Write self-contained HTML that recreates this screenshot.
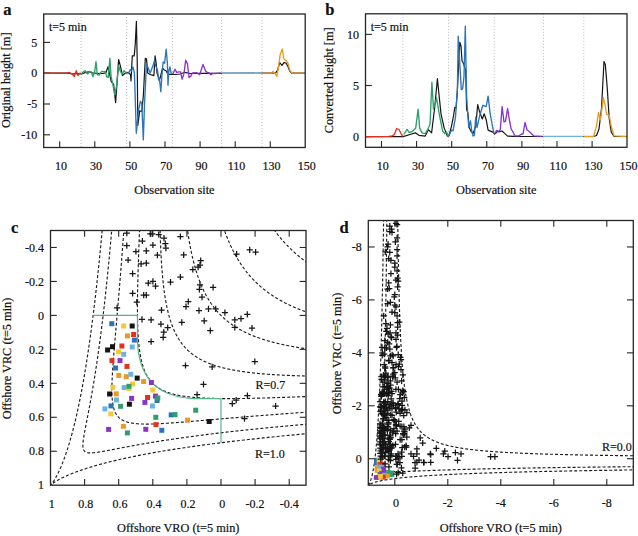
<!DOCTYPE html>
<html><head><meta charset="utf-8"><title>Figure</title>
<style>html,body{margin:0;padding:0;background:#fff;overflow:hidden}svg{display:block}</style>
</head><body>
<svg width="638" height="536" viewBox="0 0 638 536">
<defs>
<clipPath id="clipA"><rect x="43.7" y="14" width="261.5" height="133.5"/></clipPath>
<clipPath id="clipB"><rect x="365.5" y="13.8" width="261.5" height="133.5"/></clipPath>
<clipPath id="clipC"><rect x="50.5" y="230.5" width="255.5" height="254.7"/></clipPath>
<clipPath id="clipD"><rect x="368.3" y="220.5" width="265" height="264.7"/></clipPath>
</defs>
<rect width="638" height="536" fill="#fff"/>
<g font-family='"Liberation Serif", serif' fill="#111">
<line x1="81" y1="14" x2="81" y2="147.5" stroke="#b4b4b4" stroke-width="0.9" stroke-dasharray="1,2"/>
<line x1="126.7" y1="14" x2="126.7" y2="147.5" stroke="#b4b4b4" stroke-width="0.9" stroke-dasharray="1,2"/>
<line x1="172.4" y1="14" x2="172.4" y2="147.5" stroke="#b4b4b4" stroke-width="0.9" stroke-dasharray="1,2"/>
<line x1="221.7" y1="14" x2="221.7" y2="147.5" stroke="#b4b4b4" stroke-width="0.9" stroke-dasharray="1,2"/>
<line x1="262" y1="14" x2="262" y2="147.5" stroke="#b4b4b4" stroke-width="0.9" stroke-dasharray="1,2"/>
<line x1="59.69" y1="147.5" x2="59.69" y2="141.2" stroke="#262626" stroke-width="1.1"/>
<line x1="94.79" y1="147.5" x2="94.79" y2="141.2" stroke="#262626" stroke-width="1.1"/>
<line x1="129.89" y1="147.5" x2="129.89" y2="141.2" stroke="#262626" stroke-width="1.1"/>
<line x1="165" y1="147.5" x2="165" y2="141.2" stroke="#262626" stroke-width="1.1"/>
<line x1="200.09" y1="147.5" x2="200.09" y2="141.2" stroke="#262626" stroke-width="1.1"/>
<line x1="235.19" y1="147.5" x2="235.19" y2="141.2" stroke="#262626" stroke-width="1.1"/>
<line x1="270.29" y1="147.5" x2="270.29" y2="141.2" stroke="#262626" stroke-width="1.1"/>
<line x1="43.7" y1="42.4" x2="50" y2="42.4" stroke="#262626" stroke-width="1.1"/>
<text x="37.2" y="46.6" font-size="12" text-anchor="end" font-weight="normal" stroke="#111" stroke-width="0.2" >5</text>
<line x1="43.7" y1="73.2" x2="50" y2="73.2" stroke="#262626" stroke-width="1.1"/>
<text x="37.2" y="77.4" font-size="12" text-anchor="end" font-weight="normal" stroke="#111" stroke-width="0.2" >0</text>
<line x1="43.7" y1="104" x2="50" y2="104" stroke="#262626" stroke-width="1.1"/>
<text x="37.2" y="108.2" font-size="12" text-anchor="end" font-weight="normal" stroke="#111" stroke-width="0.2" >-5</text>
<line x1="43.7" y1="134.8" x2="50" y2="134.8" stroke="#262626" stroke-width="1.1"/>
<text x="37.2" y="139" font-size="12" text-anchor="end" font-weight="normal" stroke="#111" stroke-width="0.2" >-10</text>
<text x="60.99" y="169.5" font-size="12" text-anchor="middle" font-weight="normal" stroke="#111" stroke-width="0.2" >10</text>
<text x="96.09" y="169.5" font-size="12" text-anchor="middle" font-weight="normal" stroke="#111" stroke-width="0.2" >30</text>
<text x="131.19" y="169.5" font-size="12" text-anchor="middle" font-weight="normal" stroke="#111" stroke-width="0.2" >50</text>
<text x="166.3" y="169.5" font-size="12" text-anchor="middle" font-weight="normal" stroke="#111" stroke-width="0.2" >70</text>
<text x="201.4" y="169.5" font-size="12" text-anchor="middle" font-weight="normal" stroke="#111" stroke-width="0.2" >90</text>
<text x="236.5" y="169.5" font-size="12" text-anchor="middle" font-weight="normal" stroke="#111" stroke-width="0.2" >110</text>
<text x="271.59" y="169.5" font-size="12" text-anchor="middle" font-weight="normal" stroke="#111" stroke-width="0.2" >130</text>
<text x="306.69" y="169.5" font-size="12" text-anchor="middle" font-weight="normal" stroke="#111" stroke-width="0.2" >150</text>
<text x="174.45" y="193.9" font-size="12.3" text-anchor="middle" font-weight="normal" stroke="#111" stroke-width="0.2" >Observation site</text>
<text x="0" y="0" font-size="12.3" text-anchor="middle" font-weight="normal" stroke="#111" stroke-width="0.2" transform="translate(9.9,80.3) rotate(-90)">Original height [m]</text>
<text x="3.2" y="15" font-size="16.5" text-anchor="start" font-weight="bold" stroke="#111" stroke-width="0.2" >a</text>
<text x="48.9" y="30.6" font-size="12" text-anchor="start" font-weight="normal" stroke="#111" stroke-width="0.2" >t=5 min</text>
<line x1="402.8" y1="13.8" x2="402.8" y2="147.3" stroke="#b4b4b4" stroke-width="0.9" stroke-dasharray="1,2"/>
<line x1="448.5" y1="13.8" x2="448.5" y2="147.3" stroke="#b4b4b4" stroke-width="0.9" stroke-dasharray="1,2"/>
<line x1="494.2" y1="13.8" x2="494.2" y2="147.3" stroke="#b4b4b4" stroke-width="0.9" stroke-dasharray="1,2"/>
<line x1="543.5" y1="13.8" x2="543.5" y2="147.3" stroke="#b4b4b4" stroke-width="0.9" stroke-dasharray="1,2"/>
<line x1="583.8" y1="13.8" x2="583.8" y2="147.3" stroke="#b4b4b4" stroke-width="0.9" stroke-dasharray="1,2"/>
<line x1="381.5" y1="147.3" x2="381.5" y2="141" stroke="#262626" stroke-width="1.1"/>
<line x1="416.59" y1="147.3" x2="416.59" y2="141" stroke="#262626" stroke-width="1.1"/>
<line x1="451.69" y1="147.3" x2="451.69" y2="141" stroke="#262626" stroke-width="1.1"/>
<line x1="486.79" y1="147.3" x2="486.79" y2="141" stroke="#262626" stroke-width="1.1"/>
<line x1="521.89" y1="147.3" x2="521.89" y2="141" stroke="#262626" stroke-width="1.1"/>
<line x1="557" y1="147.3" x2="557" y2="141" stroke="#262626" stroke-width="1.1"/>
<line x1="592.1" y1="147.3" x2="592.1" y2="141" stroke="#262626" stroke-width="1.1"/>
<line x1="365.5" y1="34.4" x2="371.8" y2="34.4" stroke="#262626" stroke-width="1.1"/>
<text x="359" y="38.6" font-size="12" text-anchor="end" font-weight="normal" stroke="#111" stroke-width="0.2" >10</text>
<line x1="365.5" y1="85.5" x2="371.8" y2="85.5" stroke="#262626" stroke-width="1.1"/>
<text x="359" y="89.7" font-size="12" text-anchor="end" font-weight="normal" stroke="#111" stroke-width="0.2" >5</text>
<line x1="365.5" y1="136.6" x2="371.8" y2="136.6" stroke="#262626" stroke-width="1.1"/>
<text x="359" y="140.8" font-size="12" text-anchor="end" font-weight="normal" stroke="#111" stroke-width="0.2" >0</text>
<text x="382.8" y="169.5" font-size="12" text-anchor="middle" font-weight="normal" stroke="#111" stroke-width="0.2" >10</text>
<text x="417.89" y="169.5" font-size="12" text-anchor="middle" font-weight="normal" stroke="#111" stroke-width="0.2" >30</text>
<text x="453" y="169.5" font-size="12" text-anchor="middle" font-weight="normal" stroke="#111" stroke-width="0.2" >50</text>
<text x="488.09" y="169.5" font-size="12" text-anchor="middle" font-weight="normal" stroke="#111" stroke-width="0.2" >70</text>
<text x="523.19" y="169.5" font-size="12" text-anchor="middle" font-weight="normal" stroke="#111" stroke-width="0.2" >90</text>
<text x="558.29" y="169.5" font-size="12" text-anchor="middle" font-weight="normal" stroke="#111" stroke-width="0.2" >110</text>
<text x="593.39" y="169.5" font-size="12" text-anchor="middle" font-weight="normal" stroke="#111" stroke-width="0.2" >130</text>
<text x="628.49" y="169.5" font-size="12" text-anchor="middle" font-weight="normal" stroke="#111" stroke-width="0.2" >150</text>
<text x="496.25" y="193.9" font-size="12.3" text-anchor="middle" font-weight="normal" stroke="#111" stroke-width="0.2" >Observation site</text>
<text x="0" y="0" font-size="12.3" text-anchor="middle" font-weight="normal" stroke="#111" stroke-width="0.2" transform="translate(332.6,80.3) rotate(-90)">Converted height [m]</text>
<text x="325.3" y="15" font-size="16.5" text-anchor="start" font-weight="bold" stroke="#111" stroke-width="0.2" >b</text>
<text x="370.7" y="30.6" font-size="12" text-anchor="start" font-weight="normal" stroke="#111" stroke-width="0.2" >t=5 min</text>
<g clip-path="url(#clipA)">
<polyline points="43.9,73.2 66,73.2 68,72.8 71,73.6 74,73.8 77,73.5 81.7,74 85.6,72.4 88.9,71.8 92.3,72.9 97.9,73.5 103.5,73.5 106,72.5 108,66.8 109.6,74 111.3,81.9 113.6,84.1 115.6,102.6 116.9,84.7 118.6,59.5 120.3,65.7 122.5,75.7 124.7,73.5 128,72.5 130.5,74.4 131,80.9 132.3,55.9 134.2,55.9 135.2,45 136.4,21.4 137.2,60 137.8,125.3 139.7,110.8 141.8,111.5 143.3,96.2 145.3,58.4 146.5,58.9 147.7,73.1 150,74.5 153.9,75.6 155.1,55.9 156.3,64.5 157,73 158.8,78 160,78.7 162.5,68.2 164.3,70 166,70.7 168,74.4 171.7,74.4 175,74.5 180,74 185,72.3 190,73.5 200,73.4 262,73.2 272,73.2 275.8,72.6 277.5,70.5 279.7,62.5 281.9,65.3 284.2,62.5 286,63 288,66.5 289.8,71.4 292,73.2 305,73.2" fill="none" stroke="#151515" stroke-width="1.2" stroke-linejoin="round" />
<polyline points="43.9,73.2 67,73.2 69.5,72.5 72,73.8 74.3,76.6 76.3,70.8 78,75.5 79.5,73.5 81,73.2" fill="none" stroke="#e0321e" stroke-width="1.35" stroke-linejoin="round" />
<polyline points="81.7,73.5 83.4,71.8 85,70.7 86.2,72.4 87.8,74 89.5,71.3 91.2,71.8 92.9,76.8 94.5,72.9 96,61.7 97.3,74.6 99,75.2 100.7,72.4 102.4,71.3 104,71.8 105.2,71.3 106.8,76.8 108.2,77.4 109.9,58.4 111.1,76.8 112.7,83.6 114.7,94.7 116.4,86.9 118.6,65.7 120.3,71.3 122.3,74 124,70.7 125.9,72.9" fill="none" stroke="#2f9e6c" stroke-width="1.35" stroke-linejoin="round" />
<polyline points="127.5,73.5 128.5,73.1 130.3,69.5 131.5,70.7 132.9,67 134.2,71.9 134.6,78 136.3,133.3 138.5,110 140.4,101.3 141.8,103.5 143.3,139.9 144.5,105 146.2,70 146.5,64.5 148.3,68.2 150.2,73.1 152,68.2 153.3,64.5 154.5,60.8 155.7,65.7 157.6,70.6 158.6,80.2 159.4,78 160.8,91.8 162,75 163.1,62 164.6,63.2 166.2,49.1 167.4,63.2 168,85.3 168.7,72 169.9,67 171.1,73.1 172.4,73.1" fill="none" stroke="#2c74b8" stroke-width="1.35" stroke-linejoin="round" />
<polyline points="172.8,74.2 175,69.3 176.7,72.4 179,71.9 180.6,71.9 182.1,79.2 184,73.6 185.7,60.2 187.4,63.5 189,77.5 190.7,76.4 192.4,73 196.9,72.7 199.7,74.7 203,64.4 205.8,71.4 207.5,72.5 209.2,73 210.9,74.7 212.6,73.6 221,73.2" fill="none" stroke="#8a35c4" stroke-width="1.35" stroke-linejoin="round" />
<polyline points="221.7,73.2 262,73.2" fill="none" stroke="#6cb2e4" stroke-width="1.35" stroke-linejoin="round" />
<polyline points="262.3,73.1 271.8,73.1 273,71.4 274.1,72.6 275.2,73.1 276.9,76.5 278.6,65.8 280.2,54.6 282.3,49 283.6,58 284.7,59.7 286.4,60.8 288.1,63.6 289.2,68 290.3,71.4 292.6,73.1 304.9,73.1" fill="none" stroke="#e99a26" stroke-width="1.35" stroke-linejoin="round" />
</g>
<g clip-path="url(#clipB)">
<polyline points="365.7,136.6 403,136.6 412.5,133.7 415.7,132.9 418.9,135.3 425.2,136.1 428.4,129.7 431.6,132.9 434.7,107.5 437.4,78.7 438.7,91.7 441,113.9 444.2,128.1 447.4,136.1 448.9,136 451.5,126.2 453.5,115.8 454.8,107.3 456.1,107.9 457.4,89.6 459.8,42.3 461,46 462,60.7 463.4,63.2 464.5,66.9 465.7,70 466.6,109.2 467.9,113.1 469.2,127.5 471.1,131.5 473.1,133.4 475.7,126.2 477.7,104.6 479.6,111.8 482.3,119 484.2,113.8 486.2,119.7 488.1,130.1 492.7,132.1 494.7,134 497.3,131.7 499.7,131.7 502.1,131 504.6,133.4 507.6,136.1 514,136.4 593.6,136.5 596.5,135.5 599,129 601.5,108.4 604,61.5 605.3,64.4 607.3,88.9 609.2,118.3 611.2,132 614.1,136.5 627,136.5" fill="none" stroke="#151515" stroke-width="1.2" stroke-linejoin="round" />
<polyline points="365.7,136.6 388.8,136.3 392,135.8 394.3,134.5 396.7,128.5 399,129.5 401,133.5 402.7,136.6" fill="none" stroke="#e0321e" stroke-width="1.35" stroke-linejoin="round" />
<polyline points="403.8,134.5 407,129.4 409.4,132.6 412.5,131.3 415.7,128.1 418.1,109.1 419.7,128.1 422.1,132.9 425.2,133.7 427.6,129.7 430,124.2 431.9,82.2 433.5,109.1 436.6,98 439.5,115.5 442.7,131.3 445,133.7 446.6,132.1 448.2,136.1" fill="none" stroke="#2f9e6c" stroke-width="1.35" stroke-linejoin="round" />
<polyline points="448.9,136 451.5,130.1 453,130.8 455.5,117.1 457.4,89.6 458.2,36.1 461.3,89.6 462.6,89 464,76.5 465.3,26.1 466.6,96.1 467.9,115.8 468.8,127.5 470.5,121 471.8,131.5 473.1,136 474.4,135.4 475.7,117.1 477,127.5 479.6,115.8 482.9,105.3 486.2,106.6 488.1,96.1 490.1,113.1 492.7,127.5 494,134" fill="none" stroke="#2c74b8" stroke-width="1.35" stroke-linejoin="round" />
<polyline points="494.6,134 496.7,130.4 498.5,131.6 500.3,129.8 502.1,106.7 504,121.9 505.5,121.3 507.6,108.5 509.4,120 511.2,129.2 513.1,132.2 514.9,135.8 519.1,135.8 521.6,134 523,134 525,122.5 527,129.8 530,132.2 533.7,135.8 542.8,136.4" fill="none" stroke="#8a35c4" stroke-width="1.35" stroke-linejoin="round" />
<polyline points="543,136.4 583.5,136.4" fill="none" stroke="#6cb2e4" stroke-width="1.35" stroke-linejoin="round" />
<polyline points="583.8,136.5 593.6,136.5 596.5,126.1 598.5,112.4 600.4,120.2 603.4,97.7 605.3,106.5 606.7,114.4 609.2,115.4 611.2,126.1 614.1,135.9 626.8,136.5" fill="none" stroke="#e99a26" stroke-width="1.35" stroke-linejoin="round" />
</g>
<rect x="43.7" y="14" width="261.5" height="133.5" fill="none" stroke="#262626" stroke-width="1.3"/>
<rect x="365.5" y="13.8" width="261.5" height="133.5" fill="none" stroke="#262626" stroke-width="1.3"/>
<g clip-path="url(#clipC)">
<polyline points="260.97,208 261.04,208.16 261.12,208.31 261.2,208.46 261.28,208.62 261.36,208.77 261.44,208.93 261.52,209.08 261.6,209.23 261.68,209.39 261.76,209.54 261.84,209.69 261.92,209.85 262,210 262.08,210.15 262.16,210.3 262.24,210.45 262.32,210.61 262.4,210.76 262.48,210.91 262.56,211.06 262.64,211.21 262.72,211.36 262.8,211.51 262.88,211.66 262.96,211.82 263.04,211.97 263.12,212.12 263.21,212.27 263.29,212.42 263.37,212.57 263.45,212.72 263.53,212.86 263.61,213.01 263.7,213.16 263.78,213.31 263.86,213.46 263.94,213.61 264.02,213.76 264.11,213.91 264.19,214.05 264.27,214.2 264.35,214.35 264.44,214.5 264.52,214.64 264.6,214.79 264.68,214.94 264.77,215.09 264.85,215.23 264.93,215.38 265.02,215.53 265.1,215.67 265.18,215.82 265.27,215.96 265.35,216.11 265.44,216.26 265.52,216.4 265.6,216.55 265.69,216.69 265.77,216.84 265.86,216.98 265.94,217.13 266.03,217.27 266.11,217.42 266.2,217.56 266.28,217.7 266.37,217.85 266.45,217.99 266.54,218.13 266.62,218.28 266.71,218.42 266.79,218.56 266.88,218.71 266.96,218.85 267.05,218.99 267.13,219.14 267.22,219.28 267.31,219.42 267.39,219.56 267.48,219.7 267.57,219.85 267.65,219.99 267.74,220.13 267.82,220.27 267.91,220.41 268,220.55 268.09,220.69 268.17,220.83 268.26,220.97 268.35,221.11 268.43,221.25 268.52,221.39 268.61,221.53 268.7,221.67 268.78,221.81 268.87,221.95 268.96,222.09 269.05,222.23 269.14,222.37 269.23,222.51 269.31,222.65 269.4,222.79 269.49,222.92 269.58,223.06 269.67,223.2 269.76,223.34 269.85,223.47 269.93,223.61 270.02,223.75 270.11,223.89 270.2,224.02 270.29,224.16 270.38,224.3 270.47,224.43 270.56,224.57 270.65,224.71 270.74,224.84 270.83,224.98 270.92,225.12 271.01,225.25 271.1,225.39 271.19,225.52 271.28,225.66 271.37,225.79 271.47,225.93 271.56,226.06 271.65,226.2 271.74,226.33 271.83,226.47 271.92,226.6 272.01,226.73 272.1,226.87 272.2,227 272.29,227.14 272.38,227.27 272.47,227.4 272.56,227.54 272.66,227.67 272.75,227.8 272.84,227.93 272.93,228.07 273.03,228.2 273.12,228.33 273.21,228.46 273.31,228.6 273.4,228.73 273.49,228.86 273.59,228.99 273.68,229.12 273.77,229.25 273.87,229.38 273.96,229.52 274.05,229.65 274.15,229.78 274.24,229.91 274.34,230.04 274.43,230.17 274.52,230.3 274.62,230.43 274.71,230.56 274.81,230.69 274.9,230.82 275,230.95 275.09,231.08 275.19,231.2 275.28,231.33 275.38,231.46 275.47,231.59 275.57,231.72 275.67,231.85 275.76,231.98 275.86,232.1 275.95,232.23 276.05,232.36 276.15,232.49 276.24,232.62 276.34,232.74 276.44,232.87 276.53,233 276.63,233.12 276.73,233.25 276.82,233.38 276.92,233.5 277.02,233.63 277.11,233.76 277.21,233.88 277.31,234.01 277.41,234.13 277.51,234.26 277.6,234.39 277.7,234.51 277.8,234.64 277.9,234.76 278,234.89 278.09,235.01 278.19,235.14 278.29,235.26 278.39,235.38 278.49,235.51 278.59,235.63 278.69,235.76 278.79,235.88 278.89,236 278.99,236.13 279.09,236.25 279.19,236.38 279.29,236.5 279.39,236.62 279.49,236.74 279.59,236.87 279.69,236.99 279.79,237.11 279.89,237.23 279.99,237.36 280.09,237.48 280.19,237.6 280.29,237.72 280.39,237.84 280.49,237.97 280.59,238.09 280.7,238.21 280.8,238.33 280.9,238.45 281,238.57 281.1,238.69 281.2,238.81 281.31,238.93 281.41,239.05 281.51,239.17 281.61,239.29 281.72,239.41 281.82,239.53 281.92,239.65 282.03,239.77 282.13,239.89 282.23,240.01 282.34,240.13 282.44,240.25 282.54,240.37 282.65,240.49 282.75,240.6 282.85,240.72 282.96,240.84 283.06,240.96 283.17,241.08 283.27,241.2 283.38,241.31 283.48,241.43 283.58,241.55 283.69,241.67 283.79,241.78 283.9,241.9 284,242.02 284.11,242.13 284.22,242.25 284.32,242.37 284.43,242.48 284.53,242.6 284.64,242.72 284.74,242.83 284.85,242.95 284.96,243.06 285.06,243.18 285.17,243.3 285.28,243.41 285.38,243.53 285.49,243.64 285.6,243.76 285.71,243.87 285.81,243.99 285.92,244.1 286.03,244.22 286.14,244.33 286.24,244.44 286.35,244.56 286.46,244.67 286.57,244.79 286.68,244.9 286.78,245.01 286.89,245.13 287,245.24 287.11,245.35 287.22,245.47 287.33,245.58 287.44,245.69 287.55,245.8 287.66,245.92 287.76,246.03 287.87,246.14 287.98,246.25 288.09,246.37 288.2,246.48 288.31,246.59 288.42,246.7 288.54,246.81 288.65,246.92 288.76,247.04 288.87,247.15 288.98,247.26 289.09,247.37 289.2,247.48 289.31,247.59 289.42,247.7 289.53,247.81 289.65,247.92 289.76,248.03 289.87,248.14 289.98,248.25 290.09,248.36 290.21,248.47 290.32,248.58 290.43,248.69 290.54,248.8 290.66,248.91 290.77,249.02 290.88,249.13 291,249.24 291.11,249.34 291.22,249.45 291.34,249.56 291.45,249.67 291.56,249.78 291.68,249.89 291.79,249.99 291.91,250.1 292.02,250.21 292.13,250.32 292.25,250.42 292.36,250.53 292.48,250.64 292.59,250.75 292.71,250.85 292.82,250.96 292.94,251.07 293.05,251.17 293.17,251.28 293.29,251.39 293.4,251.49 293.52,251.6 293.63,251.71 293.75,251.81 293.87,251.92 293.98,252.02 294.1,252.13 294.22,252.23 294.33,252.34 294.45,252.44 294.57,252.55 294.69,252.65 294.8,252.76 294.92,252.86 295.04,252.97 295.16,253.07 295.27,253.18 295.39,253.28 295.51,253.39 295.63,253.49 295.75,253.59 295.87,253.7 295.98,253.8 296.1,253.9 296.22,254.01 296.34,254.11 296.46,254.21 296.58,254.32 296.7,254.42 296.82,254.52 296.94,254.63 297.06,254.73 297.18,254.83 297.3,254.93 297.42,255.03 297.54,255.14 297.66,255.24 297.78,255.34 297.9,255.44 298.02,255.54 298.15,255.65 298.27,255.75 298.39,255.85 298.51,255.95 298.63,256.05 298.75,256.15 298.88,256.25 299,256.35 299.12,256.45 299.24,256.55 299.37,256.65 299.49,256.75 299.61,256.85 299.73,256.95 299.86,257.05 299.98,257.15 300.1,257.25 300.23,257.35 300.35,257.45 300.47,257.55 300.6,257.65 300.72,257.75 300.85,257.85 300.97,257.95 301.1,258.05 301.22,258.15 301.35,258.24 301.47,258.34 301.6,258.44 301.72,258.54 301.85,258.64 301.97,258.74 302.1,258.83 302.22,258.93 302.35,259.03 302.47,259.13 302.6,259.22 302.73,259.32 302.85,259.42 302.98,259.52 303.11,259.61 303.23,259.71 303.36,259.81 303.49,259.9 303.62,260 303.74,260.1 303.87,260.19 304,260.29 304.13,260.38 304.25,260.48 304.38,260.58 304.51,260.67 304.64,260.77 304.77,260.86 304.9,260.96 305.03,261.05 305.15,261.15 305.28,261.24 305.41,261.34 305.54,261.43 305.67,261.53 305.8,261.62 305.93,261.72 306.06,261.81 306.19,261.91 306.32,262 306.45,262.1 306.58,262.19 306.71,262.28 306.85,262.38 306.98,262.47 307.11,262.56 307.24,262.66 307.37,262.75 307.5,262.84 307.63,262.94 307.77,263.03 307.9,263.12 308.03,263.22 308.16,263.31 308.3,263.4 308.43,263.49 308.56,263.59 308.69,263.68 308.83,263.77 308.96,263.86 309.09,263.96 309.23,264.05 309.36,264.14 309.49,264.23 309.63,264.32 309.76,264.41 309.9,264.51 310.03,264.6 310.17,264.69 310.3,264.78 310.44,264.87 310.57,264.96 310.71,265.05 310.84,265.14 310.98,265.23 311.11,265.32 311.25,265.41 311.38,265.5 311.52,265.59 311.66,265.68 311.79,265.77 311.93,265.86 312.07,265.95 312.2,266.04 312.34,266.13 312.48,266.22 312.62,266.31 312.75,266.4 312.89,266.49 313.03,266.58 313.17,266.67 313.3,266.75 313.44,266.84 313.58,266.93 313.72,267.02 313.86,267.11 314,267.2 314.14,267.28 314.27,267.37 314.41,267.46 314.55,267.55 314.69,267.64 314.83,267.72 314.97,267.81 315.11,267.9 315.25,267.99 315.39,268.07 315.53,268.16 315.68,268.25 315.82,268.33 315.96,268.42 316.1,268.51 316.24,268.59 316.38,268.68 316.52,268.77 316.66,268.85 316.81,268.94 316.95,269.03 317.09,269.11 317.23,269.2 317.38,269.28 317.52,269.37 317.66,269.46 317.8,269.54 317.95,269.63 318.09,269.71 318.23,269.8 318.38,269.88 318.52,269.97 318.67,270.05 318.81,270.14 318.95,270.22 319.1,270.31 319.24,270.39 319.39,270.47 319.53,270.56 319.68,270.64 319.82,270.73 319.97,270.81 320.12,270.9 320.26,270.98 320.41,271.06 320.55,271.15 320.7,271.23 320.85,271.31 320.99,271.4 321.14,271.48 321.29,271.56 321.43,271.65 321.58,271.73 321.73,271.81 321.88,271.89 322.02,271.98 322.17,272.06 322.32,272.14 322.47,272.22 322.62,272.31 322.76,272.39 322.91,272.47 323.06,272.55 323.21,272.63 323.36,272.72 323.51,272.8 323.66,272.88 323.81,272.96 323.96,273.04 324.11,273.12 324.26,273.21 324.41,273.29 324.56,273.37 324.71,273.45 324.86,273.53 325.01,273.61 325.16,273.69 325.31,273.77 325.47,273.85 325.62,273.93 325.77,274.01 325.92,274.09 326.07,274.17 326.23,274.25 326.38,274.33 326.53,274.41 326.68,274.49 326.84,274.57 326.99,274.65 327.14,274.73 327.3,274.81 327.45,274.89 327.6,274.97 327.76,275.05 327.91,275.13 328.07,275.21 328.22,275.28 328.38,275.36 328.53,275.44 328.69,275.52 328.84,275.6" fill="none" stroke="#1c1c1c" stroke-width="1.15" stroke-linejoin="round" stroke-dasharray="3,2" stroke-linejoin="round"/>
<polyline points="217.52,207.28 217.61,207.61 217.69,207.95 217.78,208.28 217.86,208.61 217.95,208.95 218.03,209.28 218.12,209.61 218.2,209.94 218.29,210.27 218.38,210.6 218.46,210.92 218.55,211.25 218.64,211.58 218.72,211.9 218.81,212.23 218.9,212.55 218.99,212.88 219.08,213.2 219.16,213.52 219.25,213.84 219.34,214.17 219.43,214.49 219.52,214.81 219.61,215.12 219.7,215.44 219.79,215.76 219.88,216.08 219.97,216.39 220.06,216.71 220.15,217.02 220.24,217.34 220.34,217.65 220.43,217.97 220.52,218.28 220.61,218.59 220.7,218.9 220.8,219.21 220.89,219.52 220.98,219.83 221.08,220.14 221.17,220.45 221.26,220.75 221.36,221.06 221.45,221.37 221.55,221.67 221.64,221.98 221.74,222.28 221.83,222.58 221.93,222.89 222.02,223.19 222.12,223.49 222.22,223.79 222.31,224.09 222.41,224.39 222.51,224.69 222.6,224.99 222.7,225.29 222.8,225.58 222.9,225.88 223,226.17 223.09,226.47 223.19,226.76 223.29,227.06 223.39,227.35 223.49,227.64 223.59,227.94 223.69,228.23 223.79,228.52 223.89,228.81 223.99,229.1 224.09,229.39 224.2,229.67 224.3,229.96 224.4,230.25 224.5,230.53 224.6,230.82 224.71,231.11 224.81,231.39 224.91,231.67 225.02,231.96 225.12,232.24 225.22,232.52 225.33,232.8 225.43,233.09 225.54,233.37 225.64,233.65 225.75,233.92 225.85,234.2 225.96,234.48 226.06,234.76 226.17,235.04 226.28,235.31 226.38,235.59 226.49,235.86 226.6,236.14 226.71,236.41 226.81,236.68 226.92,236.96 227.03,237.23 227.14,237.5 227.25,237.77 227.36,238.04 227.47,238.31 227.58,238.58 227.69,238.85 227.8,239.12 227.91,239.38 228.02,239.65 228.13,239.92 228.24,240.18 228.35,240.45 228.47,240.71 228.58,240.98 228.69,241.24 228.8,241.5 228.92,241.77 229.03,242.03 229.14,242.29 229.26,242.55 229.37,242.81 229.49,243.07 229.6,243.33 229.72,243.59 229.83,243.84 229.95,244.1 230.06,244.36 230.18,244.61 230.3,244.87 230.41,245.12 230.53,245.38 230.65,245.63 230.76,245.89 230.88,246.14 231,246.39 231.12,246.64 231.24,246.89 231.36,247.15 231.48,247.4 231.6,247.64 231.72,247.89 231.84,248.14 231.96,248.39 232.08,248.64 232.2,248.88 232.32,249.13 232.44,249.38 232.56,249.62 232.69,249.87 232.81,250.11 232.93,250.35 233.05,250.6 233.18,250.84 233.3,251.08 233.43,251.32 233.55,251.57 233.67,251.81 233.8,252.05 233.93,252.29 234.05,252.52 234.18,252.76 234.3,253 234.43,253.24 234.56,253.48 234.68,253.71 234.81,253.95 234.94,254.18 235.07,254.42 235.2,254.65 235.32,254.89 235.45,255.12 235.58,255.35 235.71,255.58 235.84,255.82 235.97,256.05 236.1,256.28 236.23,256.51 236.36,256.74 236.5,256.97 236.63,257.2 236.76,257.42 236.89,257.65 237.03,257.88 237.16,258.11 237.29,258.33 237.43,258.56 237.56,258.78 237.69,259.01 237.83,259.23 237.96,259.46 238.1,259.68 238.23,259.9 238.37,260.12 238.51,260.35 238.64,260.57 238.78,260.79 238.92,261.01 239.05,261.23 239.19,261.45 239.33,261.67 239.47,261.88 239.61,262.1 239.75,262.32 239.89,262.54 240.03,262.75 240.17,262.97 240.31,263.19 240.45,263.4 240.59,263.61 240.73,263.83 240.87,264.04 241.02,264.26 241.16,264.47 241.3,264.68 241.44,264.89 241.59,265.1 241.73,265.31 241.88,265.52 242.02,265.73 242.17,265.94 242.31,266.15 242.46,266.36 242.6,266.57 242.75,266.78 242.9,266.98 243.04,267.19 243.19,267.4 243.34,267.6 243.49,267.81 243.63,268.01 243.78,268.22 243.93,268.42 244.08,268.62 244.23,268.83 244.38,269.03 244.53,269.23 244.68,269.43 244.83,269.64 244.98,269.84 245.14,270.04 245.29,270.24 245.44,270.44 245.59,270.63 245.75,270.83 245.9,271.03 246.06,271.23 246.21,271.43 246.36,271.62 246.52,271.82 246.68,272.01 246.83,272.21 246.99,272.41 247.14,272.6 247.3,272.79 247.46,272.99 247.62,273.18 247.77,273.37 247.93,273.57 248.09,273.76 248.25,273.95 248.41,274.14 248.57,274.33 248.73,274.52 248.89,274.71 249.05,274.9 249.21,275.09 249.37,275.28 249.54,275.47 249.7,275.65 249.86,275.84 250.02,276.03 250.19,276.21 250.35,276.4 250.52,276.59 250.68,276.77 250.85,276.96 251.01,277.14 251.18,277.32 251.34,277.51 251.51,277.69 251.68,277.87 251.85,278.06 252.01,278.24 252.18,278.42 252.35,278.6 252.52,278.78 252.69,278.96 252.86,279.14 253.03,279.32 253.2,279.5 253.37,279.68 253.54,279.85 253.71,280.03 253.88,280.21 254.06,280.39 254.23,280.56 254.4,280.74 254.58,280.92 254.75,281.09 254.93,281.27 255.1,281.44 255.28,281.61 255.45,281.79 255.63,281.96 255.8,282.13 255.98,282.31 256.16,282.48 256.34,282.65 256.51,282.82 256.69,282.99 256.87,283.16 257.05,283.33 257.23,283.5 257.41,283.67 257.59,283.84 257.77,284.01 257.95,284.18 258.13,284.35 258.32,284.51 258.5,284.68 258.68,284.85 258.87,285.01 259.05,285.18 259.23,285.35 259.42,285.51 259.6,285.68 259.79,285.84 259.97,286 260.16,286.17 260.35,286.33 260.53,286.49 260.72,286.66 260.91,286.82 261.1,286.98 261.29,287.14 261.48,287.3 261.67,287.46 261.86,287.62 262.05,287.78 262.24,287.94 262.43,288.1 262.62,288.26 262.81,288.42 263.01,288.58 263.2,288.74 263.39,288.89 263.59,289.05 263.78,289.21 263.98,289.36 264.17,289.52 264.37,289.67 264.56,289.83 264.76,289.98 264.96,290.14 265.16,290.29 265.35,290.45 265.55,290.6 265.75,290.75 265.95,290.91 266.15,291.06 266.35,291.21 266.55,291.36 266.75,291.51 266.95,291.66 267.16,291.81 267.36,291.97 267.56,292.12 267.76,292.26 267.97,292.41 268.17,292.56 268.38,292.71 268.58,292.86 268.79,293.01 268.99,293.15 269.2,293.3 269.41,293.45 269.62,293.59 269.82,293.74 270.03,293.89 270.24,294.03 270.45,294.18 270.66,294.32 270.87,294.47 271.08,294.61 271.29,294.75 271.5,294.9 271.72,295.04 271.93,295.18 272.14,295.32 272.35,295.47 272.57,295.61 272.78,295.75 273,295.89 273.21,296.03 273.43,296.17 273.65,296.31 273.86,296.45 274.08,296.59 274.3,296.73 274.52,296.87 274.74,297.01 274.95,297.14 275.17,297.28 275.4,297.42 275.62,297.56 275.84,297.69 276.06,297.83 276.28,297.97 276.5,298.1 276.73,298.24 276.95,298.37 277.17,298.51 277.4,298.64 277.62,298.77 277.85,298.91 278.08,299.04 278.3,299.18 278.53,299.31 278.76,299.44 278.99,299.57 279.22,299.7 279.44,299.84 279.67,299.97 279.9,300.1 280.13,300.23 280.37,300.36 280.6,300.49 280.83,300.62 281.06,300.75 281.3,300.88 281.53,301.01 281.76,301.13 282,301.26 282.23,301.39 282.47,301.52 282.71,301.65 282.94,301.77 283.18,301.9 283.42,302.03 283.66,302.15 283.9,302.28 284.13,302.4 284.37,302.53 284.62,302.65 284.86,302.78 285.1,302.9 285.34,303.03 285.58,303.15 285.83,303.27 286.07,303.4 286.31,303.52 286.56,303.64 286.8,303.76 287.05,303.88 287.3,304.01 287.54,304.13 287.79,304.25 288.04,304.37 288.29,304.49 288.53,304.61 288.78,304.73 289.03,304.85 289.29,304.97 289.54,305.09 289.79,305.2 290.04,305.32 290.29,305.44 290.55,305.56 290.8,305.68 291.05,305.79 291.31,305.91 291.57,306.03 291.82,306.14 292.08,306.26 292.34,306.37 292.59,306.49 292.85,306.61 293.11,306.72 293.37,306.83 293.63,306.95 293.89,307.06 294.15,307.18 294.41,307.29 294.68,307.4 294.94,307.52 295.2,307.63 295.47,307.74 295.73,307.85 296,307.97 296.26,308.08 296.53,308.19 296.79,308.3 297.06,308.41 297.33,308.52 297.6,308.63 297.87,308.74 298.14,308.85 298.41,308.96 298.68,309.07 298.95,309.18 299.22,309.29 299.49,309.39 299.77,309.5 300.04,309.61 300.32,309.72 300.59,309.82 300.87,309.93 301.14,310.04 301.42,310.14 301.7,310.25 301.97,310.36 302.25,310.46 302.53,310.57 302.81,310.67 303.09,310.78 303.37,310.88 303.65,310.99 303.94,311.09 304.22,311.19 304.5,311.3 304.79,311.4 305.07,311.5 305.36,311.61 305.64,311.71 305.93,311.81 306.21,311.91 306.5,312.01 306.79,312.12 307.08,312.22 307.37,312.32 307.66,312.42 307.95,312.52 308.24,312.62 308.53,312.72 308.83,312.82 309.12,312.92 309.41,313.02 309.71,313.12 310,313.22 310.3,313.31 310.59,313.41 310.89,313.51 311.19,313.61 311.49,313.71 311.79,313.8 312.08,313.9 312.38,314 312.69,314.09 312.99,314.19 313.29,314.28 313.59,314.38 313.89,314.48 314.2,314.57 314.5,314.67 314.81,314.76 315.11,314.86 315.42,314.95 315.73,315.04 316.04,315.14 316.34,315.23 316.65,315.32 316.96,315.42 317.27,315.51 317.58,315.6 317.9,315.69 318.21,315.79 318.52,315.88 318.84,315.97 319.15,316.06 319.47,316.15 319.78,316.24 320.1,316.33 320.41,316.42 320.73,316.52 321.05,316.61 321.37,316.69 321.69,316.78 322.01,316.87 322.33,316.96 322.65,317.05 322.97,317.14 323.3,317.23 323.62,317.32 323.95,317.4 324.27,317.49 324.6,317.58 324.92,317.67 325.25,317.75 325.58,317.84 325.91,317.93 326.24,318.01 326.57,318.1 326.9,318.19 327.23,318.27 327.56,318.36 327.89,318.44 328.23,318.53 328.56,318.61 328.9,318.7 329.23,318.78 329.57,318.86" fill="none" stroke="#1c1c1c" stroke-width="1.15" stroke-linejoin="round" stroke-dasharray="3,2" stroke-linejoin="round"/>
<polyline points="184.68,206.4 184.74,206.97 184.79,207.53 184.85,208.09 184.91,208.66 184.96,209.22 185.02,209.77 185.08,210.33 185.14,210.88 185.19,211.44 185.25,211.99 185.31,212.54 185.37,213.09 185.43,213.63 185.49,214.18 185.55,214.72 185.61,215.26 185.67,215.8 185.73,216.34 185.8,216.87 185.86,217.41 185.92,217.94 185.98,218.47 186.05,219 186.11,219.53 186.17,220.06 186.24,220.58 186.3,221.1 186.37,221.62 186.43,222.14 186.5,222.66 186.56,223.18 186.63,223.69 186.69,224.21 186.76,224.72 186.83,225.23 186.9,225.74 186.96,226.24 187.03,226.75 187.1,227.25 187.17,227.75 187.24,228.25 187.31,228.75 187.38,229.25 187.45,229.74 187.52,230.24 187.59,230.73 187.66,231.22 187.73,231.71 187.8,232.2 187.88,232.69 187.95,233.17 188.02,233.65 188.1,234.13 188.17,234.62 188.24,235.09 188.32,235.57 188.39,236.05 188.47,236.52 188.55,236.99 188.62,237.46 188.7,237.93 188.78,238.4 188.85,238.87 188.93,239.33 189.01,239.8 189.09,240.26 189.17,240.72 189.24,241.18 189.32,241.64 189.4,242.09 189.48,242.55 189.57,243 189.65,243.45 189.73,243.9 189.81,244.35 189.89,244.8 189.98,245.25 190.06,245.69 190.14,246.14 190.23,246.58 190.31,247.02 190.4,247.46 190.48,247.9 190.57,248.33 190.65,248.77 190.74,249.2 190.82,249.63 190.91,250.06 191,250.49 191.09,250.92 191.18,251.35 191.27,251.77 191.35,252.2 191.44,252.62 191.53,253.04 191.62,253.46 191.72,253.88 191.81,254.29 191.9,254.71 191.99,255.12 192.08,255.54 192.18,255.95 192.27,256.36 192.36,256.77 192.46,257.18 192.55,257.58 192.65,257.99 192.74,258.39 192.84,258.79 192.94,259.2 193.03,259.6 193.13,259.99 193.23,260.39 193.33,260.79 193.43,261.18 193.53,261.58 193.63,261.97 193.73,262.36 193.83,262.75 193.93,263.14 194.03,263.52 194.13,263.91 194.23,264.29 194.34,264.68 194.44,265.06 194.54,265.44 194.65,265.82 194.75,266.2 194.86,266.57 194.96,266.95 195.07,267.32 195.17,267.7 195.28,268.07 195.39,268.44 195.5,268.81 195.61,269.18 195.71,269.54 195.82,269.91 195.93,270.28 196.04,270.64 196.16,271 196.27,271.36 196.38,271.72 196.49,272.08 196.6,272.44 196.72,272.8 196.83,273.15 196.94,273.5 197.06,273.86 197.17,274.21 197.29,274.56 197.41,274.91 197.52,275.26 197.64,275.6 197.76,275.95 197.88,276.3 198,276.64 198.11,276.98 198.23,277.32 198.35,277.66 198.48,278 198.6,278.34 198.72,278.68 198.84,279.01 198.96,279.35 199.09,279.68 199.21,280.01 199.33,280.34 199.46,280.67 199.59,281 199.71,281.33 199.84,281.66 199.96,281.98 200.09,282.31 200.22,282.63 200.35,282.95 200.48,283.27 200.61,283.59 200.74,283.91 200.87,284.23 201,284.55 201.13,284.86 201.26,285.18 201.4,285.49 201.53,285.81 201.67,286.12 201.8,286.43 201.93,286.74 202.07,287.05 202.21,287.35 202.34,287.66 202.48,287.97 202.62,288.27 202.76,288.57 202.9,288.88 203.04,289.18 203.18,289.48 203.32,289.78 203.46,290.07 203.6,290.37 203.74,290.67 203.89,290.96 204.03,291.26 204.17,291.55 204.32,291.84 204.46,292.13 204.61,292.42 204.76,292.71 204.9,293 205.05,293.29 205.2,293.57 205.35,293.86 205.5,294.14 205.65,294.43 205.8,294.71 205.95,294.99 206.1,295.27 206.26,295.55 206.41,295.83 206.56,296.1 206.72,296.38 206.87,296.66 207.03,296.93 207.18,297.2 207.34,297.48 207.5,297.75 207.66,298.02 207.81,298.29 207.97,298.56 208.13,298.83 208.29,299.09 208.46,299.36 208.62,299.62 208.78,299.89 208.94,300.15 209.11,300.41 209.27,300.67 209.44,300.93 209.6,301.19 209.77,301.45 209.94,301.71 210.1,301.97 210.27,302.22 210.44,302.48 210.61,302.73 210.78,302.99 210.95,303.24 211.12,303.49 211.29,303.74 211.47,303.99 211.64,304.24 211.81,304.49 211.99,304.73 212.17,304.98 212.34,305.23 212.52,305.47 212.7,305.71 212.87,305.96 213.05,306.2 213.23,306.44 213.41,306.68 213.59,306.92 213.78,307.16 213.96,307.39 214.14,307.63 214.32,307.87 214.51,308.1 214.69,308.34 214.88,308.57 215.07,308.8 215.25,309.03 215.44,309.26 215.63,309.49 215.82,309.72 216.01,309.95 216.2,310.18 216.39,310.41 216.58,310.63 216.78,310.86 216.97,311.08 217.17,311.3 217.36,311.53 217.56,311.75 217.75,311.97 217.95,312.19 218.15,312.41 218.35,312.63 218.55,312.85 218.75,313.06 218.95,313.28 219.15,313.5 219.35,313.71 219.56,313.92 219.76,314.14 219.96,314.35 220.17,314.56 220.38,314.77 220.58,314.98 220.79,315.19 221,315.4 221.21,315.61 221.42,315.81 221.63,316.02 221.84,316.23 222.05,316.43 222.27,316.64 222.48,316.84 222.7,317.04 222.91,317.24 223.13,317.44 223.35,317.64 223.56,317.84 223.78,318.04 224,318.24 224.22,318.44 224.44,318.63 224.67,318.83 224.89,319.02 225.11,319.22 225.34,319.41 225.56,319.61 225.79,319.8 226.01,319.99 226.24,320.18 226.47,320.37 226.7,320.56 226.93,320.75 227.16,320.94 227.39,321.12 227.63,321.31 227.86,321.49 228.09,321.68 228.33,321.86 228.56,322.05 228.8,322.23 229.04,322.41 229.28,322.59 229.52,322.78 229.76,322.96 230,323.14 230.24,323.31 230.48,323.49 230.73,323.67 230.97,323.85 231.22,324.02 231.46,324.2 231.71,324.37 231.96,324.55 232.21,324.72 232.46,324.89 232.71,325.07 232.96,325.24 233.21,325.41 233.47,325.58 233.72,325.75 233.97,325.92 234.23,326.09 234.49,326.25 234.75,326.42 235,326.59 235.26,326.75 235.52,326.92 235.79,327.08 236.05,327.24 236.31,327.41 236.58,327.57 236.84,327.73 237.11,327.89 237.38,328.05 237.64,328.21 237.91,328.37 238.18,328.53 238.45,328.69 238.72,328.85 239,329 239.27,329.16 239.55,329.32 239.82,329.47 240.1,329.62 240.38,329.78 240.65,329.93 240.93,330.08 241.21,330.24 241.5,330.39 241.78,330.54 242.06,330.69 242.35,330.84 242.63,330.99 242.92,331.13 243.2,331.28 243.49,331.43 243.78,331.58 244.07,331.72 244.36,331.87 244.66,332.01 244.95,332.16 245.24,332.3 245.54,332.44 245.83,332.59 246.13,332.73 246.43,332.87 246.73,333.01 247.03,333.15 247.33,333.29 247.63,333.43 247.94,333.57 248.24,333.71 248.55,333.84 248.85,333.98 249.16,334.12 249.47,334.25 249.78,334.39 250.09,334.52 250.4,334.66 250.72,334.79 251.03,334.92 251.35,335.05 251.66,335.19 251.98,335.32 252.3,335.45 252.62,335.58 252.94,335.71 253.26,335.84 253.58,335.97 253.9,336.09 254.23,336.22 254.56,336.35 254.88,336.48 255.21,336.6 255.54,336.73 255.87,336.85 256.2,336.98 256.53,337.1 256.87,337.22 257.2,337.35 257.54,337.47 257.88,337.59 258.21,337.71 258.55,337.83 258.89,337.95 259.23,338.07 259.58,338.19 259.92,338.31 260.27,338.43 260.61,338.55 260.96,338.66 261.31,338.78 261.66,338.9 262.01,339.01 262.36,339.13 262.71,339.24 263.07,339.36 263.42,339.47 263.78,339.58 264.14,339.7 264.5,339.81 264.86,339.92 265.22,340.03 265.58,340.14 265.95,340.25 266.31,340.36 266.68,340.47 267.04,340.58 267.41,340.69 267.78,340.8 268.15,340.91 268.53,341.01 268.9,341.12 269.27,341.23 269.65,341.33 270.03,341.44 270.41,341.54 270.79,341.65 271.17,341.75 271.55,341.85 271.93,341.96 272.32,342.06 272.7,342.16 273.09,342.26 273.48,342.36 273.87,342.46 274.26,342.56 274.65,342.66 275.05,342.76 275.44,342.86 275.84,342.96 276.24,343.06 276.63,343.15 277.03,343.25 277.44,343.35 277.84,343.44 278.24,343.54 278.65,343.64 279.06,343.73 279.46,343.82 279.87,343.92 280.28,344.01 280.7,344.1 281.11,344.2 281.52,344.29 281.94,344.38 282.36,344.47 282.78,344.56 283.2,344.65 283.62,344.74 284.04,344.83 284.46,344.92 284.89,345.01 285.32,345.1 285.75,345.19 286.18,345.28 286.61,345.36 287.04,345.45 287.47,345.54 287.91,345.62 288.34,345.71 288.78,345.79 289.22,345.88 289.66,345.96 290.11,346.05 290.55,346.13 290.99,346.21 291.44,346.3 291.89,346.38 292.34,346.46 292.79,346.54 293.24,346.62 293.7,346.71 294.15,346.79 294.61,346.87 295.07,346.95 295.53,347.02 295.99,347.1 296.45,347.18 296.91,347.26 297.38,347.34 297.85,347.42 298.32,347.49 298.79,347.57 299.26,347.65 299.73,347.72 300.2,347.8 300.68,347.87 301.16,347.95 301.64,348.02 302.12,348.09 302.6,348.17 303.08,348.24 303.57,348.31 304.06,348.39 304.54,348.46 305.03,348.53 305.53,348.6 306.02,348.67 306.51,348.74 307.01,348.81 307.51,348.88 308.01,348.95 308.51,349.02 309.01,349.09 309.51,349.16 310.02,349.23 310.53,349.3 311.03,349.36 311.54,349.43 312.06,349.5 312.57,349.56 313.09,349.63 313.6,349.7 314.12,349.76 314.64,349.83 315.16,349.89 315.69,349.96 316.21,350.02 316.74,350.08 317.27,350.15 317.8,350.21 318.33,350.27 318.86,350.34 319.4,350.4 319.93,350.46 320.47,350.52 321.01,350.58 321.55,350.64 322.09,350.7 322.64,350.76 323.19,350.82 323.74,350.88 324.29,350.94 324.84,351 325.39,351.06 325.95,351.12 326.5,351.17 327.06,351.23 327.62,351.29 328.18,351.35 328.75,351.4 329.31,351.46 329.88,351.51 330.45,351.57" fill="none" stroke="#1c1c1c" stroke-width="1.15" stroke-linejoin="round" stroke-dasharray="3,2" stroke-linejoin="round"/>
<polyline points="159.71,205.39 159.72,206.25 159.73,207.1 159.74,207.96 159.75,208.8 159.76,209.65 159.77,210.49 159.78,211.33 159.79,212.17 159.8,213 159.81,213.83 159.82,214.65 159.83,215.47 159.85,216.29 159.86,217.1 159.87,217.92 159.88,218.72 159.9,219.53 159.91,220.33 159.93,221.13 159.94,221.92 159.96,222.71 159.97,223.5 159.99,224.29 160,225.07 160.02,225.85 160.04,226.62 160.06,227.4 160.07,228.16 160.09,228.93 160.11,229.69 160.13,230.45 160.15,231.21 160.17,231.96 160.19,232.71 160.21,233.46 160.23,234.2 160.25,234.94 160.27,235.68 160.3,236.41 160.32,237.15 160.34,237.87 160.36,238.6 160.39,239.32 160.41,240.04 160.44,240.76 160.46,241.47 160.49,242.18 160.51,242.89 160.54,243.59 160.57,244.29 160.59,244.99 160.62,245.69 160.65,246.38 160.68,247.07 160.71,247.75 160.74,248.44 160.77,249.12 160.8,249.8 160.83,250.47 160.86,251.14 160.89,251.81 160.92,252.48 160.96,253.14 160.99,253.8 161.02,254.46 161.06,255.12 161.09,255.77 161.12,256.42 161.16,257.06 161.2,257.71 161.23,258.35 161.27,258.99 161.31,259.62 161.34,260.26 161.38,260.89 161.42,261.52 161.46,262.14 161.5,262.76 161.54,263.38 161.58,264 161.62,264.61 161.66,265.23 161.7,265.83 161.75,266.44 161.79,267.05 161.83,267.65 161.88,268.24 161.92,268.84 161.96,269.43 162.01,270.03 162.06,270.61 162.1,271.2 162.15,271.78 162.2,272.36 162.25,272.94 162.29,273.52 162.34,274.09 162.39,274.66 162.44,275.23 162.49,275.79 162.54,276.36 162.6,276.92 162.65,277.48 162.7,278.03 162.75,278.59 162.81,279.14 162.86,279.69 162.92,280.23 162.97,280.78 163.03,281.32 163.09,281.86 163.14,282.39 163.2,282.93 163.26,283.46 163.32,283.99 163.38,284.52 163.44,285.04 163.5,285.56 163.56,286.08 163.62,286.6 163.68,287.12 163.74,287.63 163.81,288.14 163.87,288.65 163.94,289.16 164,289.66 164.07,290.16 164.13,290.66 164.2,291.16 164.27,291.66 164.34,292.15 164.41,292.64 164.47,293.13 164.54,293.61 164.62,294.1 164.69,294.58 164.76,295.06 164.83,295.54 164.9,296.01 164.98,296.49 165.05,296.96 165.13,297.43 165.2,297.9 165.28,298.36 165.36,298.82 165.43,299.28 165.51,299.74 165.59,300.2 165.67,300.65 165.75,301.11 165.83,301.56 165.91,302.01 165.99,302.45 166.08,302.9 166.16,303.34 166.24,303.78 166.33,304.22 166.41,304.65 166.5,305.09 166.59,305.52 166.67,305.95 166.76,306.38 166.85,306.8 166.94,307.23 167.03,307.65 167.12,308.07 167.21,308.49 167.3,308.91 167.4,309.32 167.49,309.73 167.59,310.14 167.68,310.55 167.78,310.96 167.87,311.36 167.97,311.77 168.07,312.17 168.17,312.57 168.27,312.96 168.37,313.36 168.47,313.75 168.57,314.15 168.67,314.54 168.77,314.92 168.88,315.31 168.98,315.7 169.09,316.08 169.19,316.46 169.3,316.84 169.41,317.22 169.52,317.59 169.63,317.97 169.74,318.34 169.85,318.71 169.96,319.08 170.07,319.44 170.18,319.81 170.3,320.17 170.41,320.53 170.53,320.89 170.64,321.25 170.76,321.61 170.88,321.96 171,322.31 171.12,322.67 171.24,323.02 171.36,323.36 171.48,323.71 171.6,324.05 171.73,324.4 171.85,324.74 171.98,325.08 172.1,325.41 172.23,325.75 172.36,326.09 172.49,326.42 172.62,326.75 172.75,327.08 172.88,327.41 173.01,327.73 173.14,328.06 173.28,328.38 173.41,328.7 173.55,329.02 173.68,329.34 173.82,329.66 173.96,329.98 174.1,330.29 174.24,330.6 174.38,330.91 174.52,331.22 174.66,331.53 174.81,331.84 174.95,332.14 175.1,332.44 175.24,332.74 175.39,333.05 175.54,333.34 175.69,333.64 175.84,333.94 175.99,334.23 176.14,334.52 176.29,334.81 176.45,335.1 176.6,335.39 176.76,335.68 176.91,335.96 177.07,336.25 177.23,336.53 177.39,336.81 177.55,337.09 177.71,337.37 177.87,337.65 178.04,337.92 178.2,338.2 178.37,338.47 178.53,338.74 178.7,339.01 178.87,339.28 179.04,339.54 179.21,339.81 179.38,340.07 179.55,340.34 179.73,340.6 179.9,340.86 180.08,341.12 180.25,341.37 180.43,341.63 180.61,341.89 180.79,342.14 180.97,342.39 181.15,342.64 181.33,342.89 181.52,343.14 181.7,343.39 181.89,343.63 182.08,343.88 182.26,344.12 182.45,344.36 182.64,344.6 182.83,344.84 183.03,345.08 183.22,345.31 183.42,345.55 183.61,345.78 183.81,346.02 184.01,346.25 184.21,346.48 184.41,346.71 184.61,346.93 184.81,347.16 185.01,347.39 185.22,347.61 185.43,347.83 185.63,348.06 185.84,348.28 186.05,348.49 186.26,348.71 186.47,348.93 186.69,349.15 186.9,349.36 187.12,349.57 187.33,349.79 187.55,350 187.77,350.21 187.99,350.42 188.21,350.62 188.43,350.83 188.66,351.03 188.88,351.24 189.11,351.44 189.34,351.64 189.56,351.84 189.79,352.04 190.03,352.24 190.26,352.44 190.49,352.63 190.73,352.83 190.96,353.02 191.2,353.22 191.44,353.41 191.68,353.6 191.92,353.79 192.16,353.98 192.41,354.16 192.65,354.35 192.9,354.54 193.15,354.72 193.4,354.9 193.65,355.09 193.9,355.27 194.15,355.45 194.41,355.63 194.66,355.8 194.92,355.98 195.18,356.16 195.44,356.33 195.7,356.51 195.96,356.68 196.22,356.85 196.49,357.02 196.76,357.19 197.02,357.36 197.29,357.53 197.56,357.69 197.84,357.86 198.11,358.02 198.39,358.19 198.66,358.35 198.94,358.51 199.22,358.67 199.5,358.83 199.78,358.99 200.07,359.15 200.35,359.31 200.64,359.46 200.93,359.62 201.21,359.77 201.51,359.92 201.8,360.08 202.09,360.23 202.39,360.38 202.68,360.53 202.98,360.68 203.28,360.82 203.58,360.97 203.89,361.12 204.19,361.26 204.5,361.4 204.8,361.55 205.11,361.69 205.42,361.83 205.74,361.97 206.05,362.11 206.36,362.25 206.68,362.39 207,362.52 207.32,362.66 207.64,362.79 207.96,362.93 208.29,363.06 208.61,363.19 208.94,363.32 209.27,363.46 209.6,363.59 209.94,363.71 210.27,363.84 210.61,363.97 210.94,364.1 211.28,364.22 211.62,364.35 211.97,364.47 212.31,364.59 212.66,364.72 213,364.84 213.35,364.96 213.7,365.08 214.06,365.2 214.41,365.31 214.77,365.43 215.13,365.55 215.49,365.66 215.85,365.78 216.21,365.89 216.57,366.01 216.94,366.12 217.31,366.23 217.68,366.34 218.05,366.45 218.42,366.56 218.8,366.67 219.18,366.78 219.56,366.89 219.94,366.99 220.32,367.1 220.7,367.2 221.09,367.31 221.48,367.41 221.87,367.51 222.26,367.62 222.65,367.72 223.05,367.82 223.45,367.92 223.84,368.02 224.25,368.11 224.65,368.21 225.05,368.31 225.46,368.4 225.87,368.5 226.28,368.59 226.69,368.69 227.11,368.78 227.52,368.87 227.94,368.97 228.36,369.06 228.78,369.15 229.21,369.24 229.63,369.33 230.06,369.42 230.49,369.5 230.92,369.59 231.36,369.68 231.79,369.76 232.23,369.85 232.67,369.93 233.11,370.02 233.56,370.1 234,370.18 234.45,370.26 234.9,370.34 235.35,370.42 235.81,370.5 236.26,370.58 236.72,370.66 237.18,370.74 237.64,370.82 238.11,370.89 238.58,370.97 239.05,371.04 239.52,371.12 239.99,371.19 240.47,371.27 240.94,371.34 241.42,371.41 241.9,371.48 242.39,371.55 242.88,371.62 243.36,371.69 243.85,371.76 244.35,371.83 244.84,371.9 245.34,371.97 245.84,372.03 246.34,372.1 246.85,372.16 247.35,372.23 247.86,372.29 248.37,372.36 248.88,372.42 249.4,372.48 249.92,372.54 250.44,372.61 250.96,372.67 251.48,372.73 252.01,372.79 252.54,372.85 253.07,372.9 253.61,372.96 254.14,373.02 254.68,373.08 255.22,373.13 255.77,373.19 256.31,373.24 256.86,373.3 257.41,373.35 257.97,373.41 258.52,373.46 259.08,373.51 259.64,373.56 260.2,373.62 260.77,373.67 261.34,373.72 261.91,373.77 262.48,373.82 263.06,373.87 263.63,373.91 264.21,373.96 264.8,374.01 265.38,374.06 265.97,374.1 266.56,374.15 267.16,374.19 267.75,374.24 268.35,374.28 268.95,374.33 269.55,374.37 270.16,374.41 270.77,374.45 271.38,374.5 272,374.54 272.61,374.58 273.23,374.62 273.85,374.66 274.48,374.7 275.11,374.74 275.74,374.77 276.37,374.81 277.01,374.85 277.64,374.89 278.29,374.92 278.93,374.96 279.58,374.99 280.23,375.03 280.88,375.06 281.53,375.1 282.19,375.13 282.85,375.17 283.51,375.2 284.18,375.23 284.85,375.26 285.52,375.29 286.2,375.32 286.87,375.36 287.56,375.39 288.24,375.42 288.93,375.44 289.61,375.47 290.31,375.5 291,375.53 291.7,375.56 292.4,375.58 293.11,375.61 293.81,375.64 294.52,375.66 295.24,375.69 295.95,375.71 296.67,375.74 297.39,375.76 298.12,375.79 298.85,375.81 299.58,375.83 300.31,375.85 301.05,375.88 301.79,375.9 302.53,375.92 303.28,375.94 304.03,375.96 304.78,375.98 305.54,376 306.3,376.02 307.06,376.04 307.83,376.06 308.59,376.08 309.37,376.09 310.14,376.11 310.92,376.13 311.7,376.15 312.49,376.16 313.28,376.18 314.07,376.19 314.86,376.21 315.66,376.22 316.46,376.24 317.27,376.25 318.07,376.26 318.89,376.28 319.7,376.29 320.52,376.3 321.34,376.32 322.16,376.33 322.99,376.34 323.82,376.35 324.66,376.36 325.5,376.37 326.34,376.38 327.19,376.39 328.04,376.4 328.89,376.41 329.74,376.42 330.6,376.43 331.47,376.43" fill="none" stroke="#1c1c1c" stroke-width="1.15" stroke-linejoin="round" stroke-dasharray="3,2" stroke-linejoin="round"/>
<polyline points="140.56,204.27 140.51,205.49 140.46,206.7 140.41,207.91 140.37,209.11 140.32,210.31 140.27,211.5 140.22,212.68 140.17,213.86 140.13,215.03 140.08,216.2 140.04,217.36 139.99,218.51 139.94,219.66 139.9,220.8 139.85,221.94 139.81,223.07 139.76,224.2 139.72,225.32 139.68,226.43 139.63,227.54 139.59,228.64 139.55,229.74 139.51,230.83 139.46,231.91 139.42,232.99 139.38,234.07 139.34,235.14 139.3,236.2 139.26,237.26 139.22,238.31 139.18,239.36 139.14,240.4 139.1,241.43 139.07,242.46 139.03,243.49 138.99,244.51 138.95,245.52 138.92,246.53 138.88,247.54 138.84,248.54 138.81,249.53 138.77,250.52 138.74,251.5 138.7,252.48 138.67,253.45 138.64,254.42 138.6,255.39 138.57,256.34 138.54,257.3 138.51,258.24 138.48,259.19 138.44,260.13 138.41,261.06 138.38,261.99 138.35,262.91 138.32,263.83 138.3,264.74 138.27,265.65 138.24,266.55 138.21,267.45 138.18,268.35 138.16,269.24 138.13,270.12 138.11,271 138.08,271.88 138.06,272.75 138.03,273.61 138.01,274.48 137.98,275.33 137.96,276.18 137.94,277.03 137.92,277.88 137.89,278.71 137.87,279.55 137.85,280.38 137.83,281.2 137.81,282.02 137.79,282.84 137.77,283.65 137.76,284.46 137.74,285.26 137.72,286.06 137.7,286.86 137.69,287.65 137.67,288.43 137.66,289.21 137.64,289.99 137.63,290.76 137.62,291.53 137.6,292.3 137.59,293.06 137.58,293.81 137.57,294.57 137.56,295.31 137.55,296.06 137.54,296.8 137.53,297.53 137.52,298.26 137.51,298.99 137.5,299.72 137.49,300.44 137.49,301.15 137.48,301.86 137.48,302.57 137.47,303.27 137.47,303.97 137.46,304.67 137.46,305.36 137.46,306.05 137.46,306.73 137.46,307.41 137.46,308.09 137.46,308.76 137.46,309.43 137.46,310.1 137.46,310.76 137.46,311.42 137.46,312.07 137.47,312.72 137.47,313.37 137.48,314.01 137.48,314.65 137.49,315.29 137.5,315.92 137.5,316.55 137.51,317.17 137.52,317.79 137.53,318.41 137.54,319.03 137.55,319.64 137.56,320.24 137.57,320.85 137.59,321.45 137.6,322.04 137.61,322.64 137.63,323.23 137.64,323.81 137.66,324.4 137.68,324.98 137.7,325.55 137.71,326.13 137.73,326.7 137.75,327.26 137.77,327.83 137.79,328.39 137.82,328.94 137.84,329.5 137.86,330.05 137.89,330.59 137.91,331.14 137.94,331.68 137.96,332.21 137.99,332.75 138.02,333.28 138.05,333.81 138.08,334.33 138.11,334.85 138.14,335.37 138.17,335.88 138.2,336.4 138.23,336.91 138.27,337.41 138.3,337.91 138.34,338.41 138.37,338.91 138.41,339.41 138.45,339.9 138.49,340.38 138.53,340.87 138.57,341.35 138.61,341.83 138.65,342.31 138.7,342.78 138.74,343.25 138.78,343.72 138.83,344.18 138.88,344.64 138.92,345.1 138.97,345.56 139.02,346.01 139.07,346.46 139.12,346.91 139.17,347.36 139.23,347.8 139.28,348.24 139.33,348.67 139.39,349.11 139.45,349.54 139.5,349.97 139.56,350.39 139.62,350.82 139.68,351.24 139.74,351.65 139.8,352.07 139.87,352.48 139.93,352.89 139.99,353.3 140.06,353.7 140.13,354.11 140.19,354.51 140.26,354.9 140.33,355.3 140.4,355.69 140.47,356.08 140.55,356.47 140.62,356.85 140.69,357.23 140.77,357.61 140.84,357.99 140.92,358.36 141,358.74 141.08,359.11 141.16,359.47 141.24,359.84 141.32,360.2 141.41,360.56 141.49,360.92 141.58,361.27 141.67,361.63 141.75,361.98 141.84,362.33 141.93,362.67 142.02,363.01 142.12,363.36 142.21,363.7 142.3,364.03 142.4,364.37 142.5,364.7 142.59,365.03 142.69,365.36 142.79,365.68 142.9,366.01 143,366.33 143.1,366.65 143.21,366.96 143.31,367.28 143.42,367.59 143.53,367.9 143.64,368.21 143.75,368.51 143.86,368.82 143.97,369.12 144.09,369.42 144.2,369.72 144.32,370.01 144.44,370.31 144.56,370.6 144.68,370.89 144.8,371.17 144.92,371.46 145.04,371.74 145.17,372.02 145.3,372.3 145.42,372.58 145.55,372.85 145.68,373.13 145.82,373.4 145.95,373.67 146.08,373.94 146.22,374.2 146.36,374.46 146.49,374.73 146.63,374.98 146.77,375.24 146.92,375.5 147.06,375.75 147.21,376 147.35,376.25 147.5,376.5 147.65,376.75 147.8,376.99 147.95,377.24 148.1,377.48 148.26,377.72 148.42,377.95 148.57,378.19 148.73,378.42 148.89,378.65 149.05,378.88 149.22,379.11 149.38,379.34 149.55,379.56 149.72,379.79 149.89,380.01 150.06,380.23 150.23,380.45 150.4,380.66 150.58,380.88 150.75,381.09 150.93,381.3 151.11,381.51 151.29,381.72 151.48,381.92 151.66,382.13 151.85,382.33 152.03,382.53 152.22,382.73 152.41,382.93 152.61,383.13 152.8,383.32 153,383.51 153.19,383.7 153.39,383.89 153.59,384.08 153.79,384.27 154,384.45 154.2,384.64 154.41,384.82 154.62,385 154.83,385.18 155.04,385.36 155.25,385.53 155.47,385.71 155.69,385.88 155.91,386.05 156.13,386.22 156.35,386.39 156.57,386.56 156.8,386.72 157.02,386.89 157.25,387.05 157.49,387.21 157.72,387.37 157.95,387.53 158.19,387.69 158.43,387.84 158.67,388 158.91,388.15 159.15,388.3 159.4,388.45 159.65,388.6 159.89,388.75 160.15,388.89 160.4,389.04 160.65,389.18 160.91,389.32 161.17,389.46 161.43,389.6 161.69,389.74 161.96,389.87 162.22,390.01 162.49,390.14 162.76,390.28 163.03,390.41 163.31,390.54 163.59,390.67 163.86,390.79 164.14,390.92 164.43,391.04 164.71,391.17 165,391.29 165.28,391.41 165.58,391.53 165.87,391.65 166.16,391.77 166.46,391.88 166.76,392 167.06,392.11 167.36,392.22 167.67,392.34 167.97,392.45 168.28,392.55 168.6,392.66 168.91,392.77 169.22,392.87 169.54,392.98 169.86,393.08 170.19,393.18 170.51,393.29 170.84,393.38 171.17,393.48 171.5,393.58 171.83,393.68 172.17,393.77 172.51,393.87 172.85,393.96 173.19,394.05 173.53,394.14 173.88,394.23 174.23,394.32 174.58,394.41 174.94,394.49 175.29,394.58 175.65,394.66 176.02,394.75 176.38,394.83 176.75,394.91 177.11,394.99 177.49,395.07 177.86,395.15 178.24,395.23 178.61,395.3 178.99,395.38 179.38,395.45 179.76,395.52 180.15,395.6 180.54,395.67 180.94,395.74 181.33,395.81 181.73,395.88 182.13,395.94 182.54,396.01 182.94,396.07 183.35,396.14 183.76,396.2 184.18,396.26 184.6,396.33 185.02,396.39 185.44,396.45 185.86,396.5 186.29,396.56 186.72,396.62 187.15,396.68 187.59,396.73 188.03,396.78 188.47,396.84 188.91,396.89 189.36,396.94 189.81,396.99 190.26,397.04 190.72,397.09 191.17,397.14 191.64,397.19 192.1,397.23 192.57,397.28 193.04,397.32 193.51,397.37 193.98,397.41 194.46,397.45 194.94,397.49 195.43,397.53 195.91,397.57 196.4,397.61 196.9,397.65 197.39,397.69 197.89,397.72 198.39,397.76 198.9,397.79 199.41,397.83 199.92,397.86 200.43,397.89 200.95,397.92 201.47,397.95 201.99,397.98 202.52,398.01 203.05,398.04 203.58,398.07 204.12,398.1 204.66,398.12 205.2,398.15 205.75,398.17 206.29,398.2 206.85,398.22 207.4,398.24 207.96,398.26 208.52,398.29 209.09,398.31 209.66,398.33 210.23,398.34 210.8,398.36 211.38,398.38 211.97,398.4 212.55,398.41 213.14,398.43 213.73,398.44 214.33,398.46 214.93,398.47 215.53,398.48 216.14,398.5 216.75,398.51 217.36,398.52 217.98,398.53 218.6,398.54 219.22,398.55 219.85,398.55 220.48,398.56 221.11,398.57 221.75,398.57 222.39,398.58 223.04,398.59 223.69,398.59 224.34,398.59 225,398.6 225.66,398.6 226.32,398.6 226.99,398.6 227.66,398.6 228.34,398.6 229.02,398.6 229.7,398.6 230.39,398.6 231.08,398.6 231.77,398.59 232.47,398.59 233.18,398.59 233.88,398.58 234.59,398.57 235.31,398.57 236.03,398.56 236.75,398.56 237.48,398.55 238.21,398.54 238.94,398.53 239.68,398.52 240.42,398.51 241.17,398.5 241.92,398.49 242.68,398.48 243.43,398.47 244.2,398.46 244.97,398.44 245.74,398.43 246.51,398.41 247.29,398.4 248.08,398.38 248.87,398.37 249.66,398.35 250.46,398.34 251.26,398.32 252.07,398.3 252.88,398.28 253.69,398.26 254.51,398.25 255.34,398.23 256.17,398.21 257,398.19 257.84,398.16 258.68,398.14 259.53,398.12 260.38,398.1 261.23,398.08 262.09,398.05 262.96,398.03 263.83,398 264.7,397.98 265.58,397.95 266.46,397.93 267.35,397.9 268.25,397.88 269.14,397.85 270.05,397.82 270.95,397.79 271.87,397.76 272.78,397.74 273.71,397.71 274.63,397.68 275.57,397.65 276.5,397.62 277.44,397.59 278.39,397.55 279.34,397.52 280.3,397.49 281.26,397.46 282.23,397.42 283.2,397.39 284.18,397.36 285.16,397.32 286.15,397.29 287.14,397.25 288.14,397.22 289.14,397.18 290.15,397.15 291.16,397.11 292.18,397.07 293.21,397.04 294.24,397 295.27,396.96 296.31,396.92 297.36,396.88 298.41,396.84 299.47,396.8 300.53,396.76 301.59,396.72 302.67,396.68 303.75,396.64 304.83,396.6 305.92,396.56 307.02,396.52 308.12,396.47 309.22,396.43 310.34,396.39 311.45,396.35 312.58,396.3 313.71,396.26 314.84,396.21 315.99,396.17 317.13,396.12 318.29,396.08 319.44,396.03 320.61,395.99 321.78,395.94 322.96,395.89 324.14,395.85 325.33,395.8 326.52,395.75 327.72,395.7 328.93,395.66 330.14,395.61 331.36,395.56 332.59,395.51" fill="none" stroke="#1c1c1c" stroke-width="1.15" stroke-linejoin="round" stroke-dasharray="3,2" stroke-linejoin="round"/>
<polyline points="125.71,203.06 125.6,204.72 125.49,206.37 125.38,208 125.27,209.63 125.16,211.25 125.05,212.86 124.94,214.46 124.83,216.05 124.72,217.63 124.61,219.2 124.5,220.76 124.39,222.31 124.29,223.85 124.18,225.38 124.07,226.91 123.96,228.42 123.86,229.93 123.75,231.42 123.64,232.91 123.54,234.39 123.43,235.85 123.33,237.31 123.22,238.77 123.11,240.21 123.01,241.64 122.9,243.07 122.8,244.48 122.7,245.89 122.59,247.29 122.49,248.68 122.39,250.06 122.28,251.43 122.18,252.8 122.08,254.15 121.97,255.5 121.87,256.84 121.77,258.17 121.67,259.49 121.57,260.81 121.47,262.12 121.37,263.41 121.27,264.7 121.17,265.99 121.07,267.26 120.97,268.53 120.87,269.79 120.77,271.04 120.67,272.28 120.58,273.51 120.48,274.74 120.38,275.96 120.28,277.17 120.19,278.38 120.09,279.57 119.99,280.76 119.9,281.94 119.8,283.12 119.71,284.28 119.61,285.44 119.52,286.6 119.43,287.74 119.33,288.88 119.24,290.01 119.15,291.13 119.06,292.25 118.96,293.35 118.87,294.46 118.78,295.55 118.69,296.64 118.6,297.72 118.51,298.79 118.42,299.86 118.33,300.92 118.24,301.97 118.16,303.01 118.07,304.05 117.98,305.08 117.89,306.11 117.81,307.13 117.72,308.14 117.64,309.15 117.55,310.14 117.47,311.14 117.38,312.12 117.3,313.1 117.22,314.08 117.13,315.04 117.05,316 116.97,316.96 116.89,317.9 116.81,318.84 116.73,319.78 116.65,320.71 116.57,321.63 116.49,322.55 116.41,323.46 116.33,324.36 116.25,325.26 116.18,326.15 116.1,327.04 116.02,327.92 115.95,328.79 115.87,329.66 115.8,330.52 115.72,331.38 115.65,332.23 115.58,333.07 115.51,333.91 115.43,334.74 115.36,335.57 115.29,336.39 115.22,337.21 115.15,338.02 115.09,338.83 115.02,339.63 114.95,340.42 114.88,341.21 114.82,341.99 114.75,342.77 114.68,343.54 114.62,344.31 114.56,345.07 114.49,345.83 114.43,346.58 114.37,347.32 114.31,348.06 114.25,348.8 114.19,349.53 114.13,350.25 114.07,350.97 114.01,351.69 113.95,352.4 113.89,353.1 113.84,353.8 113.78,354.5 113.73,355.19 113.67,355.87 113.62,356.55 113.57,357.22 113.51,357.89 113.46,358.56 113.41,359.22 113.36,359.88 113.31,360.53 113.26,361.17 113.22,361.81 113.17,362.45 113.12,363.08 113.08,363.71 113.03,364.33 112.99,364.95 112.94,365.56 112.9,366.17 112.86,366.78 112.82,367.38 112.78,367.97 112.74,368.56 112.7,369.15 112.66,369.73 112.63,370.31 112.59,370.88 112.55,371.45 112.52,372.02 112.49,372.58 112.45,373.13 112.42,373.69 112.39,374.23 112.36,374.78 112.33,375.32 112.3,375.85 112.27,376.38 112.25,376.91 112.22,377.43 112.2,377.95 112.17,378.47 112.15,378.98 112.13,379.48 112.11,379.99 112.09,380.49 112.07,380.98 112.05,381.47 112.03,381.96 112.01,382.44 112,382.92 111.98,383.4 111.97,383.87 111.96,384.34 111.94,384.8 111.93,385.26 111.92,385.72 111.91,386.17 111.91,386.62 111.9,387.07 111.89,387.51 111.89,387.95 111.88,388.38 111.88,388.81 111.88,389.24 111.88,389.67 111.88,390.09 111.88,390.5 111.88,390.92 111.89,391.33 111.89,391.73 111.9,392.14 111.91,392.54 111.91,392.93 111.92,393.33 111.93,393.72 111.95,394.1 111.96,394.49 111.97,394.87 111.99,395.24 112,395.62 112.02,395.99 112.04,396.35 112.06,396.72 112.08,397.08 112.1,397.43 112.13,397.79 112.15,398.14 112.18,398.49 112.2,398.83 112.23,399.17 112.26,399.51 112.29,399.85 112.32,400.18 112.36,400.51 112.39,400.84 112.43,401.16 112.46,401.48 112.5,401.8 112.54,402.11 112.58,402.42 112.63,402.73 112.67,403.04 112.72,403.34 112.76,403.64 112.81,403.94 112.86,404.23 112.91,404.52 112.96,404.81 113.02,405.1 113.07,405.38 113.13,405.66 113.18,405.94 113.24,406.21 113.3,406.49 113.37,406.76 113.43,407.02 113.5,407.29 113.56,407.55 113.63,407.81 113.7,408.07 113.77,408.32 113.84,408.57 113.92,408.82 113.99,409.07 114.07,409.31 114.15,409.55 114.23,409.79 114.31,410.02 114.4,410.26 114.48,410.49 114.57,410.72 114.66,410.94 114.75,411.17 114.84,411.39 114.93,411.61 115.03,411.83 115.12,412.04 115.22,412.25 115.32,412.46 115.42,412.67 115.53,412.87 115.63,413.08 115.74,413.28 115.85,413.47 115.96,413.67 116.07,413.86 116.18,414.05 116.3,414.24 116.42,414.43 116.54,414.61 116.66,414.8 116.78,414.98 116.9,415.16 117.03,415.33 117.16,415.51 117.29,415.68 117.42,415.85 117.56,416.01 117.69,416.18 117.83,416.34 117.97,416.5 118.11,416.66 118.26,416.82 118.4,416.98 118.55,417.13 118.7,417.28 118.85,417.43 119.01,417.58 119.16,417.72 119.32,417.86 119.48,418.01 119.64,418.15 119.8,418.28 119.97,418.42 120.14,418.55 120.31,418.68 120.48,418.81 120.66,418.94 120.83,419.07 121.01,419.19 121.19,419.31 121.38,419.44 121.56,419.55 121.75,419.67 121.94,419.79 122.13,419.9 122.33,420.01 122.52,420.12 122.72,420.23 122.92,420.34 123.13,420.44 123.33,420.54 123.54,420.65 123.75,420.74 123.96,420.84 124.18,420.94 124.39,421.03 124.61,421.13 124.84,421.22 125.06,421.31 125.29,421.4 125.52,421.48 125.75,421.57 125.99,421.65 126.22,421.73 126.46,421.81 126.7,421.89 126.95,421.97 127.2,422.04 127.45,422.12 127.7,422.19 127.95,422.26 128.21,422.33 128.47,422.4 128.73,422.46 129,422.53 129.27,422.59 129.54,422.65 129.81,422.71 130.09,422.77 130.37,422.83 130.65,422.89 130.93,422.94 131.22,422.99 131.51,423.05 131.8,423.1 132.1,423.15 132.4,423.19 132.7,423.24 133,423.28 133.31,423.33 133.62,423.37 133.93,423.41 134.25,423.45 134.57,423.49 134.89,423.53 135.21,423.56 135.54,423.6 135.87,423.63 136.2,423.66 136.54,423.69 136.88,423.72 137.22,423.75 137.57,423.78 137.92,423.8 138.27,423.83 138.63,423.85 138.99,423.87 139.35,423.89 139.71,423.91 140.08,423.93 140.45,423.95 140.83,423.97 141.21,423.98 141.59,423.99 141.97,424.01 142.36,424.02 142.75,424.03 143.15,424.04 143.54,424.05 143.95,424.05 144.35,424.06 144.76,424.06 145.17,424.07 145.59,424.07 146.01,424.07 146.43,424.07 146.85,424.07 147.28,424.07 147.72,424.07 148.15,424.06 148.59,424.06 149.04,424.05 149.48,424.05 149.94,424.04 150.39,424.03 150.85,424.02 151.31,424.01 151.78,424 152.25,423.98 152.72,423.97 153.2,423.96 153.68,423.94 154.17,423.92 154.66,423.91 155.15,423.89 155.65,423.87 156.15,423.85 156.65,423.83 157.16,423.8 157.67,423.78 158.19,423.76 158.71,423.73 159.24,423.71 159.77,423.68 160.3,423.65 160.84,423.62 161.38,423.59 161.92,423.56 162.47,423.53 163.03,423.5 163.59,423.47 164.15,423.43 164.72,423.4 165.29,423.36 165.86,423.33 166.44,423.29 167.03,423.25 167.62,423.22 168.21,423.18 168.81,423.14 169.41,423.1 170.02,423.05 170.63,423.01 171.25,422.97 171.87,422.92 172.49,422.88 173.12,422.83 173.76,422.79 174.4,422.74 175.04,422.69 175.69,422.65 176.34,422.6 177,422.55 177.66,422.5 178.33,422.44 179,422.39 179.68,422.34 180.36,422.29 181.05,422.23 181.74,422.18 182.44,422.12 183.14,422.07 183.85,422.01 184.56,421.95 185.28,421.89 186,421.84 186.73,421.78 187.46,421.72 188.2,421.66 188.95,421.59 189.69,421.53 190.45,421.47 191.21,421.41 191.97,421.34 192.74,421.28 193.52,421.21 194.3,421.15 195.08,421.08 195.88,421.02 196.67,420.95 197.48,420.88 198.29,420.81 199.1,420.74 199.92,420.67 200.74,420.6 201.58,420.53 202.41,420.46 203.25,420.39 204.1,420.32 204.96,420.24 205.82,420.17 206.68,420.1 207.55,420.02 208.43,419.95 209.32,419.87 210.21,419.79 211.1,419.72 212,419.64 212.91,419.56 213.82,419.48 214.74,419.41 215.67,419.33 216.6,419.25 217.54,419.17 218.49,419.09 219.44,419 220.4,418.92 221.36,418.84 222.33,418.76 223.31,418.68 224.29,418.59 225.28,418.51 226.28,418.42 227.28,418.34 228.29,418.25 229.31,418.17 230.33,418.08 231.36,418 232.39,417.91 233.44,417.82 234.49,417.73 235.54,417.65 236.61,417.56 237.68,417.47 238.76,417.38 239.84,417.29 240.93,417.2 242.03,417.11 243.14,417.02 244.25,416.93 245.37,416.83 246.5,416.74 247.63,416.65 248.77,416.56 249.92,416.46 251.08,416.37 252.24,416.27 253.41,416.18 254.59,416.09 255.78,415.99 256.97,415.9 258.18,415.8 259.38,415.7 260.6,415.61 261.83,415.51 263.06,415.41 264.3,415.32 265.55,415.22 266.8,415.12 268.07,415.02 269.34,414.92 270.62,414.82 271.9,414.72 273.2,414.62 274.5,414.52 275.82,414.42 277.14,414.32 278.46,414.22 279.8,414.12 281.15,414.02 282.5,413.92 283.86,413.81 285.23,413.71 286.61,413.61 288,413.51 289.39,413.4 290.8,413.3 292.21,413.2 293.63,413.09 295.06,412.99 296.5,412.88 297.95,412.78 299.41,412.67 300.87,412.57 302.35,412.46 303.83,412.36 305.32,412.25 306.83,412.14 308.34,412.04 309.86,411.93 311.39,411.82 312.93,411.72 314.48,411.61 316.03,411.5 317.6,411.39 319.18,411.29 320.76,411.18 322.36,411.07 323.96,410.96 325.58,410.85 327.2,410.74 328.84,410.63 330.48,410.52 332.14,410.41 333.8,410.3" fill="none" stroke="#1c1c1c" stroke-width="1.15" stroke-linejoin="round" stroke-dasharray="3,2" stroke-linejoin="round"/>
<polyline points="114.05,201.78 113.88,203.96 113.7,206.12 113.53,208.27 113.36,210.4 113.19,212.52 113.02,214.62 112.84,216.71 112.67,218.78 112.5,220.84 112.33,222.89 112.16,224.92 111.99,226.94 111.82,228.94 111.64,230.93 111.47,232.91 111.3,234.87 111.13,236.82 110.96,238.75 110.79,240.67 110.62,242.58 110.45,244.48 110.28,246.36 110.11,248.23 109.94,250.08 109.77,251.92 109.6,253.75 109.43,255.57 109.26,257.37 109.09,259.16 108.92,260.94 108.75,262.71 108.58,264.46 108.41,266.2 108.24,267.93 108.07,269.64 107.9,271.35 107.73,273.04 107.57,274.72 107.4,276.38 107.23,278.04 107.06,279.68 106.89,281.31 106.72,282.93 106.56,284.54 106.39,286.14 106.22,287.72 106.06,289.29 105.89,290.86 105.72,292.41 105.56,293.95 105.39,295.47 105.22,296.99 105.06,298.5 104.89,299.99 104.73,301.47 104.56,302.95 104.4,304.41 104.23,305.86 104.07,307.3 103.9,308.73 103.74,310.15 103.58,311.56 103.41,312.96 103.25,314.34 103.09,315.72 102.92,317.09 102.76,318.45 102.6,319.79 102.44,321.13 102.27,322.46 102.11,323.77 101.95,325.08 101.79,326.38 101.63,327.66 101.47,328.94 101.31,330.21 101.15,331.47 100.99,332.71 100.83,333.95 100.67,335.18 100.51,336.4 100.35,337.61 100.2,338.81 100.04,340 99.88,341.19 99.72,342.36 99.57,343.53 99.41,344.68 99.25,345.83 99.1,346.96 98.94,348.09 98.79,349.21 98.63,350.32 98.48,351.43 98.33,352.52 98.17,353.6 98.02,354.68 97.87,355.75 97.72,356.81 97.56,357.86 97.41,358.9 97.26,359.93 97.11,360.96 96.96,361.98 96.81,362.99 96.66,363.99 96.51,364.98 96.36,365.97 96.22,366.94 96.07,367.91 95.92,368.87 95.77,369.83 95.63,370.77 95.48,371.71 95.34,372.64 95.19,373.57 95.05,374.48 94.9,375.39 94.76,376.29 94.62,377.18 94.48,378.06 94.33,378.94 94.19,379.81 94.05,380.68 93.91,381.53 93.77,382.38 93.63,383.22 93.5,384.06 93.36,384.88 93.22,385.7 93.08,386.52 92.95,387.32 92.81,388.12 92.68,388.91 92.54,389.7 92.41,390.48 92.27,391.25 92.14,392.02 92.01,392.77 91.88,393.53 91.75,394.27 91.62,395.01 91.49,395.74 91.36,396.47 91.23,397.19 91.1,397.9 90.98,398.61 90.85,399.31 90.72,400 90.6,400.69 90.48,401.37 90.35,402.05 90.23,402.72 90.11,403.38 89.99,404.04 89.87,404.69 89.75,405.33 89.63,405.97 89.51,406.61 89.39,407.23 89.27,407.85 89.16,408.47 89.04,409.08 88.93,409.69 88.81,410.28 88.7,410.88 88.59,411.46 88.48,412.05 88.37,412.62 88.26,413.19 88.15,413.76 88.04,414.32 87.93,414.87 87.83,415.42 87.72,415.97 87.62,416.51 87.51,417.04 87.41,417.57 87.31,418.09 87.21,418.61 87.11,419.12 87.01,419.63 86.91,420.13 86.81,420.63 86.72,421.12 86.62,421.6 86.53,422.09 86.44,422.56 86.34,423.04 86.25,423.5 86.16,423.97 86.07,424.42 85.98,424.88 85.9,425.33 85.81,425.77 85.73,426.21 85.64,426.64 85.56,427.07 85.48,427.5 85.4,427.92 85.32,428.33 85.24,428.75 85.16,429.15 85.08,429.55 85.01,429.95 84.93,430.35 84.86,430.74 84.79,431.12 84.72,431.5 84.65,431.88 84.58,432.25 84.51,432.62 84.45,432.98 84.38,433.34 84.32,433.7 84.26,434.05 84.19,434.39 84.13,434.74 84.08,435.08 84.02,435.41 83.96,435.74 83.91,436.07 83.85,436.39 83.8,436.71 83.75,437.03 83.7,437.34 83.65,437.65 83.61,437.95 83.56,438.25 83.52,438.55 83.48,438.84 83.43,439.13 83.39,439.41 83.36,439.69 83.32,439.97 83.28,440.24 83.25,440.51 83.22,440.78 83.19,441.05 83.16,441.3 83.13,441.56 83.1,441.81 83.08,442.06 83.05,442.31 83.03,442.55 83.01,442.79 82.99,443.03 82.98,443.26 82.96,443.49 82.95,443.71 82.93,443.94 82.92,444.16 82.91,444.37 82.91,444.58 82.9,444.79 82.9,445 82.9,445.2 82.9,445.4 82.9,445.6 82.9,445.79 82.9,445.98 82.91,446.17 82.92,446.36 82.93,446.54 82.94,446.72 82.95,446.89 82.97,447.07 82.99,447.24 83.01,447.4 83.03,447.57 83.05,447.73 83.07,447.89 83.1,448.04 83.13,448.2 83.16,448.35 83.19,448.49 83.23,448.64 83.26,448.78 83.3,448.92 83.34,449.05 83.39,449.19 83.43,449.32 83.48,449.45 83.53,449.57 83.58,449.7 83.63,449.82 83.68,449.93 83.74,450.05 83.8,450.16 83.86,450.27 83.93,450.38 83.99,450.49 84.06,450.59 84.13,450.69 84.2,450.79 84.28,450.88 84.35,450.97 84.43,451.07 84.52,451.15 84.6,451.24 84.69,451.32 84.78,451.41 84.87,451.48 84.96,451.56 85.06,451.64 85.15,451.71 85.25,451.78 85.36,451.85 85.46,451.91 85.57,451.97 85.68,452.04 85.8,452.09 85.91,452.15 86.03,452.21 86.15,452.26 86.27,452.31 86.4,452.36 86.53,452.41 86.66,452.45 86.8,452.49 86.93,452.53 87.07,452.57 87.21,452.61 87.36,452.64 87.51,452.67 87.66,452.7 87.81,452.73 87.97,452.76 88.13,452.78 88.29,452.81 88.45,452.83 88.62,452.85 88.79,452.86 88.96,452.88 89.14,452.89 89.32,452.9 89.5,452.91 89.69,452.92 89.88,452.93 90.07,452.93 90.26,452.94 90.46,452.94 90.66,452.94 90.87,452.94 91.07,452.93 91.28,452.93 91.5,452.92 91.71,452.91 91.93,452.9 92.16,452.89 92.38,452.87 92.61,452.86 92.85,452.84 93.08,452.82 93.32,452.8 93.57,452.78 93.81,452.76 94.06,452.73 94.32,452.7 94.58,452.68 94.84,452.65 95.1,452.62 95.37,452.58 95.64,452.55 95.92,452.51 96.19,452.48 96.48,452.44 96.76,452.4 97.05,452.36 97.35,452.32 97.64,452.27 97.95,452.23 98.25,452.18 98.56,452.13 98.87,452.08 99.19,452.03 99.51,451.98 99.83,451.93 100.16,451.87 100.49,451.82 100.83,451.76 101.17,451.7 101.52,451.64 101.86,451.58 102.22,451.52 102.57,451.46 102.93,451.39 103.3,451.33 103.67,451.26 104.04,451.19 104.42,451.12 104.8,451.05 105.19,450.98 105.58,450.91 105.97,450.83 106.37,450.76 106.78,450.68 107.19,450.61 107.6,450.53 108.02,450.45 108.44,450.37 108.87,450.29 109.3,450.2 109.73,450.12 110.18,450.03 110.62,449.95 111.07,449.86 111.53,449.77 111.99,449.68 112.45,449.59 112.92,449.5 113.39,449.41 113.87,449.32 114.36,449.22 114.85,449.13 115.34,449.03 115.84,448.94 116.34,448.84 116.85,448.74 117.37,448.64 117.89,448.54 118.41,448.44 118.94,448.34 119.48,448.23 120.02,448.13 120.56,448.03 121.12,447.92 121.67,447.81 122.24,447.71 122.8,447.6 123.38,447.49 123.95,447.38 124.54,447.27 125.13,447.16 125.72,447.04 126.33,446.93 126.93,446.82 127.55,446.7 128.16,446.59 128.79,446.47 129.42,446.35 130.05,446.23 130.7,446.12 131.34,446 132,445.88 132.66,445.76 133.32,445.63 134,445.51 134.67,445.39 135.36,445.26 136.05,445.14 136.75,445.02 137.45,444.89 138.16,444.76 138.88,444.64 139.6,444.51 140.33,444.38 141.06,444.25 141.8,444.12 142.55,443.99 143.31,443.86 144.07,443.73 144.84,443.6 145.61,443.46 146.39,443.33 147.18,443.2 147.98,443.06 148.78,442.93 149.59,442.79 150.41,442.65 151.23,442.52 152.06,442.38 152.9,442.24 153.74,442.1 154.6,441.97 155.46,441.83 156.32,441.69 157.2,441.54 158.08,441.4 158.97,441.26 159.86,441.12 160.77,440.98 161.68,440.83 162.6,440.69 163.52,440.55 164.46,440.4 165.4,440.26 166.35,440.11 167.3,439.97 168.27,439.82 169.24,439.67 170.22,439.52 171.21,439.38 172.21,439.23 173.22,439.08 174.23,438.93 175.25,438.78 176.28,438.63 177.32,438.48 178.37,438.33 179.42,438.18 180.49,438.03 181.56,437.87 182.64,437.72 183.73,437.57 184.83,437.42 185.93,437.26 187.05,437.11 188.17,436.95 189.31,436.8 190.45,436.65 191.6,436.49 192.76,436.33 193.93,436.18 195.11,436.02 196.29,435.87 197.49,435.71 198.7,435.55 199.91,435.39 201.14,435.24 202.37,435.08 203.61,434.92 204.87,434.76 206.13,434.6 207.4,434.44 208.69,434.28 209.98,434.12 211.28,433.96 212.59,433.8 213.91,433.64 215.25,433.48 216.59,433.32 217.94,433.15 219.3,432.99 220.68,432.83 222.06,432.67 223.45,432.51 224.86,432.34 226.27,432.18 227.7,432.02 229.13,431.85 230.58,431.69 232.04,431.52 233.5,431.36 234.98,431.2 236.47,431.03 237.97,430.87 239.48,430.7 241.01,430.54 242.54,430.37 244.09,430.2 245.64,430.04 247.21,429.87 248.79,429.71 250.38,429.54 251.99,429.37 253.6,429.21 255.23,429.04 256.87,428.87 258.52,428.7 260.18,428.54 261.85,428.37 263.54,428.2 265.24,428.03 266.95,427.87 268.67,427.7 270.4,427.53 272.15,427.36 273.91,427.19 275.68,427.02 277.47,426.85 279.27,426.68 281.08,426.52 282.9,426.35 284.74,426.18 286.59,426.01 288.45,425.84 290.33,425.67 292.22,425.5 294.12,425.33 296.03,425.16 297.96,424.99 299.91,424.82 301.86,424.65 303.83,424.48 305.82,424.31 307.81,424.14 309.83,423.97 311.85,423.79 313.89,423.62 315.95,423.45 318.01,423.28 320.1,423.11 322.19,422.94 324.31,422.77 326.43,422.6 328.57,422.43 330.73,422.26 332.9,422.08 335.08,421.91" fill="none" stroke="#1c1c1c" stroke-width="1.15" stroke-linejoin="round" stroke-dasharray="3,2" stroke-linejoin="round"/>
<polyline points="104.79,200.45 104.55,203.23 104.32,205.99 104.09,208.73 103.86,211.45 103.62,214.15 103.39,216.83 103.16,219.49 102.93,222.13 102.69,224.75 102.46,227.34 102.22,229.92 101.99,232.48 101.76,235.01 101.52,237.53 101.29,240.03 101.06,242.51 100.82,244.97 100.59,247.4 100.35,249.83 100.12,252.23 99.88,254.61 99.65,256.97 99.41,259.32 99.18,261.64 98.94,263.95 98.71,266.24 98.47,268.51 98.24,270.77 98,273 97.77,275.22 97.53,277.42 97.3,279.6 97.06,281.77 96.83,283.91 96.59,286.04 96.35,288.16 96.12,290.25 95.88,292.33 95.65,294.39 95.41,296.44 95.17,298.47 94.94,300.48 94.7,302.47 94.47,304.45 94.23,306.42 93.99,308.36 93.76,310.29 93.52,312.21 93.29,314.11 93.05,315.99 92.81,317.86 92.58,319.71 92.34,321.55 92.11,323.37 91.87,325.18 91.63,326.97 91.4,328.75 91.16,330.51 90.93,332.26 90.69,333.99 90.45,335.71 90.22,337.41 89.98,339.1 89.75,340.77 89.51,342.43 89.28,344.08 89.04,345.71 88.81,347.33 88.57,348.93 88.33,350.52 88.1,352.1 87.86,353.66 87.63,355.21 87.39,356.75 87.16,358.27 86.92,359.78 86.69,361.27 86.46,362.76 86.22,364.23 85.99,365.69 85.75,367.13 85.52,368.56 85.28,369.98 85.05,371.39 84.82,372.78 84.58,374.16 84.35,375.53 84.12,376.89 83.88,378.23 83.65,379.57 83.42,380.89 83.19,382.2 82.95,383.49 82.72,384.78 82.49,386.05 82.26,387.31 82.03,388.56 81.79,389.8 81.56,391.03 81.33,392.25 81.1,393.45 80.87,394.65 80.64,395.83 80.41,397 80.18,398.16 79.95,399.31 79.72,400.45 79.49,401.58 79.27,402.7 79.04,403.8 78.81,404.9 78.58,405.99 78.35,407.06 78.13,408.13 77.9,409.18 77.67,410.23 77.45,411.26 77.22,412.29 76.99,413.3 76.77,414.31 76.54,415.3 76.32,416.29 76.1,417.26 75.87,418.23 75.65,419.19 75.42,420.13 75.2,421.07 74.98,422 74.76,422.92 74.54,423.83 74.31,424.73 74.09,425.62 73.87,426.5 73.65,427.38 73.43,428.24 73.21,429.1 73,429.94 72.78,430.78 72.56,431.61 72.34,432.43 72.13,433.25 71.91,434.05 71.69,434.84 71.48,435.63 71.26,436.41 71.05,437.18 70.84,437.94 70.62,438.7 70.41,439.44 70.2,440.18 69.99,440.91 69.78,441.63 69.57,442.34 69.36,443.05 69.15,443.75 68.94,444.44 68.73,445.12 68.52,445.8 68.31,446.46 68.11,447.12 67.9,447.78 67.7,448.42 67.49,449.06 67.29,449.69 67.09,450.31 66.88,450.93 66.68,451.54 66.48,452.14 66.28,452.73 66.08,453.32 65.88,453.9 65.69,454.47 65.49,455.04 65.29,455.6 65.1,456.15 64.9,456.7 64.71,457.24 64.51,457.77 64.32,458.3 64.13,458.82 63.94,459.33 63.75,459.84 63.56,460.34 63.37,460.84 63.18,461.32 62.99,461.8 62.81,462.28 62.62,462.75 62.44,463.21 62.26,463.67 62.07,464.12 61.89,464.57 61.71,465.01 61.53,465.44 61.35,465.87 61.18,466.29 61,466.7 60.82,467.11 60.65,467.52 60.48,467.92 60.3,468.31 60.13,468.7 59.96,469.08 59.79,469.45 59.62,469.83 59.45,470.19 59.29,470.55 59.12,470.91 58.96,471.25 58.8,471.6 58.63,471.94 58.47,472.27 58.31,472.6 58.16,472.92 58,473.24 57.84,473.55 57.69,473.86 57.54,474.17 57.38,474.46 57.23,474.76 57.08,475.05 56.93,475.33 56.79,475.61 56.64,475.88 56.5,476.15 56.35,476.42 56.21,476.68 56.07,476.93 55.93,477.18 55.79,477.43 55.66,477.67 55.52,477.91 55.39,478.14 55.26,478.37 55.13,478.6 55,478.82 54.87,479.03 54.74,479.24 54.62,479.45 54.5,479.65 54.37,479.85 54.25,480.05 54.13,480.24 54.02,480.42 53.9,480.6 53.79,480.78 53.68,480.96 53.57,481.13 53.46,481.29 53.35,481.46 53.24,481.61 53.14,481.77 53.04,481.92 52.94,482.07 52.84,482.21 52.74,482.35 52.65,482.48 52.56,482.62 52.46,482.75 52.37,482.87 52.29,482.99 52.2,483.11 52.12,483.22 52.03,483.33 51.95,483.44 51.88,483.55 51.8,483.65 51.73,483.74 51.65,483.84 51.58,483.93 51.52,484.01 51.45,484.1 51.38,484.18 51.32,484.25 51.26,484.33 51.2,484.4 51.15,484.47 51.1,484.53 51.04,484.59 50.99,484.65 50.95,484.7 50.9,484.76 50.86,484.81 50.82,484.85 50.78,484.89 50.75,484.93 50.71,484.97 50.68,485.01 50.65,485.04 50.63,485.07 50.6,485.09 50.58,485.11 50.56,485.13 50.55,485.15 50.53,485.17 50.52,485.18 50.51,485.19 50.51,485.19 50.5,485.2 50.5,485.2 50.5,485.2 50.51,485.19 50.51,485.19 50.52,485.18 50.53,485.17 50.55,485.15 50.57,485.14 50.59,485.12 50.61,485.1 50.63,485.07 50.66,485.05 50.69,485.02 50.73,484.99 50.77,484.95 50.81,484.92 50.85,484.88 50.9,484.84 50.95,484.8 51,484.75 51.05,484.71 51.11,484.66 51.17,484.61 51.24,484.55 51.31,484.5 51.38,484.44 51.45,484.38 51.53,484.32 51.61,484.25 51.69,484.19 51.78,484.12 51.87,484.05 51.96,483.98 52.06,483.91 52.16,483.83 52.27,483.75 52.37,483.67 52.48,483.59 52.6,483.51 52.72,483.42 52.84,483.33 52.96,483.24 53.09,483.15 53.23,483.06 53.36,482.97 53.5,482.87 53.65,482.77 53.79,482.67 53.95,482.57 54.1,482.47 54.26,482.36 54.42,482.25 54.59,482.15 54.76,482.04 54.94,481.92 55.11,481.81 55.3,481.7 55.48,481.58 55.68,481.46 55.87,481.34 56.07,481.22 56.27,481.1 56.48,480.97 56.69,480.85 56.91,480.72 57.13,480.59 57.36,480.46 57.59,480.33 57.82,480.2 58.06,480.06 58.3,479.93 58.55,479.79 58.8,479.65 59.06,479.51 59.32,479.37 59.58,479.23 59.85,479.08 60.13,478.94 60.41,478.79 60.7,478.64 60.98,478.5 61.28,478.35 61.58,478.19 61.88,478.04 62.19,477.89 62.51,477.73 62.83,477.58 63.15,477.42 63.48,477.26 63.82,477.1 64.16,476.94 64.5,476.78 64.85,476.61 65.21,476.45 65.57,476.28 65.94,476.12 66.31,475.95 66.69,475.78 67.07,475.61 67.46,475.44 67.86,475.27 68.26,475.09 68.66,474.92 69.07,474.74 69.49,474.57 69.91,474.39 70.34,474.21 70.78,474.03 71.22,473.85 71.67,473.67 72.12,473.49 72.58,473.31 73.04,473.13 73.51,472.94 73.99,472.76 74.48,472.57 74.97,472.38 75.46,472.2 75.96,472.01 76.47,471.82 76.99,471.63 77.51,471.44 78.04,471.24 78.58,471.05 79.12,470.86 79.67,470.66 80.22,470.47 80.78,470.27 81.35,470.08 81.93,469.88 82.51,469.68 83.1,469.48 83.7,469.28 84.3,469.08 84.91,468.88 85.53,468.68 86.16,468.48 86.79,468.28 87.43,468.07 88.08,467.87 88.73,467.66 89.4,467.46 90.07,467.25 90.74,467.05 91.43,466.84 92.12,466.63 92.82,466.42 93.53,466.21 94.25,466 94.97,465.79 95.71,465.58 96.45,465.37 97.2,465.16 97.95,464.95 98.72,464.73 99.49,464.52 100.27,464.31 101.06,464.09 101.86,463.88 102.67,463.66 103.48,463.45 104.31,463.23 105.14,463.01 105.98,462.8 106.83,462.58 107.69,462.36 108.56,462.14 109.44,461.92 110.32,461.7 111.22,461.48 112.12,461.26 113.04,461.04 113.96,460.82 114.89,460.6 115.83,460.38 116.78,460.16 117.75,459.93 118.72,459.71 119.7,459.49 120.69,459.26 121.68,459.04 122.69,458.81 123.71,458.59 124.74,458.36 125.78,458.14 126.83,457.91 127.89,457.69 128.96,457.46 130.04,457.23 131.13,457.01 132.23,456.78 133.34,456.55 134.47,456.32 135.6,456.1 136.74,455.87 137.9,455.64 139.06,455.41 140.24,455.18 141.43,454.95 142.63,454.72 143.84,454.49 145.06,454.26 146.29,454.03 147.53,453.8 148.79,453.57 150.06,453.34 151.34,453.11 152.63,452.88 153.93,452.65 155.24,452.42 156.57,452.19 157.91,451.95 159.26,451.72 160.62,451.49 162,451.26 163.38,451.02 164.78,450.79 166.19,450.56 167.62,450.33 169.06,450.09 170.51,449.86 171.97,449.63 173.45,449.39 174.94,449.16 176.44,448.93 177.95,448.69 179.48,448.46 181.03,448.22 182.58,447.99 184.15,447.76 185.73,447.52 187.33,447.29 188.94,447.05 190.57,446.82 192.2,446.58 193.86,446.35 195.52,446.11 197.21,445.88 198.9,445.64 200.61,445.41 202.34,445.17 204.07,444.94 205.83,444.7 207.6,444.47 209.38,444.23 211.18,444 212.99,443.76 214.82,443.53 216.67,443.29 218.53,443.06 220.41,442.82 222.3,442.59 224.2,442.35 226.13,442.12 228.07,441.88 230.02,441.65 231.99,441.41 233.98,441.18 235.98,440.94 238,440.71 240.04,440.47 242.09,440.24 244.16,440 246.25,439.77 248.36,439.53 250.48,439.3 252.62,439.06 254.77,438.83 256.95,438.6 259.14,438.36 261.35,438.13 263.57,437.89 265.82,437.66 268.08,437.42 270.36,437.19 272.66,436.96 274.98,436.72 277.31,436.49 279.67,436.25 282.04,436.02 284.43,435.79 286.85,435.55 289.28,435.32 291.73,435.09 294.19,434.85 296.68,434.62 299.19,434.39 301.72,434.15 304.26,433.92 306.83,433.69 309.42,433.45 312.03,433.22 314.66,432.99 317.3,432.76 319.97,432.53 322.66,432.29 325.37,432.06 328.11,431.83 330.86,431.6 333.63,431.37 336.43,431.14" fill="none" stroke="#1c1c1c" stroke-width="1.15" stroke-linejoin="round" stroke-dasharray="3,2" stroke-linejoin="round"/>
<polyline points="93.12,315.4 137.45,315.4 137.45,337.47 137.47,339.49 137.52,341.48 137.61,343.43 137.73,345.35 137.88,347.24 138.07,349.09 138.29,350.91 138.55,352.69 138.84,354.44 139.16,356.15 139.52,357.83 139.91,359.48 140.34,361.09 140.8,362.67 141.29,364.22 141.82,365.73 142.38,367.21 142.98,368.65 143.61,370.06 144.28,371.43 144.97,372.78 145.71,374.08 146.47,375.36 147.28,376.6 148.11,377.8 148.98,378.97 149.88,380.11 150.82,381.21 151.79,382.28 152.8,383.32 153.84,384.32 154.91,385.29 156.02,386.22 157.16,387.12 158.34,387.99 159.55,388.82 160.8,389.62 162.08,390.38 163.39,391.11 164.74,391.81 166.12,392.47 167.53,393.1 168.98,393.69 170.46,394.26 171.98,394.78 173.53,395.27 175.12,395.73 176.74,396.16 178.39,396.55 180.08,396.9 181.8,397.23 183.56,397.52 185.35,397.77 187.17,397.99 189.03,398.18 190.92,398.33 192.85,398.45 194.81,398.53 196.81,398.59 198.84,398.6 221,398.6 221,442.75" fill="none" stroke="#55b38c" stroke-width="1.2" stroke-linejoin="round" />
<path d="M123.7 233.2h6.2M126.8 230.1v6.2" stroke="#151515" stroke-width="1.25"/>
<path d="M147.2 233.9h6.2M150.3 230.8v6.2" stroke="#151515" stroke-width="1.25"/>
<path d="M149.1 233.9h6.2M152.2 230.8v6.2" stroke="#151515" stroke-width="1.25"/>
<path d="M155.6 234.5h6.2M158.7 231.4v6.2" stroke="#151515" stroke-width="1.25"/>
<path d="M160.9 238.2h6.2M164 235.1v6.2" stroke="#151515" stroke-width="1.25"/>
<path d="M139.3 241h6.2M142.4 237.9v6.2" stroke="#151515" stroke-width="1.25"/>
<path d="M123.7 245.6h6.2M126.8 242.5v6.2" stroke="#151515" stroke-width="1.25"/>
<path d="M149.8 245h6.2M152.9 241.9v6.2" stroke="#151515" stroke-width="1.25"/>
<path d="M162.2 243.7h6.2M165.3 240.6v6.2" stroke="#151515" stroke-width="1.25"/>
<path d="M162.8 248.2h6.2M165.9 245.1v6.2" stroke="#151515" stroke-width="1.25"/>
<path d="M132.8 251.5h6.2M135.9 248.4v6.2" stroke="#151515" stroke-width="1.25"/>
<path d="M143.2 250.8h6.2M146.3 247.7v6.2" stroke="#151515" stroke-width="1.25"/>
<path d="M154.3 255.2h6.2M157.4 252.1v6.2" stroke="#151515" stroke-width="1.25"/>
<path d="M125 260h6.2M128.1 256.9v6.2" stroke="#151515" stroke-width="1.25"/>
<path d="M138 263.9h6.2M141.1 260.8v6.2" stroke="#151515" stroke-width="1.25"/>
<path d="M143.2 263.2h6.2M146.3 260.1v6.2" stroke="#151515" stroke-width="1.25"/>
<path d="M129.5 273.7h6.2M132.6 270.6v6.2" stroke="#151515" stroke-width="1.25"/>
<path d="M145.2 283.1h6.2M148.3 280v6.2" stroke="#151515" stroke-width="1.25"/>
<path d="M149.8 281.3h6.2M152.9 278.2v6.2" stroke="#151515" stroke-width="1.25"/>
<path d="M152.4 286.1h6.2M155.5 283v6.2" stroke="#151515" stroke-width="1.25"/>
<path d="M167.4 282.2h6.2M170.5 279.1v6.2" stroke="#151515" stroke-width="1.25"/>
<path d="M129.5 293.3h6.2M132.6 290.2v6.2" stroke="#151515" stroke-width="1.25"/>
<path d="M140.6 295.2h6.2M143.7 292.1v6.2" stroke="#151515" stroke-width="1.25"/>
<path d="M143.2 295.2h6.2M146.3 292.1v6.2" stroke="#151515" stroke-width="1.25"/>
<path d="M177.3 236.5h6.2M180.4 233.4v6.2" stroke="#151515" stroke-width="1.25"/>
<path d="M180.6 254.8h6.2M183.7 251.7v6.2" stroke="#151515" stroke-width="1.25"/>
<path d="M197.6 260.6h6.2M200.7 257.5v6.2" stroke="#151515" stroke-width="1.25"/>
<path d="M196.9 265.2h6.2M200 262.1v6.2" stroke="#151515" stroke-width="1.25"/>
<path d="M195 267.2h6.2M198.1 264.1v6.2" stroke="#151515" stroke-width="1.25"/>
<path d="M189.7 269.5h6.2M192.8 266.4v6.2" stroke="#151515" stroke-width="1.25"/>
<path d="M177.3 277h6.2M180.4 273.9v6.2" stroke="#151515" stroke-width="1.25"/>
<path d="M196.9 284.8h6.2M200 281.7v6.2" stroke="#151515" stroke-width="1.25"/>
<path d="M196.3 289.4h6.2M199.4 286.3v6.2" stroke="#151515" stroke-width="1.25"/>
<path d="M210 287.4h6.2M213.1 284.3v6.2" stroke="#151515" stroke-width="1.25"/>
<path d="M198.9 297.2h6.2M202 294.1v6.2" stroke="#151515" stroke-width="1.25"/>
<path d="M233.5 254.1h6.2M236.6 251v6.2" stroke="#151515" stroke-width="1.25"/>
<path d="M246.6 249.9h6.2M249.7 246.8v6.2" stroke="#151515" stroke-width="1.25"/>
<path d="M252.5 252.2h6.2M255.6 249.1v6.2" stroke="#151515" stroke-width="1.25"/>
<path d="M158.4 310.2h6.2M161.5 307.1v6.2" stroke="#151515" stroke-width="1.25"/>
<path d="M138.9 319.4h6.2M142 316.3v6.2" stroke="#151515" stroke-width="1.25"/>
<path d="M148 319.8h6.2M151.1 316.7v6.2" stroke="#151515" stroke-width="1.25"/>
<path d="M157.8 324.2h6.2M160.9 321.1v6.2" stroke="#151515" stroke-width="1.25"/>
<path d="M164.6 327.6h6.2M167.7 324.5v6.2" stroke="#151515" stroke-width="1.25"/>
<path d="M160.7 332h6.2M163.8 328.9v6.2" stroke="#151515" stroke-width="1.25"/>
<path d="M160.1 337.3h6.2M163.2 334.2v6.2" stroke="#151515" stroke-width="1.25"/>
<path d="M148 341.6h6.2M151.1 338.5v6.2" stroke="#151515" stroke-width="1.25"/>
<path d="M185.2 301.7h6.2M188.3 298.6v6.2" stroke="#151515" stroke-width="1.25"/>
<path d="M182.9 306.7h6.2M186 303.6v6.2" stroke="#151515" stroke-width="1.25"/>
<path d="M178.7 322.4h6.2M181.8 319.3v6.2" stroke="#151515" stroke-width="1.25"/>
<path d="M195.9 310.6h6.2M199 307.5v6.2" stroke="#151515" stroke-width="1.25"/>
<path d="M205.4 308.9h6.2M208.5 305.8v6.2" stroke="#151515" stroke-width="1.25"/>
<path d="M212.6 308.9h6.2M215.7 305.8v6.2" stroke="#151515" stroke-width="1.25"/>
<path d="M201.1 320.8h6.2M204.2 317.7v6.2" stroke="#151515" stroke-width="1.25"/>
<path d="M207.2 330.7h6.2M210.3 327.6v6.2" stroke="#151515" stroke-width="1.25"/>
<path d="M221.8 312.7h6.2M224.9 309.6v6.2" stroke="#151515" stroke-width="1.25"/>
<path d="M231.7 319.8h6.2M234.8 316.7v6.2" stroke="#151515" stroke-width="1.25"/>
<path d="M237.9 318.7h6.2M241 315.6v6.2" stroke="#151515" stroke-width="1.25"/>
<path d="M244.2 314.3h6.2M247.3 311.2v6.2" stroke="#151515" stroke-width="1.25"/>
<path d="M231.7 327.3h6.2M234.8 324.2v6.2" stroke="#151515" stroke-width="1.25"/>
<path d="M248.9 328.1h6.2M252 325v6.2" stroke="#151515" stroke-width="1.25"/>
<path d="M251.7 361.5h6.2M254.8 358.4v6.2" stroke="#151515" stroke-width="1.25"/>
<path d="M209.1 366.9h6.2M212.2 363.8v6.2" stroke="#151515" stroke-width="1.25"/>
<path d="M200.4 384.4h6.2M203.5 381.3v6.2" stroke="#151515" stroke-width="1.25"/>
<path d="M194 394.6h6.2M197.1 391.5v6.2" stroke="#151515" stroke-width="1.25"/>
<path d="M244.3 395.5h6.2M247.4 392.4v6.2" stroke="#151515" stroke-width="1.25"/>
<path d="M233.1 400.2h6.2M236.2 397.1v6.2" stroke="#151515" stroke-width="1.25"/>
<path d="M229.2 403.6h6.2M232.3 400.5v6.2" stroke="#151515" stroke-width="1.25"/>
<path d="M272.5 406h6.2M275.6 402.9v6.2" stroke="#151515" stroke-width="1.25"/>
<path d="M241.4 418.6h6.2M244.5 415.5v6.2" stroke="#151515" stroke-width="1.25"/>
<path d="M182.4 365.5h6.2M185.5 362.4v6.2" stroke="#151515" stroke-width="1.25"/>
<path d="M133.7 302.1h6.2M136.8 299v6.2" stroke="#151515" stroke-width="1.25"/>
<path d="M114 307.8h6.2M117.1 304.7v6.2" stroke="#151515" stroke-width="1.25"/>
<rect x="109.3" y="321.2" width="5" height="5" fill="#2c74b8"/>
<rect x="121.2" y="323.5" width="5" height="5" fill="#efcb35"/>
<rect x="129.7" y="323.5" width="5" height="5" fill="#151515"/>
<rect x="125" y="333.4" width="5" height="5" fill="#e99a26"/>
<rect x="131.1" y="332" width="5" height="5" fill="#e0321e"/>
<rect x="131.9" y="337.6" width="5" height="5" fill="#2c74b8"/>
<rect x="119.4" y="343.5" width="5" height="5" fill="#e0321e"/>
<rect x="129.7" y="344.5" width="5" height="5" fill="#6cb2e4"/>
<rect x="110" y="344.2" width="5" height="5" fill="#151515"/>
<rect x="105.1" y="347.5" width="5" height="5" fill="#151515"/>
<rect x="116.1" y="349.4" width="5" height="5" fill="#efcb35"/>
<rect x="121.2" y="351.8" width="5" height="5" fill="#6cb2e4"/>
<rect x="109.5" y="358.1" width="5" height="5" fill="#e0321e"/>
<rect x="117.5" y="358.1" width="5" height="5" fill="#8a35c4"/>
<rect x="124.5" y="363.9" width="5" height="5" fill="#e0321e"/>
<rect x="113.1" y="365.5" width="5" height="5" fill="#2c74b8"/>
<rect x="116.3" y="373" width="5" height="5" fill="#e99a26"/>
<rect x="123.8" y="374.2" width="5" height="5" fill="#e99a26"/>
<rect x="128.3" y="371.8" width="5" height="5" fill="#6cb2e4"/>
<rect x="134.7" y="375.6" width="5" height="5" fill="#151515"/>
<rect x="130.2" y="381.5" width="5" height="5" fill="#efcb35"/>
<rect x="110.4" y="384.8" width="5" height="5" fill="#efcb35"/>
<rect x="121.7" y="385" width="5" height="5" fill="#6cb2e4"/>
<rect x="126.4" y="386" width="5" height="5" fill="#efcb35"/>
<rect x="126.4" y="383.8" width="5" height="5" fill="#2f9e6c"/>
<rect x="107.1" y="391.5" width="5" height="5" fill="#151515"/>
<rect x="113.7" y="391.4" width="5" height="5" fill="#e99a26"/>
<rect x="114" y="397.5" width="5" height="5" fill="#6cb2e4"/>
<rect x="129.1" y="395.9" width="5" height="5" fill="#8a35c4"/>
<rect x="126.9" y="401.7" width="5" height="5" fill="#151515"/>
<rect x="108.5" y="403.4" width="5" height="5" fill="#2c74b8"/>
<rect x="118.1" y="403.8" width="5" height="5" fill="#2f9e6c"/>
<rect x="102.4" y="406.4" width="5" height="5" fill="#6cb2e4"/>
<rect x="141.1" y="379" width="5" height="5" fill="#e99a26"/>
<rect x="148.9" y="380" width="5" height="5" fill="#8a35c4"/>
<rect x="150.3" y="387.5" width="5" height="5" fill="#efcb35"/>
<rect x="145.1" y="395" width="5" height="5" fill="#e0321e"/>
<rect x="153" y="393.6" width="5" height="5" fill="#8a35c4"/>
<rect x="154.6" y="398" width="5" height="5" fill="#2c74b8"/>
<rect x="155.3" y="395.5" width="5" height="5" fill="#2f9e6c"/>
<rect x="142.4" y="399.9" width="5" height="5" fill="#8a35c4"/>
<rect x="150" y="403.5" width="5" height="5" fill="#6cb2e4"/>
<rect x="153.3" y="414.8" width="5" height="5" fill="#2f9e6c"/>
<rect x="168.7" y="412.4" width="5" height="5" fill="#2c74b8"/>
<rect x="172.5" y="412.1" width="5" height="5" fill="#2f9e6c"/>
<rect x="193.2" y="407.7" width="5" height="5" fill="#2f9e6c"/>
<rect x="185" y="417.6" width="5" height="5" fill="#e99a26"/>
<rect x="153.5" y="422.1" width="5" height="5" fill="#e0321e"/>
<rect x="143.3" y="426.8" width="5" height="5" fill="#8a35c4"/>
<rect x="159.3" y="427.8" width="5" height="5" fill="#2c74b8"/>
<rect x="108.4" y="411.4" width="5" height="5" fill="#efcb35"/>
<rect x="120.9" y="423.8" width="5" height="5" fill="#e99a26"/>
<rect x="106.1" y="426.9" width="5" height="5" fill="#8a35c4"/>
<rect x="124.9" y="430.4" width="5" height="5" fill="#2f9e6c"/>
<rect x="206.7" y="419" width="5" height="5" fill="#151515"/>
</g>
<g clip-path="url(#clipD)">
<polyline points="397.5,199.04 397.52,201.01 397.54,202.96 397.56,204.9 397.58,206.83 397.61,208.74 397.63,210.63 397.65,212.51 397.67,214.38 397.69,216.23 397.71,218.07 397.74,219.9 397.76,221.71 397.78,223.51 397.8,225.29 397.83,227.06 397.85,228.82 397.87,230.56 397.9,232.29 397.92,234.01 397.95,235.71 397.97,237.4 397.99,239.08 398.02,240.75 398.04,242.4 398.07,244.04 398.09,245.67 398.12,247.28 398.14,248.89 398.17,250.48 398.19,252.06 398.22,253.62 398.25,255.18 398.27,256.72 398.3,258.25 398.33,259.77 398.35,261.28 398.38,262.78 398.41,264.27 398.43,265.74 398.46,267.2 398.49,268.66 398.52,270.1 398.55,271.53 398.58,272.95 398.6,274.36 398.63,275.75 398.66,277.14 398.69,278.52 398.72,279.88 398.75,281.24 398.78,282.59 398.81,283.92 398.84,285.25 398.87,286.56 398.91,287.87 398.94,289.16 398.97,290.45 399,291.73 399.03,292.99 399.06,294.25 399.1,295.5 399.13,296.73 399.16,297.96 399.2,299.18 399.23,300.39 399.26,301.59 399.3,302.78 399.33,303.97 399.37,305.14 399.4,306.3 399.44,307.46 399.47,308.61 399.51,309.75 399.54,310.88 399.58,312 399.62,313.11 399.65,314.21 399.69,315.31 399.73,316.4 399.77,317.48 399.8,318.55 399.84,319.61 399.88,320.66 399.92,321.71 399.96,322.75 400,323.78 400.04,324.81 400.08,325.82 400.12,326.83 400.16,327.83 400.2,328.82 400.24,329.81 400.28,330.78 400.32,331.75 400.37,332.72 400.41,333.67 400.45,334.62 400.5,335.56 400.54,336.5 400.58,337.42 400.63,338.34 400.67,339.26 400.72,340.16 400.76,341.06 400.81,341.95 400.85,342.84 400.9,343.72 400.95,344.59 400.99,345.45 401.04,346.31 401.09,347.17 401.14,348.01 401.18,348.85 401.23,349.68 401.28,350.51 401.33,351.33 401.38,352.15 401.43,352.95 401.48,353.76 401.53,354.55 401.58,355.34 401.64,356.13 401.69,356.9 401.74,357.68 401.79,358.44 401.85,359.2 401.9,359.96 401.96,360.71 402.01,361.45 402.07,362.19 402.12,362.92 402.18,363.65 402.23,364.37 402.29,365.08 402.35,365.79 402.41,366.5 402.46,367.2 402.52,367.89 402.58,368.58 402.64,369.26 402.7,369.94 402.76,370.62 402.82,371.28 402.88,371.95 402.94,372.6 403.01,373.26 403.07,373.91 403.13,374.55 403.2,375.19 403.26,375.82 403.33,376.45 403.39,377.07 403.46,377.69 403.52,378.31 403.59,378.92 403.66,379.52 403.72,380.12 403.79,380.72 403.86,381.31 403.93,381.9 404,382.48 404.07,383.06 404.14,383.63 404.21,384.2 404.28,384.77 404.36,385.33 404.43,385.88 404.5,386.44 404.58,386.98 404.65,387.53 404.73,388.07 404.8,388.6 404.88,389.14 404.96,389.66 405.03,390.19 405.11,390.71 405.19,391.22 405.27,391.73 405.35,392.24 405.43,392.75 405.51,393.25 405.59,393.74 405.68,394.24 405.76,394.73 405.84,395.21 405.93,395.69 406.01,396.17 406.1,396.64 406.18,397.12 406.27,397.58 406.36,398.05 406.45,398.51 406.54,398.96 406.63,399.42 406.72,399.87 406.81,400.31 406.9,400.76 406.99,401.19 407.08,401.63 407.18,402.06 407.27,402.49 407.37,402.92 407.46,403.34 407.56,403.76 407.66,404.18 407.76,404.59 407.86,405 407.96,405.41 408.06,405.82 408.16,406.22 408.26,406.62 408.36,407.01 408.47,407.4 408.57,407.79 408.68,408.18 408.78,408.56 408.89,408.94 409,409.32 409.1,409.69 409.21,410.07 409.32,410.44 409.44,410.8 409.55,411.16 409.66,411.53 409.77,411.88 409.89,412.24 410,412.59 410.12,412.94 410.24,413.29 410.35,413.63 410.47,413.97 410.59,414.31 410.71,414.65 410.84,414.99 410.96,415.32 411.08,415.65 411.21,415.97 411.33,416.3 411.46,416.62 411.58,416.94 411.71,417.25 411.84,417.57 411.97,417.88 412.1,418.19 412.24,418.5 412.37,418.8 412.5,419.11 412.64,419.41 412.77,419.7 412.91,420 413.05,420.29 413.19,420.59 413.33,420.88 413.47,421.16 413.61,421.45 413.76,421.73 413.9,422.01 414.05,422.29 414.2,422.57 414.34,422.84 414.49,423.11 414.64,423.38 414.8,423.65 414.95,423.92 415.1,424.18 415.26,424.44 415.41,424.7 415.57,424.96 415.73,425.22 415.89,425.47 416.05,425.72 416.21,425.97 416.38,426.22 416.54,426.47 416.71,426.71 416.88,426.95 417.04,427.2 417.21,427.43 417.39,427.67 417.56,427.91 417.73,428.14 417.91,428.37 418.08,428.6 418.26,428.83 418.44,429.06 418.62,429.28 418.8,429.51 418.99,429.73 419.17,429.95 419.36,430.17 419.55,430.38 419.73,430.6 419.93,430.81 420.12,431.02 420.31,431.23 420.51,431.44 420.7,431.65 420.9,431.85 421.1,432.06 421.3,432.26 421.5,432.46 421.71,432.66 421.91,432.86 422.12,433.05 422.33,433.25 422.54,433.44 422.75,433.63 422.96,433.82 423.18,434.01 423.4,434.2 423.61,434.39 423.83,434.57 424.06,434.75 424.28,434.94 424.51,435.12 424.73,435.3 424.96,435.47 425.19,435.65 425.42,435.82 425.66,436 425.89,436.17 426.13,436.34 426.37,436.51 426.61,436.68 426.85,436.85 427.1,437.01 427.35,437.18 427.59,437.34 427.85,437.5 428.1,437.66 428.35,437.82 428.61,437.98 428.87,438.14 429.13,438.3 429.39,438.45 429.65,438.6 429.92,438.76 430.19,438.91 430.46,439.06 430.73,439.21 431.01,439.36 431.28,439.5 431.56,439.65 431.84,439.79 432.13,439.94 432.41,440.08 432.7,440.22 432.99,440.36 433.28,440.5 433.57,440.64 433.87,440.78 434.17,440.91 434.47,441.05 434.77,441.18 435.08,441.31 435.38,441.45 435.69,441.58 436.01,441.71 436.32,441.84 436.64,441.96 436.96,442.09 437.28,442.22 437.61,442.34 437.93,442.47 438.26,442.59 438.59,442.71 438.93,442.83 439.27,442.96 439.61,443.07 439.95,443.19 440.29,443.31 440.64,443.43 440.99,443.54 441.34,443.66 441.7,443.77 442.06,443.89 442.42,444 442.78,444.11 443.15,444.22 443.52,444.33 443.89,444.44 444.27,444.55 444.64,444.66 445.03,444.76 445.41,444.87 445.8,444.97 446.19,445.08 446.58,445.18 446.97,445.29 447.37,445.39 447.77,445.49 448.18,445.59 448.59,445.69 449,445.79 449.41,445.89 449.83,445.98 450.25,446.08 450.67,446.18 451.1,446.27 451.53,446.37 451.96,446.46 452.4,446.55 452.84,446.64 453.28,446.74 453.73,446.83 454.18,446.92 454.63,447.01 455.09,447.1 455.55,447.18 456.02,447.27 456.48,447.36 456.96,447.44 457.43,447.53 457.91,447.62 458.39,447.7 458.88,447.78 459.37,447.87 459.86,447.95 460.36,448.03 460.86,448.11 461.36,448.19 461.87,448.27 462.38,448.35 462.9,448.43 463.42,448.51 463.94,448.59 464.47,448.66 465.01,448.74 465.54,448.81 466.08,448.89 466.63,448.96 467.18,449.04 467.73,449.11 468.29,449.18 468.85,449.26 469.41,449.33 469.98,449.4 470.56,449.47 471.14,449.54 471.72,449.61 472.31,449.68 472.9,449.75 473.5,449.82 474.1,449.88 474.7,449.95 475.31,450.02 475.93,450.08 476.55,450.15 477.17,450.21 477.8,450.28 478.44,450.34 479.08,450.41 479.72,450.47 480.37,450.53 481.02,450.59 481.68,450.66 482.35,450.72 483.01,450.78 483.69,450.84 484.37,450.9 485.05,450.96 485.74,451.02 486.44,451.08 487.14,451.13 487.84,451.19 488.55,451.25 489.27,451.3 489.99,451.36 490.72,451.42 491.45,451.47 492.19,451.53 492.93,451.58 493.68,451.64 494.44,451.69 495.2,451.74 495.97,451.8 496.74,451.85 497.52,451.9 498.3,451.95 499.1,452 499.89,452.06 500.7,452.11 501.5,452.16 502.32,452.21 503.14,452.26 503.97,452.3 504.8,452.35 505.64,452.4 506.49,452.45 507.34,452.5 508.2,452.54 509.07,452.59 509.94,452.64 510.82,452.68 511.71,452.73 512.6,452.78 513.5,452.82 514.41,452.87 515.32,452.91 516.25,452.95 517.17,453 518.11,453.04 519.05,453.08 520,453.13 520.96,453.17 521.92,453.21 522.89,453.25 523.87,453.3 524.86,453.34 525.85,453.38 526.85,453.42 527.86,453.46 528.88,453.5 529.9,453.54 530.93,453.58 531.97,453.62 533.02,453.66 534.08,453.69 535.14,453.73 536.21,453.77 537.29,453.81 538.38,453.84 539.48,453.88 540.59,453.92 541.7,453.95 542.82,453.99 543.95,454.03 545.09,454.06 546.24,454.1 547.4,454.13 548.56,454.17 549.74,454.2 550.92,454.24 552.12,454.27 553.32,454.3 554.53,454.34 555.75,454.37 556.98,454.4 558.22,454.44 559.47,454.47 560.73,454.5 561.99,454.53 563.27,454.57 564.56,454.6 565.85,454.63 567.16,454.66 568.48,454.69 569.81,454.72 571.14,454.75 572.49,454.78 573.85,454.81 575.22,454.84 576.59,454.87 577.98,454.9 579.38,454.93 580.79,454.96 582.21,454.99 583.65,455.02 585.09,455.04 586.54,455.07 588.01,455.1 589.48,455.13 590.97,455.15 592.47,455.18 593.98,455.21 595.5,455.24 597.04,455.26 598.58,455.29 600.14,455.31 601.71,455.34 603.29,455.37 604.88,455.39 606.49,455.42 608.1,455.44 609.73,455.47 611.38,455.49 613.03,455.52 614.7,455.54 616.38,455.56 618.07,455.59 619.78,455.61 621.5,455.64 623.23,455.66 624.97,455.68 626.73,455.71 628.5,455.73 630.29,455.75 632.09,455.77 633.9,455.8 635.73,455.82 637.57,455.84 639.43,455.86 641.29,455.88 643.18,455.91 645.08,455.93 646.99,455.95 648.91,455.97 650.86,455.99 652.81,456.01 654.78,456.03" fill="none" stroke="#1c1c1c" stroke-width="1.15" stroke-linejoin="round" stroke-dasharray="3,2" stroke-linejoin="round"/>
<polyline points="387.05,198.83 387.02,201.84 386.99,204.82 386.96,207.76 386.94,210.68 386.91,213.57 386.88,216.42 386.85,219.25 386.83,222.05 386.8,224.83 386.77,227.57 386.74,230.29 386.71,232.98 386.69,235.64 386.66,238.28 386.63,240.89 386.6,243.47 386.57,246.03 386.55,248.56 386.52,251.06 386.49,253.54 386.46,256 386.43,258.43 386.4,260.83 386.37,263.21 386.35,265.57 386.32,267.9 386.29,270.21 386.26,272.49 386.23,274.75 386.2,276.99 386.17,279.21 386.15,281.4 386.12,283.57 386.09,285.72 386.06,287.85 386.03,289.95 386,292.03 385.97,294.1 385.94,296.14 385.91,298.16 385.89,300.15 385.86,302.13 385.83,304.09 385.8,306.03 385.77,307.95 385.74,309.84 385.71,311.72 385.68,313.58 385.65,315.42 385.62,317.24 385.59,319.04 385.56,320.83 385.53,322.59 385.5,324.34 385.48,326.07 385.45,327.78 385.42,329.47 385.39,331.14 385.36,332.8 385.33,334.44 385.3,336.06 385.27,337.67 385.24,339.26 385.21,340.83 385.18,342.39 385.15,343.93 385.12,345.45 385.09,346.96 385.06,348.45 385.03,349.93 385,351.39 384.97,352.83 384.94,354.26 384.92,355.68 384.89,357.08 384.86,358.46 384.83,359.83 384.8,361.19 384.77,362.53 384.74,363.86 384.71,365.17 384.68,366.47 384.65,367.76 384.62,369.03 384.59,370.29 384.56,371.53 384.53,372.76 384.5,373.98 384.47,375.19 384.45,376.38 384.42,377.56 384.39,378.73 384.36,379.88 384.33,381.03 384.3,382.16 384.27,383.27 384.24,384.38 384.21,385.47 384.18,386.56 384.15,387.63 384.13,388.68 384.1,389.73 384.07,390.77 384.04,391.79 384.01,392.81 383.98,393.81 383.95,394.8 383.93,395.78 383.9,396.75 383.87,397.71 383.84,398.66 383.81,399.6 383.78,400.53 383.76,401.45 383.73,402.35 383.7,403.25 383.67,404.14 383.64,405.02 383.62,405.89 383.59,406.75 383.56,407.6 383.53,408.44 383.51,409.27 383.48,410.09 383.45,410.9 383.43,411.71 383.4,412.5 383.37,413.29 383.35,414.06 383.32,414.83 383.29,415.59 383.27,416.34 383.24,417.08 383.21,417.82 383.19,418.54 383.16,419.26 383.14,419.97 383.11,420.67 383.09,421.37 383.06,422.05 383.04,422.73 383.01,423.4 382.99,424.07 382.96,424.72 382.94,425.37 382.91,426.01 382.89,426.64 382.86,427.27 382.84,427.89 382.82,428.5 382.79,429.1 382.77,429.7 382.75,430.29 382.72,430.87 382.7,431.45 382.68,432.02 382.65,432.59 382.63,433.14 382.61,433.69 382.59,434.24 382.57,434.77 382.54,435.31 382.52,435.83 382.5,436.35 382.48,436.86 382.46,437.37 382.44,437.87 382.42,438.37 382.4,438.86 382.38,439.34 382.36,439.82 382.34,440.29 382.32,440.76 382.31,441.22 382.29,441.67 382.27,442.12 382.25,442.57 382.23,443 382.22,443.44 382.2,443.87 382.18,444.29 382.17,444.71 382.15,445.12 382.13,445.53 382.12,445.93 382.1,446.33 382.09,446.72 382.07,447.11 382.06,447.49 382.05,447.87 382.03,448.25 382.02,448.62 382.01,448.98 381.99,449.34 381.98,449.7 381.97,450.05 381.96,450.4 381.95,450.74 381.94,451.08 381.93,451.41 381.92,451.74 381.91,452.07 381.9,452.39 381.89,452.71 381.88,453.02 381.88,453.33 381.87,453.63 381.86,453.94 381.85,454.23 381.85,454.53 381.84,454.82 381.84,455.1 381.83,455.38 381.83,455.66 381.83,455.94 381.82,456.21 381.82,456.48 381.82,456.74 381.82,457 381.82,457.26 381.82,457.51 381.82,457.77 381.82,458.01 381.82,458.26 381.82,458.5 381.82,458.73 381.82,458.97 381.83,459.2 381.83,459.43 381.83,459.65 381.84,459.87 381.85,460.09 381.85,460.31 381.86,460.52 381.87,460.73 381.87,460.94 381.88,461.14 381.89,461.34 381.9,461.54 381.91,461.74 381.93,461.93 381.94,462.12 381.95,462.3 381.97,462.49 381.98,462.67 381.99,462.85 382.01,463.03 382.03,463.2 382.04,463.37 382.06,463.54 382.08,463.71 382.1,463.87 382.12,464.03 382.14,464.19 382.17,464.35 382.19,464.5 382.21,464.66 382.24,464.81 382.26,464.95 382.29,465.1 382.32,465.24 382.34,465.38 382.37,465.52 382.4,465.66 382.43,465.79 382.47,465.92 382.5,466.05 382.53,466.18 382.57,466.31 382.6,466.43 382.64,466.55 382.68,466.67 382.72,466.79 382.76,466.91 382.8,467.02 382.84,467.14 382.88,467.25 382.93,467.35 382.97,467.46 383.02,467.57 383.07,467.67 383.11,467.77 383.16,467.87 383.22,467.97 383.27,468.07 383.32,468.16 383.37,468.25 383.43,468.34 383.49,468.43 383.55,468.52 383.61,468.61 383.67,468.69 383.73,468.78 383.79,468.86 383.86,468.94 383.92,469.02 383.99,469.09 384.06,469.17 384.13,469.25 384.2,469.32 384.27,469.39 384.35,469.46 384.42,469.53 384.5,469.6 384.58,469.66 384.66,469.73 384.74,469.79 384.83,469.85 384.91,469.91 385,469.97 385.08,470.03 385.17,470.09 385.27,470.14 385.36,470.2 385.45,470.25 385.55,470.3 385.65,470.35 385.75,470.4 385.85,470.45 385.95,470.5 386.06,470.54 386.17,470.59 386.27,470.63 386.38,470.68 386.5,470.72 386.61,470.76 386.73,470.8 386.85,470.84 386.97,470.88 387.09,470.91 387.21,470.95 387.34,470.98 387.47,471.02 387.6,471.05 387.73,471.08 387.86,471.11 388,471.14 388.14,471.17 388.28,471.2 388.42,471.23 388.57,471.25 388.72,471.28 388.87,471.3 389.02,471.33 389.17,471.35 389.33,471.37 389.49,471.39 389.65,471.41 389.82,471.43 389.98,471.45 390.15,471.47 390.32,471.49 390.5,471.5 390.67,471.52 390.85,471.54 391.04,471.55 391.22,471.56 391.41,471.58 391.6,471.59 391.79,471.6 391.99,471.61 392.19,471.62 392.39,471.63 392.59,471.64 392.8,471.65 393.01,471.66 393.22,471.66 393.44,471.67 393.65,471.68 393.88,471.68 394.1,471.68 394.33,471.69 394.56,471.69 394.8,471.69 395.03,471.7 395.27,471.7 395.52,471.7 395.77,471.7 396.02,471.7 396.27,471.7 396.53,471.7 396.79,471.7 397.05,471.69 397.32,471.69 397.59,471.69 397.87,471.69 398.15,471.68 398.43,471.68 398.72,471.67 399.01,471.67 399.3,471.66 399.6,471.65 399.9,471.65 400.21,471.64 400.52,471.63 400.83,471.62 401.15,471.62 401.47,471.61 401.8,471.6 402.13,471.59 402.46,471.58 402.8,471.57 403.14,471.56 403.49,471.54 403.84,471.53 404.2,471.52 404.56,471.51 404.92,471.5 405.29,471.48 405.67,471.47 406.05,471.46 406.43,471.44 406.82,471.43 407.21,471.41 407.61,471.4 408.02,471.38 408.43,471.37 408.84,471.35 409.26,471.33 409.68,471.32 410.11,471.3 410.54,471.28 410.98,471.26 411.43,471.25 411.88,471.23 412.33,471.21 412.8,471.19 413.26,471.17 413.73,471.15 414.21,471.13 414.7,471.11 415.19,471.1 415.68,471.08 416.18,471.05 416.69,471.03 417.2,471.01 417.72,470.99 418.25,470.97 418.78,470.95 419.32,470.93 419.87,470.91 420.42,470.88 420.97,470.86 421.54,470.84 422.11,470.82 422.69,470.79 423.27,470.77 423.86,470.75 424.46,470.72 425.07,470.7 425.68,470.68 426.3,470.65 426.92,470.63 427.56,470.6 428.2,470.58 428.85,470.56 429.5,470.53 430.17,470.51 430.84,470.48 431.52,470.46 432.2,470.43 432.9,470.41 433.6,470.38 434.31,470.35 435.03,470.33 435.76,470.3 436.49,470.28 437.24,470.25 437.99,470.22 438.75,470.2 439.52,470.17 440.3,470.14 441.08,470.12 441.88,470.09 442.68,470.06 443.5,470.04 444.32,470.01 445.15,469.98 445.99,469.96 446.84,469.93 447.7,469.9 448.57,469.87 449.45,469.84 450.34,469.82 451.24,469.79 452.15,469.76 453.07,469.73 454,469.71 454.94,469.68 455.89,469.65 456.85,469.62 457.82,469.59 458.8,469.56 459.79,469.54 460.8,469.51 461.81,469.48 462.84,469.45 463.88,469.42 464.92,469.39 465.98,469.36 467.06,469.33 468.14,469.31 469.23,469.28 470.34,469.25 471.46,469.22 472.59,469.19 473.74,469.16 474.89,469.13 476.06,469.1 477.24,469.07 478.44,469.04 479.64,469.01 480.86,468.99 482.1,468.96 483.34,468.93 484.6,468.9 485.88,468.87 487.16,468.84 488.46,468.81 489.78,468.78 491.11,468.75 492.45,468.72 493.81,468.69 495.18,468.66 496.57,468.63 497.97,468.6 499.39,468.57 500.82,468.54 502.26,468.52 503.73,468.49 505.2,468.46 506.7,468.43 508.21,468.4 509.73,468.37 511.27,468.34 512.83,468.31 514.41,468.28 516,468.25 517.61,468.22 519.23,468.19 520.87,468.16 522.53,468.13 524.21,468.1 525.9,468.07 527.61,468.04 529.34,468.01 531.09,467.99 532.86,467.96 534.65,467.93 536.45,467.9 538.27,467.87 540.11,467.84 541.97,467.81 543.85,467.78 545.75,467.75 547.67,467.72 549.61,467.69 551.57,467.66 553.55,467.63 555.56,467.61 557.58,467.58 559.62,467.55 561.68,467.52 563.77,467.49 565.88,467.46 568.01,467.43 570.16,467.4 572.33,467.37 574.53,467.35 576.74,467.32 578.98,467.29 581.25,467.26 583.54,467.23 585.85,467.2 588.18,467.17 590.54,467.15 592.92,467.12 595.33,467.09 597.76,467.06 600.22,467.03 602.7,467 605.21,466.98 607.74,466.95 610.3,466.92 612.89,466.89 615.5,466.86 618.14,466.83 620.81,466.81 623.5,466.78 626.22,466.75 628.97,466.72 631.74,466.7 634.55,466.67 637.38,466.64 640.24,466.61 643.13,466.59 646.05,466.56 649,466.53 651.98,466.5 654.99,466.48" fill="none" stroke="#1c1c1c" stroke-width="1.15" stroke-linejoin="round" stroke-dasharray="3,2" stroke-linejoin="round"/>
<polyline points="383.89,198.62 383.84,202.23 383.79,205.8 383.75,209.33 383.7,212.81 383.65,216.26 383.61,219.67 383.56,223.05 383.51,226.38 383.47,229.68 383.42,232.94 383.37,236.17 383.32,239.35 383.28,242.51 383.23,245.62 383.18,248.71 383.13,251.75 383.08,254.76 383.03,257.74 382.98,260.69 382.94,263.6 382.89,266.48 382.84,269.33 382.79,272.14 382.74,274.92 382.69,277.67 382.64,280.39 382.59,283.08 382.54,285.74 382.49,288.36 382.44,290.96 382.39,293.53 382.33,296.06 382.28,298.57 382.23,301.05 382.18,303.5 382.13,305.93 382.08,308.32 382.03,310.69 381.97,313.03 381.92,315.35 381.87,317.63 381.82,319.89 381.76,322.13 381.71,324.34 381.66,326.52 381.61,328.68 381.55,330.81 381.5,332.92 381.45,335 381.39,337.06 381.34,339.09 381.28,341.1 381.23,343.09 381.18,345.05 381.12,346.99 381.07,348.91 381.01,350.81 380.96,352.68 380.9,354.53 380.85,356.36 380.79,358.16 380.74,359.95 380.68,361.72 380.63,363.46 380.57,365.18 380.51,366.88 380.46,368.57 380.4,370.23 380.34,371.87 380.29,373.49 380.23,375.09 380.17,376.68 380.12,378.24 380.06,379.79 380,381.32 379.95,382.82 379.89,384.31 379.83,385.79 379.77,387.24 379.71,388.68 379.66,390.1 379.6,391.5 379.54,392.88 379.48,394.25 379.42,395.6 379.36,396.94 379.31,398.26 379.25,399.56 379.19,400.84 379.13,402.11 379.07,403.37 379.01,404.61 378.95,405.83 378.89,407.04 378.83,408.23 378.77,409.41 378.71,410.57 378.65,411.72 378.59,412.85 378.53,413.98 378.47,415.08 378.41,416.17 378.35,417.25 378.29,418.32 378.22,419.37 378.16,420.41 378.1,421.43 378.04,422.44 377.98,423.44 377.92,424.43 377.86,425.4 377.79,426.36 377.73,427.31 377.67,428.24 377.61,429.17 377.55,430.08 377.48,430.98 377.42,431.87 377.36,432.75 377.3,433.61 377.23,434.46 377.17,435.31 377.11,436.14 377.05,436.96 376.98,437.77 376.92,438.57 376.86,439.36 376.79,440.14 376.73,440.9 376.67,441.66 376.6,442.41 376.54,443.15 376.48,443.87 376.41,444.59 376.35,445.3 376.29,446 376.22,446.68 376.16,447.36 376.09,448.03 376.03,448.69 375.97,449.35 375.9,449.99 375.84,450.62 375.77,451.25 375.71,451.86 375.65,452.47 375.58,453.07 375.52,453.66 375.45,454.25 375.39,454.82 375.32,455.39 375.26,455.94 375.2,456.49 375.13,457.04 375.07,457.57 375,458.1 374.94,458.62 374.87,459.13 374.81,459.63 374.75,460.13 374.68,460.62 374.62,461.1 374.55,461.58 374.49,462.05 374.42,462.51 374.36,462.96 374.3,463.41 374.23,463.85 374.17,464.29 374.1,464.72 374.04,465.14 373.98,465.55 373.91,465.96 373.85,466.37 373.78,466.76 373.72,467.15 373.66,467.54 373.59,467.92 373.53,468.29 373.47,468.66 373.4,469.02 373.34,469.37 373.28,469.72 373.21,470.06 373.15,470.4 373.09,470.74 373.02,471.06 372.96,471.39 372.9,471.7 372.84,472.02 372.77,472.32 372.71,472.62 372.65,472.92 372.59,473.21 372.53,473.5 372.46,473.78 372.4,474.06 372.34,474.33 372.28,474.6 372.22,474.86 372.16,475.12 372.1,475.38 372.04,475.63 371.98,475.87 371.92,476.11 371.86,476.35 371.8,476.58 371.74,476.81 371.68,477.03 371.62,477.25 371.56,477.47 371.5,477.68 371.44,477.89 371.39,478.09 371.33,478.29 371.27,478.49 371.21,478.68 371.16,478.87 371.1,479.06 371.04,479.24 370.99,479.42 370.93,479.59 370.88,479.76 370.82,479.93 370.77,480.09 370.71,480.25 370.66,480.41 370.61,480.57 370.55,480.72 370.5,480.86 370.45,481.01 370.39,481.15 370.34,481.29 370.29,481.42 370.24,481.56 370.19,481.69 370.14,481.81 370.09,481.94 370.04,482.06 369.99,482.17 369.94,482.29 369.9,482.4 369.85,482.51 369.8,482.62 369.76,482.72 369.71,482.82 369.66,482.92 369.62,483.02 369.57,483.11 369.53,483.2 369.49,483.29 369.44,483.38 369.4,483.46 369.36,483.54 369.32,483.62 369.28,483.7 369.24,483.77 369.2,483.85 369.16,483.92 369.13,483.98 369.09,484.05 369.05,484.11 369.02,484.18 368.98,484.23 368.95,484.29 368.91,484.35 368.88,484.4 368.85,484.45 368.82,484.5 368.79,484.55 368.76,484.6 368.73,484.64 368.7,484.68 368.67,484.72 368.65,484.76 368.62,484.8 368.6,484.83 368.57,484.86 368.55,484.9 368.53,484.92 368.51,484.95 368.49,484.98 368.47,485 368.45,485.03 368.43,485.05 368.41,485.07 368.4,485.09 368.38,485.1 368.37,485.12 368.36,485.13 368.35,485.15 368.34,485.16 368.33,485.17 368.32,485.18 368.32,485.18 368.31,485.19 368.31,485.19 368.3,485.2 368.3,485.2 368.3,485.2 368.3,485.2 368.3,485.2 368.31,485.19 368.31,485.19 368.32,485.18 368.32,485.18 368.33,485.17 368.34,485.16 368.35,485.15 368.37,485.14 368.38,485.13 368.4,485.12 368.41,485.1 368.43,485.09 368.45,485.07 368.47,485.05 368.5,485.03 368.52,485.01 368.55,484.99 368.58,484.97 368.61,484.95 368.64,484.93 368.67,484.9 368.7,484.88 368.74,484.85 368.78,484.83 368.82,484.8 368.86,484.77 368.91,484.74 368.95,484.71 369,484.68 369.05,484.65 369.1,484.62 369.15,484.59 369.21,484.55 369.27,484.52 369.33,484.48 369.39,484.45 369.45,484.41 369.52,484.38 369.59,484.34 369.66,484.3 369.73,484.26 369.8,484.22 369.88,484.18 369.96,484.14 370.04,484.1 370.12,484.06 370.21,484.01 370.3,483.97 370.39,483.93 370.49,483.88 370.58,483.84 370.68,483.79 370.78,483.75 370.89,483.7 370.99,483.65 371.1,483.61 371.21,483.56 371.33,483.51 371.45,483.46 371.57,483.41 371.69,483.36 371.82,483.31 371.95,483.26 372.08,483.21 372.22,483.16 372.35,483.11 372.5,483.06 372.64,483 372.79,482.95 372.94,482.9 373.09,482.84 373.25,482.79 373.41,482.73 373.58,482.68 373.74,482.63 373.92,482.57 374.09,482.51 374.27,482.46 374.45,482.4 374.64,482.35 374.82,482.29 375.02,482.23 375.21,482.17 375.41,482.12 375.62,482.06 375.83,482 376.04,481.94 376.26,481.88 376.48,481.82 376.7,481.77 376.93,481.71 377.16,481.65 377.4,481.59 377.64,481.53 377.89,481.47 378.14,481.41 378.39,481.35 378.65,481.28 378.91,481.22 379.18,481.16 379.45,481.1 379.73,481.04 380.01,480.98 380.3,480.92 380.59,480.86 380.89,480.79 381.19,480.73 381.5,480.67 381.81,480.61 382.13,480.54 382.45,480.48 382.78,480.42 383.11,480.36 383.45,480.29 383.8,480.23 384.15,480.17 384.5,480.1 384.86,480.04 385.23,479.98 385.6,479.91 385.98,479.85 386.37,479.79 386.76,479.72 387.16,479.66 387.56,479.59 387.97,479.53 388.38,479.47 388.81,479.4 389.23,479.34 389.67,479.27 390.11,479.21 390.56,479.15 391.02,479.08 391.48,479.02 391.95,478.95 392.42,478.89 392.91,478.83 393.4,478.76 393.89,478.7 394.4,478.63 394.91,478.57 395.43,478.5 395.96,478.44 396.5,478.38 397.04,478.31 397.59,478.25 398.15,478.18 398.71,478.12 399.29,478.05 399.87,477.99 400.46,477.93 401.06,477.86 401.67,477.8 402.29,477.73 402.92,477.67 403.55,477.61 404.19,477.54 404.85,477.48 405.51,477.41 406.18,477.35 406.86,477.29 407.55,477.22 408.25,477.16 408.96,477.1 409.67,477.03 410.4,476.97 411.14,476.91 411.89,476.84 412.65,476.78 413.42,476.72 414.19,476.65 414.98,476.59 415.78,476.53 416.59,476.46 417.42,476.4 418.25,476.34 419.09,476.28 419.95,476.21 420.81,476.15 421.69,476.09 422.58,476.03 423.48,475.96 424.4,475.9 425.32,475.84 426.26,475.78 427.21,475.72 428.17,475.66 429.14,475.59 430.13,475.53 431.13,475.47 432.14,475.41 433.17,475.35 434.21,475.29 435.26,475.23 436.33,475.17 437.41,475.1 438.5,475.04 439.61,474.98 440.73,474.92 441.86,474.86 443.01,474.8 444.18,474.74 445.36,474.68 446.55,474.62 447.76,474.56 448.99,474.5 450.23,474.44 451.48,474.38 452.75,474.33 454.04,474.27 455.34,474.21 456.66,474.15 458,474.09 459.35,474.03 460.72,473.97 462.11,473.91 463.51,473.86 464.93,473.8 466.37,473.74 467.83,473.68 469.3,473.63 470.79,473.57 472.3,473.51 473.83,473.45 475.38,473.4 476.94,473.34 478.53,473.28 480.13,473.23 481.76,473.17 483.4,473.11 485.07,473.06 486.75,473 488.45,472.94 490.18,472.89 491.92,472.83 493.69,472.78 495.48,472.72 497.29,472.67 499.12,472.61 500.97,472.56 502.85,472.5 504.74,472.45 506.66,472.39 508.61,472.34 510.57,472.28 512.56,472.23 514.58,472.18 516.61,472.12 518.67,472.07 520.76,472.02 522.87,471.96 525,471.91 527.16,471.86 529.35,471.8 531.56,471.75 533.79,471.7 536.06,471.65 538.35,471.59 540.66,471.54 543.01,471.49 545.38,471.44 547.77,471.39 550.2,471.33 552.66,471.28 555.14,471.23 557.65,471.18 560.19,471.13 562.76,471.08 565.36,471.03 567.99,470.98 570.65,470.93 573.34,470.88 576.06,470.83 578.82,470.78 581.6,470.73 584.42,470.68 587.27,470.63 590.15,470.58 593.07,470.53 596.01,470.48 599,470.43 602.01,470.39 605.06,470.34 608.15,470.29 611.27,470.24 614.42,470.19 617.62,470.15 620.84,470.1 624.11,470.05 627.41,470 630.75,469.96 634.13,469.91 637.54,469.86 641,469.82 644.49,469.77 648.02,469.72 651.59,469.68 655.2,469.63" fill="none" stroke="#1c1c1c" stroke-width="1.15" stroke-linejoin="round" stroke-dasharray="3,2" stroke-linejoin="round"/>
<rect x="374.1" y="457.8" width="4.8" height="4.8" fill="#2c74b8"/>
<rect x="374.1" y="460.6" width="4.8" height="4.8" fill="#2c74b8"/>
<rect x="376.8" y="457.8" width="4.8" height="4.8" fill="#efcb35"/>
<rect x="376.8" y="460.6" width="4.8" height="4.8" fill="#efcb35"/>
<rect x="377.6" y="462.1" width="4.8" height="4.8" fill="#e0321e"/>
<rect x="380.1" y="461.9" width="4.8" height="4.8" fill="#e0321e"/>
<rect x="374.8" y="465.6" width="4.8" height="4.8" fill="#e99a26"/>
<rect x="374.8" y="468.1" width="4.8" height="4.8" fill="#e99a26"/>
<rect x="378.1" y="464.6" width="4.8" height="4.8" fill="#6cb2e4"/>
<rect x="381.1" y="464.8" width="4.8" height="4.8" fill="#6cb2e4"/>
<rect x="381.1" y="466.6" width="4.8" height="4.8" fill="#8a35c4"/>
<rect x="381.4" y="468.6" width="4.8" height="4.8" fill="#8a35c4"/>
<rect x="376.8" y="468.6" width="4.8" height="4.8" fill="#efcb35"/>
<rect x="386.1" y="470.1" width="4.8" height="4.8" fill="#2f9e6c"/>
<rect x="389.1" y="470.6" width="4.8" height="4.8" fill="#2f9e6c"/>
<rect x="389.6" y="472.1" width="4.8" height="4.8" fill="#2f9e6c"/>
<rect x="377.6" y="472.1" width="4.8" height="4.8" fill="#2c74b8"/>
<rect x="379.1" y="471.1" width="4.8" height="4.8" fill="#8a35c4"/>
<rect x="382.1" y="472.8" width="4.8" height="4.8" fill="#6cb2e4"/>
<rect x="386.6" y="472.1" width="4.8" height="4.8" fill="#2f9e6c"/>
<rect x="385.1" y="473.6" width="4.8" height="4.8" fill="#e99a26"/>
<rect x="375.9" y="474.8" width="4.8" height="4.8" fill="#e99a26"/>
<rect x="380.9" y="474.8" width="4.8" height="4.8" fill="#e0321e"/>
<rect x="373.8" y="475.1" width="4.8" height="4.8" fill="#8a35c4"/>
<rect x="378.1" y="473.9" width="4.8" height="4.8" fill="#efcb35"/>
<path d="M386.7 226.2h6.2M389.8 223.1v6.2" stroke="#151515" stroke-width="1.25"/>
<path d="M392.9 223.4h6.2M396 220.3v6.2" stroke="#151515" stroke-width="1.25"/>
<path d="M394 224.5h6.2M397.1 221.4v6.2" stroke="#151515" stroke-width="1.25"/>
<path d="M388.4 229h6.2M391.5 225.9v6.2" stroke="#151515" stroke-width="1.25"/>
<path d="M388.9 232.3h6.2M392 229.2v6.2" stroke="#151515" stroke-width="1.25"/>
<path d="M386.7 231.7h6.2M389.8 228.6v6.2" stroke="#151515" stroke-width="1.25"/>
<path d="M394 237.9h6.2M397.1 234.8v6.2" stroke="#151515" stroke-width="1.25"/>
<path d="M392.3 241.8h6.2M395.4 238.7v6.2" stroke="#151515" stroke-width="1.25"/>
<path d="M385 244h6.2M388.1 240.9v6.2" stroke="#151515" stroke-width="1.25"/>
<path d="M384.5 246.8h6.2M387.6 243.7v6.2" stroke="#151515" stroke-width="1.25"/>
<path d="M394 249.6h6.2M397.1 246.5v6.2" stroke="#151515" stroke-width="1.25"/>
<path d="M382.2 251.9h6.2M385.3 248.8v6.2" stroke="#151515" stroke-width="1.25"/>
<path d="M386.7 252.4h6.2M389.8 249.3v6.2" stroke="#151515" stroke-width="1.25"/>
<path d="M394 255.8h6.2M397.1 252.7v6.2" stroke="#151515" stroke-width="1.25"/>
<path d="M385.6 258.6h6.2M388.7 255.5v6.2" stroke="#151515" stroke-width="1.25"/>
<path d="M387.8 260.3h6.2M390.9 257.2v6.2" stroke="#151515" stroke-width="1.25"/>
<path d="M391.7 263.1h6.2M394.8 260v6.2" stroke="#151515" stroke-width="1.25"/>
<path d="M391.7 267h6.2M394.8 263.9v6.2" stroke="#151515" stroke-width="1.25"/>
<path d="M394 270.9h6.2M397.1 267.8v6.2" stroke="#151515" stroke-width="1.25"/>
<path d="M387.8 273.7h6.2M390.9 270.6v6.2" stroke="#151515" stroke-width="1.25"/>
<path d="M394.5 278.2h6.2M397.6 275.1v6.2" stroke="#151515" stroke-width="1.25"/>
<path d="M392.9 280.1h6.2M396 277v6.2" stroke="#151515" stroke-width="1.25"/>
<path d="M395.1 281.2h6.2M398.2 278.1v6.2" stroke="#151515" stroke-width="1.25"/>
<path d="M385.6 282.9h6.2M388.7 279.8v6.2" stroke="#151515" stroke-width="1.25"/>
<path d="M386.2 288.5h6.2M389.3 285.4v6.2" stroke="#151515" stroke-width="1.25"/>
<path d="M384.5 289h6.2M387.6 285.9v6.2" stroke="#151515" stroke-width="1.25"/>
<path d="M394.5 286.8h6.2M397.6 283.7v6.2" stroke="#151515" stroke-width="1.25"/>
<path d="M391.7 294.6h6.2M394.8 291.5v6.2" stroke="#151515" stroke-width="1.25"/>
<path d="M391.2 296.8h6.2M394.3 293.7v6.2" stroke="#151515" stroke-width="1.25"/>
<path d="M387.3 302.4h6.2M390.4 299.3v6.2" stroke="#151515" stroke-width="1.25"/>
<path d="M384.5 303.6h6.2M387.6 300.5v6.2" stroke="#151515" stroke-width="1.25"/>
<path d="M391.7 305.2h6.2M394.8 302.1v6.2" stroke="#151515" stroke-width="1.25"/>
<path d="M392.9 306.9h6.2M396 303.8v6.2" stroke="#151515" stroke-width="1.25"/>
<path d="M388.9 312h6.2M392 308.9v6.2" stroke="#151515" stroke-width="1.25"/>
<path d="M391.7 312.5h6.2M394.8 309.4v6.2" stroke="#151515" stroke-width="1.25"/>
<path d="M380.6 315.9h6.2M383.7 312.8v6.2" stroke="#151515" stroke-width="1.25"/>
<path d="M394 315.9h6.2M397.1 312.8v6.2" stroke="#151515" stroke-width="1.25"/>
<path d="M382.8 323.7h6.2M385.9 320.6v6.2" stroke="#151515" stroke-width="1.25"/>
<path d="M387.3 324.8h6.2M390.4 321.7v6.2" stroke="#151515" stroke-width="1.25"/>
<path d="M394.5 322.6h6.2M397.6 319.5v6.2" stroke="#151515" stroke-width="1.25"/>
<path d="M396.2 322h6.2M399.3 318.9v6.2" stroke="#151515" stroke-width="1.25"/>
<path d="M394.5 327h6.2M397.6 323.9v6.2" stroke="#151515" stroke-width="1.25"/>
<path d="M383.9 328.4h6.2M387 325.3v6.2" stroke="#151515" stroke-width="1.25"/>
<path d="M385 334h6.2M388.1 330.9v6.2" stroke="#151515" stroke-width="1.25"/>
<path d="M392.9 332.8h6.2M396 329.7v6.2" stroke="#151515" stroke-width="1.25"/>
<path d="M394.5 335.1h6.2M397.6 332v6.2" stroke="#151515" stroke-width="1.25"/>
<path d="M381.7 340.7h6.2M384.8 337.6v6.2" stroke="#151515" stroke-width="1.25"/>
<path d="M384.5 342.3h6.2M387.6 339.2v6.2" stroke="#151515" stroke-width="1.25"/>
<path d="M393.4 347.4h6.2M396.5 344.3v6.2" stroke="#151515" stroke-width="1.25"/>
<path d="M383.4 347.9h6.2M386.5 344.8v6.2" stroke="#151515" stroke-width="1.25"/>
<path d="M386.7 349h6.2M389.8 345.9v6.2" stroke="#151515" stroke-width="1.25"/>
<path d="M381.1 354.1h6.2M384.2 351v6.2" stroke="#151515" stroke-width="1.25"/>
<path d="M387.3 355.8h6.2M390.4 352.7v6.2" stroke="#151515" stroke-width="1.25"/>
<path d="M390.1 355.8h6.2M393.2 352.7v6.2" stroke="#151515" stroke-width="1.25"/>
<path d="M395.1 354.6h6.2M398.2 351.5v6.2" stroke="#151515" stroke-width="1.25"/>
<path d="M397.3 357.4h6.2M400.4 354.3v6.2" stroke="#151515" stroke-width="1.25"/>
<path d="M385.6 360.8h6.2M388.7 357.7v6.2" stroke="#151515" stroke-width="1.25"/>
<path d="M388.9 362.5h6.2M392 359.4v6.2" stroke="#151515" stroke-width="1.25"/>
<path d="M392.9 364.7h6.2M396 361.6v6.2" stroke="#151515" stroke-width="1.25"/>
<path d="M396.2 364.2h6.2M399.3 361.1v6.2" stroke="#151515" stroke-width="1.25"/>
<path d="M382.2 368.1h6.2M385.3 365v6.2" stroke="#151515" stroke-width="1.25"/>
<path d="M397.9 369.7h6.2M401 366.6v6.2" stroke="#151515" stroke-width="1.25"/>
<path d="M382.8 373.1h6.2M385.9 370v6.2" stroke="#151515" stroke-width="1.25"/>
<path d="M390.1 374.2h6.2M393.2 371.1v6.2" stroke="#151515" stroke-width="1.25"/>
<path d="M385 377h6.2M388.1 373.9v6.2" stroke="#151515" stroke-width="1.25"/>
<path d="M381.7 379.8h6.2M384.8 376.7v6.2" stroke="#151515" stroke-width="1.25"/>
<path d="M387.3 380.9h6.2M390.4 377.8v6.2" stroke="#151515" stroke-width="1.25"/>
<path d="M394 382h6.2M397.1 378.9v6.2" stroke="#151515" stroke-width="1.25"/>
<path d="M398.5 380.9h6.2M401.6 377.8v6.2" stroke="#151515" stroke-width="1.25"/>
<path d="M383.9 383h6.2M387 379.9v6.2" stroke="#151515" stroke-width="1.25"/>
<path d="M401.2 397.6h6.2M404.3 394.5v6.2" stroke="#151515" stroke-width="1.25"/>
<path d="M403.7 412.7h6.2M406.8 409.6v6.2" stroke="#151515" stroke-width="1.25"/>
<path d="M399.5 409.4h6.2M402.6 406.3v6.2" stroke="#151515" stroke-width="1.25"/>
<path d="M407.9 425.3h6.2M411 422.2v6.2" stroke="#151515" stroke-width="1.25"/>
<path d="M406.2 427.9h6.2M409.3 424.8v6.2" stroke="#151515" stroke-width="1.25"/>
<path d="M401.2 433.7h6.2M404.3 430.6v6.2" stroke="#151515" stroke-width="1.25"/>
<path d="M403.7 437.1h6.2M406.8 434v6.2" stroke="#151515" stroke-width="1.25"/>
<path d="M417.1 437.9h6.2M420.2 434.8v6.2" stroke="#151515" stroke-width="1.25"/>
<path d="M419.6 443h6.2M422.7 439.9v6.2" stroke="#151515" stroke-width="1.25"/>
<path d="M413.8 448.8h6.2M416.9 445.7v6.2" stroke="#151515" stroke-width="1.25"/>
<path d="M407.9 453.9h6.2M411 450.8v6.2" stroke="#151515" stroke-width="1.25"/>
<path d="M413.8 453.9h6.2M416.9 450.8v6.2" stroke="#151515" stroke-width="1.25"/>
<path d="M410.4 456.4h6.2M413.5 453.3v6.2" stroke="#151515" stroke-width="1.25"/>
<path d="M427.2 453.9h6.2M430.3 450.8v6.2" stroke="#151515" stroke-width="1.25"/>
<path d="M433.2 448.3h6.2M436.3 445.2v6.2" stroke="#151515" stroke-width="1.25"/>
<path d="M441.7 451.1h6.2M444.8 448v6.2" stroke="#151515" stroke-width="1.25"/>
<path d="M440.3 453.9h6.2M443.4 450.8v6.2" stroke="#151515" stroke-width="1.25"/>
<path d="M444.9 456.7h6.2M448 453.6v6.2" stroke="#151515" stroke-width="1.25"/>
<path d="M452.3 452.5h6.2M455.4 449.4v6.2" stroke="#151515" stroke-width="1.25"/>
<path d="M457.9 453.9h6.2M461 450.8v6.2" stroke="#151515" stroke-width="1.25"/>
<path d="M454.4 460.3h6.2M457.5 457.2v6.2" stroke="#151515" stroke-width="1.25"/>
<path d="M427.6 454.6h6.2M430.7 451.5v6.2" stroke="#151515" stroke-width="1.25"/>
<path d="M427.6 462.4h6.2M430.7 459.3v6.2" stroke="#151515" stroke-width="1.25"/>
<path d="M487.5 456.7h6.2M490.6 453.6v6.2" stroke="#151515" stroke-width="1.25"/>
<path d="M491.8 456.7h6.2M494.9 453.6v6.2" stroke="#151515" stroke-width="1.25"/>
<path d="M420.5 462.3h6.2M423.6 459.2v6.2" stroke="#151515" stroke-width="1.25"/>
<path d="M413.8 462.3h6.2M416.9 459.2v6.2" stroke="#151515" stroke-width="1.25"/>
<path d="M412.1 468.1h6.2M415.2 465v6.2" stroke="#151515" stroke-width="1.25"/>
<path d="M415.9 460.2h6.2M419 457.1v6.2" stroke="#151515" stroke-width="1.25"/>
<path d="M420.9 462.5h6.2M424 459.4v6.2" stroke="#151515" stroke-width="1.25"/>
<path d="M411.9 462.5h6.2M415 459.4v6.2" stroke="#151515" stroke-width="1.25"/>
<path d="M395.1 472.6h6.2M398.2 469.5v6.2" stroke="#151515" stroke-width="1.25"/>
<path d="M399.6 473.1h6.2M402.7 470v6.2" stroke="#151515" stroke-width="1.25"/>
<path d="M393.5 474.2h6.2M396.6 471.1v6.2" stroke="#151515" stroke-width="1.25"/>
<path d="M387.89 336.79h6.2M390.99 333.69v6.2" stroke="#151515" stroke-width="1.25"/>
<path d="M386.07 343.86h6.2M389.17 340.76v6.2" stroke="#151515" stroke-width="1.25"/>
<path d="M388.45 337.62h6.2M391.55 334.52v6.2" stroke="#151515" stroke-width="1.25"/>
<path d="M386.95 332.77h6.2M390.05 329.67v6.2" stroke="#151515" stroke-width="1.25"/>
<path d="M392.91 339.45h6.2M396.01 336.35v6.2" stroke="#151515" stroke-width="1.25"/>
<path d="M383.29 331.41h6.2M386.39 328.31v6.2" stroke="#151515" stroke-width="1.25"/>
<path d="M393.78 346.36h6.2M396.88 343.26v6.2" stroke="#151515" stroke-width="1.25"/>
<path d="M379.14 355.4h6.2M382.24 352.3v6.2" stroke="#151515" stroke-width="1.25"/>
<path d="M397.92 359.73h6.2M401.02 356.63v6.2" stroke="#151515" stroke-width="1.25"/>
<path d="M389.04 354.81h6.2M392.14 351.71v6.2" stroke="#151515" stroke-width="1.25"/>
<path d="M378.96 347.36h6.2M382.06 344.26v6.2" stroke="#151515" stroke-width="1.25"/>
<path d="M379.29 352.93h6.2M382.39 349.83v6.2" stroke="#151515" stroke-width="1.25"/>
<path d="M381.64 347.85h6.2M384.74 344.75v6.2" stroke="#151515" stroke-width="1.25"/>
<path d="M385.74 360.45h6.2M388.84 357.35v6.2" stroke="#151515" stroke-width="1.25"/>
<path d="M395.31 366.61h6.2M398.41 363.51v6.2" stroke="#151515" stroke-width="1.25"/>
<path d="M389.92 367.79h6.2M393.02 364.69v6.2" stroke="#151515" stroke-width="1.25"/>
<path d="M390.48 367.5h6.2M393.58 364.4v6.2" stroke="#151515" stroke-width="1.25"/>
<path d="M381.98 366.86h6.2M385.08 363.76v6.2" stroke="#151515" stroke-width="1.25"/>
<path d="M399.77 374.96h6.2M402.87 371.86v6.2" stroke="#151515" stroke-width="1.25"/>
<path d="M391.65 372.6h6.2M394.75 369.5v6.2" stroke="#151515" stroke-width="1.25"/>
<path d="M381.14 364.73h6.2M384.24 361.63v6.2" stroke="#151515" stroke-width="1.25"/>
<path d="M378.43 379.34h6.2M381.53 376.24v6.2" stroke="#151515" stroke-width="1.25"/>
<path d="M384.01 386.49h6.2M387.11 383.39v6.2" stroke="#151515" stroke-width="1.25"/>
<path d="M383.71 387.7h6.2M386.81 384.6v6.2" stroke="#151515" stroke-width="1.25"/>
<path d="M395.35 389.37h6.2M398.45 386.27v6.2" stroke="#151515" stroke-width="1.25"/>
<path d="M380.37 375.01h6.2M383.47 371.91v6.2" stroke="#151515" stroke-width="1.25"/>
<path d="M385.54 388.65h6.2M388.64 385.55v6.2" stroke="#151515" stroke-width="1.25"/>
<path d="M383.94 389.71h6.2M387.04 386.61v6.2" stroke="#151515" stroke-width="1.25"/>
<path d="M389.41 376.1h6.2M392.51 373v6.2" stroke="#151515" stroke-width="1.25"/>
<path d="M381.41 386.68h6.2M384.51 383.58v6.2" stroke="#151515" stroke-width="1.25"/>
<path d="M382.61 376.31h6.2M385.71 373.21v6.2" stroke="#151515" stroke-width="1.25"/>
<path d="M392.83 389.46h6.2M395.93 386.36v6.2" stroke="#151515" stroke-width="1.25"/>
<path d="M381 376.77h6.2M384.1 373.67v6.2" stroke="#151515" stroke-width="1.25"/>
<path d="M378.33 376.52h6.2M381.43 373.42v6.2" stroke="#151515" stroke-width="1.25"/>
<path d="M379.86 386.96h6.2M382.96 383.86v6.2" stroke="#151515" stroke-width="1.25"/>
<path d="M385.04 383.39h6.2M388.14 380.29v6.2" stroke="#151515" stroke-width="1.25"/>
<path d="M392.11 377.86h6.2M395.21 374.76v6.2" stroke="#151515" stroke-width="1.25"/>
<path d="M389.77 376.96h6.2M392.87 373.86v6.2" stroke="#151515" stroke-width="1.25"/>
<path d="M384.45 376.75h6.2M387.55 373.65v6.2" stroke="#151515" stroke-width="1.25"/>
<path d="M381.15 393.19h6.2M384.25 390.09v6.2" stroke="#151515" stroke-width="1.25"/>
<path d="M394.7 404.56h6.2M397.8 401.46v6.2" stroke="#151515" stroke-width="1.25"/>
<path d="M397.2 394.56h6.2M400.3 391.46v6.2" stroke="#151515" stroke-width="1.25"/>
<path d="M383.79 393.16h6.2M386.89 390.06v6.2" stroke="#151515" stroke-width="1.25"/>
<path d="M390.03 402.82h6.2M393.13 399.72v6.2" stroke="#151515" stroke-width="1.25"/>
<path d="M400.55 391.5h6.2M403.65 388.4v6.2" stroke="#151515" stroke-width="1.25"/>
<path d="M380.93 393.2h6.2M384.03 390.1v6.2" stroke="#151515" stroke-width="1.25"/>
<path d="M382.36 401.59h6.2M385.46 398.49v6.2" stroke="#151515" stroke-width="1.25"/>
<path d="M378.01 394.44h6.2M381.11 391.34v6.2" stroke="#151515" stroke-width="1.25"/>
<path d="M388.43 391.35h6.2M391.53 388.25v6.2" stroke="#151515" stroke-width="1.25"/>
<path d="M388.93 393.65h6.2M392.03 390.55v6.2" stroke="#151515" stroke-width="1.25"/>
<path d="M385.16 395.58h6.2M388.26 392.48v6.2" stroke="#151515" stroke-width="1.25"/>
<path d="M385.9 404.39h6.2M389 401.29v6.2" stroke="#151515" stroke-width="1.25"/>
<path d="M396.63 398.62h6.2M399.73 395.52v6.2" stroke="#151515" stroke-width="1.25"/>
<path d="M379.11 392.74h6.2M382.21 389.64v6.2" stroke="#151515" stroke-width="1.25"/>
<path d="M395.13 403.63h6.2M398.23 400.53v6.2" stroke="#151515" stroke-width="1.25"/>
<path d="M379.69 393.74h6.2M382.79 390.64v6.2" stroke="#151515" stroke-width="1.25"/>
<path d="M398.96 401.09h6.2M402.06 397.99v6.2" stroke="#151515" stroke-width="1.25"/>
<path d="M399.28 392.95h6.2M402.38 389.85v6.2" stroke="#151515" stroke-width="1.25"/>
<path d="M388.99 403.23h6.2M392.09 400.13v6.2" stroke="#151515" stroke-width="1.25"/>
<path d="M378.39 396.32h6.2M381.49 393.22v6.2" stroke="#151515" stroke-width="1.25"/>
<path d="M399.68 390.58h6.2M402.78 387.48v6.2" stroke="#151515" stroke-width="1.25"/>
<path d="M392.41 408.58h6.2M395.51 405.48v6.2" stroke="#151515" stroke-width="1.25"/>
<path d="M396.07 408.85h6.2M399.17 405.75v6.2" stroke="#151515" stroke-width="1.25"/>
<path d="M381.8 413.95h6.2M384.9 410.85v6.2" stroke="#151515" stroke-width="1.25"/>
<path d="M392.88 407.63h6.2M395.98 404.53v6.2" stroke="#151515" stroke-width="1.25"/>
<path d="M380.5 406.03h6.2M383.6 402.93v6.2" stroke="#151515" stroke-width="1.25"/>
<path d="M396.99 413.39h6.2M400.09 410.29v6.2" stroke="#151515" stroke-width="1.25"/>
<path d="M381.53 414.21h6.2M384.63 411.11v6.2" stroke="#151515" stroke-width="1.25"/>
<path d="M380.05 418.76h6.2M383.15 415.66v6.2" stroke="#151515" stroke-width="1.25"/>
<path d="M381.3 405.25h6.2M384.4 402.15v6.2" stroke="#151515" stroke-width="1.25"/>
<path d="M377.88 411.69h6.2M380.98 408.59v6.2" stroke="#151515" stroke-width="1.25"/>
<path d="M383.46 407.64h6.2M386.56 404.54v6.2" stroke="#151515" stroke-width="1.25"/>
<path d="M378.83 413.58h6.2M381.93 410.48v6.2" stroke="#151515" stroke-width="1.25"/>
<path d="M398.24 410.43h6.2M401.34 407.33v6.2" stroke="#151515" stroke-width="1.25"/>
<path d="M391 419.71h6.2M394.1 416.61v6.2" stroke="#151515" stroke-width="1.25"/>
<path d="M388.95 415.37h6.2M392.05 412.27v6.2" stroke="#151515" stroke-width="1.25"/>
<path d="M377.63 407.11h6.2M380.73 404.01v6.2" stroke="#151515" stroke-width="1.25"/>
<path d="M398.88 405.27h6.2M401.98 402.17v6.2" stroke="#151515" stroke-width="1.25"/>
<path d="M400.63 415.51h6.2M403.73 412.41v6.2" stroke="#151515" stroke-width="1.25"/>
<path d="M390.41 405.32h6.2M393.51 402.22v6.2" stroke="#151515" stroke-width="1.25"/>
<path d="M393.18 412.23h6.2M396.28 409.13v6.2" stroke="#151515" stroke-width="1.25"/>
<path d="M401.88 409.78h6.2M404.98 406.68v6.2" stroke="#151515" stroke-width="1.25"/>
<path d="M387.9 406.13h6.2M391 403.03v6.2" stroke="#151515" stroke-width="1.25"/>
<path d="M401.07 431.06h6.2M404.17 427.96v6.2" stroke="#151515" stroke-width="1.25"/>
<path d="M394.02 431.06h6.2M397.12 427.96v6.2" stroke="#151515" stroke-width="1.25"/>
<path d="M401.63 431.9h6.2M404.73 428.8v6.2" stroke="#151515" stroke-width="1.25"/>
<path d="M393.39 425.28h6.2M396.49 422.18v6.2" stroke="#151515" stroke-width="1.25"/>
<path d="M399.98 433.51h6.2M403.08 430.41v6.2" stroke="#151515" stroke-width="1.25"/>
<path d="M397.05 426.26h6.2M400.15 423.16v6.2" stroke="#151515" stroke-width="1.25"/>
<path d="M389.73 432.95h6.2M392.83 429.85v6.2" stroke="#151515" stroke-width="1.25"/>
<path d="M384.19 429.37h6.2M387.29 426.27v6.2" stroke="#151515" stroke-width="1.25"/>
<path d="M390.88 428.74h6.2M393.98 425.64v6.2" stroke="#151515" stroke-width="1.25"/>
<path d="M391.87 421.2h6.2M394.97 418.1v6.2" stroke="#151515" stroke-width="1.25"/>
<path d="M400.3 434.9h6.2M403.4 431.8v6.2" stroke="#151515" stroke-width="1.25"/>
<path d="M384.35 430.92h6.2M387.45 427.82v6.2" stroke="#151515" stroke-width="1.25"/>
<path d="M389.99 431.03h6.2M393.09 427.93v6.2" stroke="#151515" stroke-width="1.25"/>
<path d="M398.78 426.61h6.2M401.88 423.51v6.2" stroke="#151515" stroke-width="1.25"/>
<path d="M395.62 421.26h6.2M398.72 418.16v6.2" stroke="#151515" stroke-width="1.25"/>
<path d="M390.64 420.45h6.2M393.74 417.35v6.2" stroke="#151515" stroke-width="1.25"/>
<path d="M380.48 427.21h6.2M383.58 424.11v6.2" stroke="#151515" stroke-width="1.25"/>
<path d="M387.43 430.48h6.2M390.53 427.38v6.2" stroke="#151515" stroke-width="1.25"/>
<path d="M401.83 429.22h6.2M404.93 426.12v6.2" stroke="#151515" stroke-width="1.25"/>
<path d="M376.95 423.84h6.2M380.05 420.74v6.2" stroke="#151515" stroke-width="1.25"/>
<path d="M393.16 424.52h6.2M396.26 421.42v6.2" stroke="#151515" stroke-width="1.25"/>
<path d="M379.24 423.04h6.2M382.34 419.94v6.2" stroke="#151515" stroke-width="1.25"/>
<path d="M392.55 433.59h6.2M395.65 430.49v6.2" stroke="#151515" stroke-width="1.25"/>
<path d="M400.75 426.63h6.2M403.85 423.53v6.2" stroke="#151515" stroke-width="1.25"/>
<path d="M392.75 424.9h6.2M395.85 421.8v6.2" stroke="#151515" stroke-width="1.25"/>
<path d="M385.52 422.98h6.2M388.62 419.88v6.2" stroke="#151515" stroke-width="1.25"/>
<path d="M401.6 447.09h6.2M404.7 443.99v6.2" stroke="#151515" stroke-width="1.25"/>
<path d="M384.24 448.2h6.2M387.34 445.1v6.2" stroke="#151515" stroke-width="1.25"/>
<path d="M382.49 443.75h6.2M385.59 440.65v6.2" stroke="#151515" stroke-width="1.25"/>
<path d="M387.41 437.04h6.2M390.51 433.94v6.2" stroke="#151515" stroke-width="1.25"/>
<path d="M399.16 447.56h6.2M402.26 444.46v6.2" stroke="#151515" stroke-width="1.25"/>
<path d="M402.96 445.67h6.2M406.06 442.57v6.2" stroke="#151515" stroke-width="1.25"/>
<path d="M379.23 439.15h6.2M382.33 436.05v6.2" stroke="#151515" stroke-width="1.25"/>
<path d="M381.5 441.76h6.2M384.6 438.66v6.2" stroke="#151515" stroke-width="1.25"/>
<path d="M385.05 438.21h6.2M388.15 435.11v6.2" stroke="#151515" stroke-width="1.25"/>
<path d="M387.33 444.39h6.2M390.43 441.29v6.2" stroke="#151515" stroke-width="1.25"/>
<path d="M398.8 439.73h6.2M401.9 436.63v6.2" stroke="#151515" stroke-width="1.25"/>
<path d="M386.13 449.73h6.2M389.23 446.63v6.2" stroke="#151515" stroke-width="1.25"/>
<path d="M377.12 436.12h6.2M380.22 433.02v6.2" stroke="#151515" stroke-width="1.25"/>
<path d="M377.23 448.09h6.2M380.33 444.99v6.2" stroke="#151515" stroke-width="1.25"/>
<path d="M389.66 445.63h6.2M392.76 442.53v6.2" stroke="#151515" stroke-width="1.25"/>
<path d="M397.08 439.64h6.2M400.18 436.54v6.2" stroke="#151515" stroke-width="1.25"/>
<path d="M378.61 435.29h6.2M381.71 432.19v6.2" stroke="#151515" stroke-width="1.25"/>
<path d="M377.06 441.82h6.2M380.16 438.72v6.2" stroke="#151515" stroke-width="1.25"/>
<path d="M380.64 447.45h6.2M383.74 444.35v6.2" stroke="#151515" stroke-width="1.25"/>
<path d="M377.29 437.11h6.2M380.39 434.01v6.2" stroke="#151515" stroke-width="1.25"/>
<path d="M385.95 444.44h6.2M389.05 441.34v6.2" stroke="#151515" stroke-width="1.25"/>
<path d="M392.39 444.45h6.2M395.49 441.35v6.2" stroke="#151515" stroke-width="1.25"/>
<path d="M403.29 447.11h6.2M406.39 444.01v6.2" stroke="#151515" stroke-width="1.25"/>
<path d="M379.83 445.27h6.2M382.93 442.17v6.2" stroke="#151515" stroke-width="1.25"/>
<path d="M379.41 442.13h6.2M382.51 439.03v6.2" stroke="#151515" stroke-width="1.25"/>
<path d="M386.69 435.16h6.2M389.79 432.06v6.2" stroke="#151515" stroke-width="1.25"/>
<path d="M379.15 457.14h6.2M382.25 454.04v6.2" stroke="#151515" stroke-width="1.25"/>
<path d="M382.55 452.72h6.2M385.65 449.62v6.2" stroke="#151515" stroke-width="1.25"/>
<path d="M386.92 456.97h6.2M390.02 453.87v6.2" stroke="#151515" stroke-width="1.25"/>
<path d="M393.81 456.14h6.2M396.91 453.04v6.2" stroke="#151515" stroke-width="1.25"/>
<path d="M394.93 453.94h6.2M398.03 450.84v6.2" stroke="#151515" stroke-width="1.25"/>
<path d="M377.72 459.06h6.2M380.82 455.96v6.2" stroke="#151515" stroke-width="1.25"/>
<path d="M392.76 459.33h6.2M395.86 456.23v6.2" stroke="#151515" stroke-width="1.25"/>
<path d="M385.16 451.3h6.2M388.26 448.2v6.2" stroke="#151515" stroke-width="1.25"/>
<path d="M398.81 456.26h6.2M401.91 453.16v6.2" stroke="#151515" stroke-width="1.25"/>
<path d="M388.25 453.77h6.2M391.35 450.67v6.2" stroke="#151515" stroke-width="1.25"/>
<path d="M395.09 458.79h6.2M398.19 455.69v6.2" stroke="#151515" stroke-width="1.25"/>
<path d="M385.42 459.44h6.2M388.52 456.34v6.2" stroke="#151515" stroke-width="1.25"/>
<path d="M379.62 456.51h6.2M382.72 453.41v6.2" stroke="#151515" stroke-width="1.25"/>
<path d="M395.78 457.22h6.2M398.88 454.12v6.2" stroke="#151515" stroke-width="1.25"/>
<path d="M392.61 456.42h6.2M395.71 453.32v6.2" stroke="#151515" stroke-width="1.25"/>
<path d="M398.47 452.13h6.2M401.57 449.03v6.2" stroke="#151515" stroke-width="1.25"/>
<path d="M398.36 467.84h6.2M401.46 464.74v6.2" stroke="#151515" stroke-width="1.25"/>
<path d="M394.14 464.3h6.2M397.24 461.2v6.2" stroke="#151515" stroke-width="1.25"/>
<path d="M396.8 462.56h6.2M399.9 459.46v6.2" stroke="#151515" stroke-width="1.25"/>
<path d="M385.79 466.85h6.2M388.89 463.75v6.2" stroke="#151515" stroke-width="1.25"/>
<path d="M387.3 460.66h6.2M390.4 457.56v6.2" stroke="#151515" stroke-width="1.25"/>
<path d="M393.65 464.4h6.2M396.75 461.3v6.2" stroke="#151515" stroke-width="1.25"/>
<path d="M382.02 463.9h6.2M385.12 460.8v6.2" stroke="#151515" stroke-width="1.25"/>
<path d="M379.16 392.14h6.2M382.26 389.04v6.2" stroke="#151515" stroke-width="1.25"/>
<path d="M379.93 392h6.2M383.03 388.9v6.2" stroke="#151515" stroke-width="1.25"/>
<path d="M387.49 385.03h6.2M390.59 381.93v6.2" stroke="#151515" stroke-width="1.25"/>
<path d="M379.73 382.11h6.2M382.83 379.01v6.2" stroke="#151515" stroke-width="1.25"/>
<path d="M386.53 387.75h6.2M389.63 384.65v6.2" stroke="#151515" stroke-width="1.25"/>
<path d="M386.03 392.6h6.2M389.13 389.5v6.2" stroke="#151515" stroke-width="1.25"/>
<path d="M383.35 394.19h6.2M386.45 391.09v6.2" stroke="#151515" stroke-width="1.25"/>
<path d="M379.29 394.24h6.2M382.39 391.14v6.2" stroke="#151515" stroke-width="1.25"/>
<path d="M381.79 408.95h6.2M384.89 405.85v6.2" stroke="#151515" stroke-width="1.25"/>
<path d="M384.61 413.28h6.2M387.71 410.18v6.2" stroke="#151515" stroke-width="1.25"/>
<path d="M381.74 435.25h6.2M384.84 432.15v6.2" stroke="#151515" stroke-width="1.25"/>
<path d="M382.23 448.15h6.2M385.33 445.05v6.2" stroke="#151515" stroke-width="1.25"/>
<path d="M380.01 414.64h6.2M383.11 411.54v6.2" stroke="#151515" stroke-width="1.25"/>
<path d="M387.26 448.25h6.2M390.36 445.15v6.2" stroke="#151515" stroke-width="1.25"/>
<path d="M386.47 408.12h6.2M389.57 405.02v6.2" stroke="#151515" stroke-width="1.25"/>
<path d="M381.76 456.01h6.2M384.86 452.91v6.2" stroke="#151515" stroke-width="1.25"/>
<path d="M378.17 431.1h6.2M381.27 428v6.2" stroke="#151515" stroke-width="1.25"/>
<path d="M381.49 428.76h6.2M384.59 425.66v6.2" stroke="#151515" stroke-width="1.25"/>
<path d="M376.98 433.13h6.2M380.08 430.03v6.2" stroke="#151515" stroke-width="1.25"/>
<path d="M381.65 456.07h6.2M384.75 452.97v6.2" stroke="#151515" stroke-width="1.25"/>
<path d="M385.7 420.24h6.2M388.8 417.14v6.2" stroke="#151515" stroke-width="1.25"/>
<path d="M381.33 430.46h6.2M384.43 427.36v6.2" stroke="#151515" stroke-width="1.25"/>
<path d="M377.17 438.53h6.2M380.27 435.43v6.2" stroke="#151515" stroke-width="1.25"/>
<path d="M380.39 428.94h6.2M383.49 425.84v6.2" stroke="#151515" stroke-width="1.25"/>
<path d="M387.63 455.28h6.2M390.73 452.18v6.2" stroke="#151515" stroke-width="1.25"/>
<path d="M381.11 411.96h6.2M384.21 408.86v6.2" stroke="#151515" stroke-width="1.25"/>
<path d="M380.63 403h6.2M383.73 399.9v6.2" stroke="#151515" stroke-width="1.25"/>
<path d="M387.26 446.39h6.2M390.36 443.29v6.2" stroke="#151515" stroke-width="1.25"/>
<path d="M379.3 425.02h6.2M382.4 421.92v6.2" stroke="#151515" stroke-width="1.25"/>
<path d="M383.02 407.06h6.2M386.12 403.96v6.2" stroke="#151515" stroke-width="1.25"/>
<path d="M377.59 453.29h6.2M380.69 450.19v6.2" stroke="#151515" stroke-width="1.25"/>
<path d="M376.96 444.1h6.2M380.06 441v6.2" stroke="#151515" stroke-width="1.25"/>
<path d="M378.41 407.23h6.2M381.51 404.13v6.2" stroke="#151515" stroke-width="1.25"/>
<path d="M379.36 438.28h6.2M382.46 435.18v6.2" stroke="#151515" stroke-width="1.25"/>
<path d="M383.04 417.39h6.2M386.14 414.29v6.2" stroke="#151515" stroke-width="1.25"/>
<path d="M384.64 401.61h6.2M387.74 398.51v6.2" stroke="#151515" stroke-width="1.25"/>
<path d="M381.58 402.74h6.2M384.68 399.64v6.2" stroke="#151515" stroke-width="1.25"/>
<path d="M378.14 410.78h6.2M381.24 407.68v6.2" stroke="#151515" stroke-width="1.25"/>
<path d="M380.66 428.41h6.2M383.76 425.31v6.2" stroke="#151515" stroke-width="1.25"/>
<path d="M380.38 418.67h6.2M383.48 415.57v6.2" stroke="#151515" stroke-width="1.25"/>
<path d="M377.82 428.35h6.2M380.92 425.25v6.2" stroke="#151515" stroke-width="1.25"/>
<path d="M383.2 407.87h6.2M386.3 404.77v6.2" stroke="#151515" stroke-width="1.25"/>
<path d="M381.83 435.22h6.2M384.93 432.12v6.2" stroke="#151515" stroke-width="1.25"/>
<path d="M382.93 448.63h6.2M386.03 445.53v6.2" stroke="#151515" stroke-width="1.25"/>
<path d="M378.46 448.98h6.2M381.56 445.88v6.2" stroke="#151515" stroke-width="1.25"/>
<path d="M385.84 441.67h6.2M388.94 438.57v6.2" stroke="#151515" stroke-width="1.25"/>
<path d="M379.29 451.87h6.2M382.39 448.77v6.2" stroke="#151515" stroke-width="1.25"/>
<path d="M387.62 414.84h6.2M390.72 411.74v6.2" stroke="#151515" stroke-width="1.25"/>
<path d="M388.87 408.74h6.2M391.97 405.64v6.2" stroke="#151515" stroke-width="1.25"/>
<path d="M377.62 450.92h6.2M380.72 447.82v6.2" stroke="#151515" stroke-width="1.25"/>
<path d="M384.57 410.08h6.2M387.67 406.98v6.2" stroke="#151515" stroke-width="1.25"/>
<path d="M377.36 411.35h6.2M380.46 408.25v6.2" stroke="#151515" stroke-width="1.25"/>
<path d="M380.48 447.43h6.2M383.58 444.33v6.2" stroke="#151515" stroke-width="1.25"/>
<path d="M377.56 444.77h6.2M380.66 441.67v6.2" stroke="#151515" stroke-width="1.25"/>
<path d="M383.97 420.38h6.2M387.07 417.28v6.2" stroke="#151515" stroke-width="1.25"/>
<path d="M378.17 396.12h6.2M381.27 393.02v6.2" stroke="#151515" stroke-width="1.25"/>
<path d="M387.44 437.99h6.2M390.54 434.89v6.2" stroke="#151515" stroke-width="1.25"/>
<path d="M377.48 456.01h6.2M380.58 452.91v6.2" stroke="#151515" stroke-width="1.25"/>
<path d="M385.04 426.86h6.2M388.14 423.76v6.2" stroke="#151515" stroke-width="1.25"/>
<path d="M383.98 426.68h6.2M387.08 423.58v6.2" stroke="#151515" stroke-width="1.25"/>
<path d="M377.19 406.91h6.2M380.29 403.81v6.2" stroke="#151515" stroke-width="1.25"/>
<path d="M377.02 401.69h6.2M380.12 398.59v6.2" stroke="#151515" stroke-width="1.25"/>
<path d="M381.64 429.76h6.2M384.74 426.66v6.2" stroke="#151515" stroke-width="1.25"/>
<path d="M377.72 430.83h6.2M380.82 427.73v6.2" stroke="#151515" stroke-width="1.25"/>
<path d="M378.2 406.63h6.2M381.3 403.53v6.2" stroke="#151515" stroke-width="1.25"/>
<path d="M388.74 447.93h6.2M391.84 444.83v6.2" stroke="#151515" stroke-width="1.25"/>
<path d="M377.35 453.39h6.2M380.45 450.29v6.2" stroke="#151515" stroke-width="1.25"/>
<path d="M388.09 398.9h6.2M391.19 395.8v6.2" stroke="#151515" stroke-width="1.25"/>
<path d="M385.14 424.11h6.2M388.24 421.01v6.2" stroke="#151515" stroke-width="1.25"/>
<path d="M381.03 415.59h6.2M384.13 412.49v6.2" stroke="#151515" stroke-width="1.25"/>
<path d="M380.58 427.46h6.2M383.68 424.36v6.2" stroke="#151515" stroke-width="1.25"/>
<path d="M376.93 432.86h6.2M380.03 429.76v6.2" stroke="#151515" stroke-width="1.25"/>
<path d="M386.37 439.16h6.2M389.47 436.06v6.2" stroke="#151515" stroke-width="1.25"/>
<path d="M380.87 406.42h6.2M383.97 403.32v6.2" stroke="#151515" stroke-width="1.25"/>
<path d="M380.29 441.58h6.2M383.39 438.48v6.2" stroke="#151515" stroke-width="1.25"/>
<path d="M377.86 407.29h6.2M380.96 404.19v6.2" stroke="#151515" stroke-width="1.25"/>
<path d="M376.93 427.29h6.2M380.03 424.19v6.2" stroke="#151515" stroke-width="1.25"/>
<path d="M385.71 451.27h6.2M388.81 448.17v6.2" stroke="#151515" stroke-width="1.25"/>
<path d="M386.63 439.39h6.2M389.73 436.29v6.2" stroke="#151515" stroke-width="1.25"/>
<path d="M380.28 434.65h6.2M383.38 431.55v6.2" stroke="#151515" stroke-width="1.25"/>
</g>
<line x1="84.6" y1="485.2" x2="84.6" y2="478.9" stroke="#262626" stroke-width="1.1"/>
<line x1="84.6" y1="230.5" x2="84.6" y2="236.8" stroke="#262626" stroke-width="1.1"/>
<line x1="50.5" y1="451.24" x2="56.8" y2="451.24" stroke="#262626" stroke-width="1.1"/>
<line x1="306" y1="451.24" x2="299.7" y2="451.24" stroke="#262626" stroke-width="1.1"/>
<line x1="118.7" y1="485.2" x2="118.7" y2="478.9" stroke="#262626" stroke-width="1.1"/>
<line x1="118.7" y1="230.5" x2="118.7" y2="236.8" stroke="#262626" stroke-width="1.1"/>
<line x1="50.5" y1="417.28" x2="56.8" y2="417.28" stroke="#262626" stroke-width="1.1"/>
<line x1="306" y1="417.28" x2="299.7" y2="417.28" stroke="#262626" stroke-width="1.1"/>
<line x1="152.8" y1="485.2" x2="152.8" y2="478.9" stroke="#262626" stroke-width="1.1"/>
<line x1="152.8" y1="230.5" x2="152.8" y2="236.8" stroke="#262626" stroke-width="1.1"/>
<line x1="50.5" y1="383.32" x2="56.8" y2="383.32" stroke="#262626" stroke-width="1.1"/>
<line x1="306" y1="383.32" x2="299.7" y2="383.32" stroke="#262626" stroke-width="1.1"/>
<line x1="186.9" y1="485.2" x2="186.9" y2="478.9" stroke="#262626" stroke-width="1.1"/>
<line x1="186.9" y1="230.5" x2="186.9" y2="236.8" stroke="#262626" stroke-width="1.1"/>
<line x1="50.5" y1="349.36" x2="56.8" y2="349.36" stroke="#262626" stroke-width="1.1"/>
<line x1="306" y1="349.36" x2="299.7" y2="349.36" stroke="#262626" stroke-width="1.1"/>
<line x1="221" y1="485.2" x2="221" y2="478.9" stroke="#262626" stroke-width="1.1"/>
<line x1="221" y1="230.5" x2="221" y2="236.8" stroke="#262626" stroke-width="1.1"/>
<line x1="50.5" y1="315.4" x2="56.8" y2="315.4" stroke="#262626" stroke-width="1.1"/>
<line x1="306" y1="315.4" x2="299.7" y2="315.4" stroke="#262626" stroke-width="1.1"/>
<line x1="255.1" y1="485.2" x2="255.1" y2="478.9" stroke="#262626" stroke-width="1.1"/>
<line x1="255.1" y1="230.5" x2="255.1" y2="236.8" stroke="#262626" stroke-width="1.1"/>
<line x1="50.5" y1="281.44" x2="56.8" y2="281.44" stroke="#262626" stroke-width="1.1"/>
<line x1="306" y1="281.44" x2="299.7" y2="281.44" stroke="#262626" stroke-width="1.1"/>
<line x1="289.2" y1="485.2" x2="289.2" y2="478.9" stroke="#262626" stroke-width="1.1"/>
<line x1="289.2" y1="230.5" x2="289.2" y2="236.8" stroke="#262626" stroke-width="1.1"/>
<line x1="50.5" y1="247.48" x2="56.8" y2="247.48" stroke="#262626" stroke-width="1.1"/>
<line x1="306" y1="247.48" x2="299.7" y2="247.48" stroke="#262626" stroke-width="1.1"/>
<rect x="50.5" y="230.5" width="255.5" height="254.7" fill="none" stroke="#262626" stroke-width="1.3"/>
<line x1="394.8" y1="485.2" x2="394.8" y2="478.9" stroke="#262626" stroke-width="1.1"/>
<line x1="394.8" y1="220.5" x2="394.8" y2="226.8" stroke="#262626" stroke-width="1.1"/>
<line x1="368.3" y1="458.73" x2="374.6" y2="458.73" stroke="#262626" stroke-width="1.1"/>
<line x1="633.3" y1="458.73" x2="627" y2="458.73" stroke="#262626" stroke-width="1.1"/>
<line x1="447.8" y1="485.2" x2="447.8" y2="478.9" stroke="#262626" stroke-width="1.1"/>
<line x1="447.8" y1="220.5" x2="447.8" y2="226.8" stroke="#262626" stroke-width="1.1"/>
<line x1="368.3" y1="405.79" x2="374.6" y2="405.79" stroke="#262626" stroke-width="1.1"/>
<line x1="633.3" y1="405.79" x2="627" y2="405.79" stroke="#262626" stroke-width="1.1"/>
<line x1="500.8" y1="485.2" x2="500.8" y2="478.9" stroke="#262626" stroke-width="1.1"/>
<line x1="500.8" y1="220.5" x2="500.8" y2="226.8" stroke="#262626" stroke-width="1.1"/>
<line x1="368.3" y1="352.85" x2="374.6" y2="352.85" stroke="#262626" stroke-width="1.1"/>
<line x1="633.3" y1="352.85" x2="627" y2="352.85" stroke="#262626" stroke-width="1.1"/>
<line x1="553.8" y1="485.2" x2="553.8" y2="478.9" stroke="#262626" stroke-width="1.1"/>
<line x1="553.8" y1="220.5" x2="553.8" y2="226.8" stroke="#262626" stroke-width="1.1"/>
<line x1="368.3" y1="299.91" x2="374.6" y2="299.91" stroke="#262626" stroke-width="1.1"/>
<line x1="633.3" y1="299.91" x2="627" y2="299.91" stroke="#262626" stroke-width="1.1"/>
<line x1="606.8" y1="485.2" x2="606.8" y2="478.9" stroke="#262626" stroke-width="1.1"/>
<line x1="606.8" y1="220.5" x2="606.8" y2="226.8" stroke="#262626" stroke-width="1.1"/>
<line x1="368.3" y1="246.97" x2="374.6" y2="246.97" stroke="#262626" stroke-width="1.1"/>
<line x1="633.3" y1="246.97" x2="627" y2="246.97" stroke="#262626" stroke-width="1.1"/>
<rect x="368.3" y="220.5" width="265" height="264.7" fill="none" stroke="#262626" stroke-width="1.3"/>
<text x="51.7" y="507.5" font-size="12" text-anchor="middle" font-weight="normal" stroke="#111" stroke-width="0.2" >1</text>
<text x="44" y="489.4" font-size="12" text-anchor="end" font-weight="normal" stroke="#111" stroke-width="0.2" >1</text>
<text x="85.8" y="507.5" font-size="12" text-anchor="middle" font-weight="normal" stroke="#111" stroke-width="0.2" >0.8</text>
<text x="44" y="455.44" font-size="12" text-anchor="end" font-weight="normal" stroke="#111" stroke-width="0.2" >0.8</text>
<text x="119.9" y="507.5" font-size="12" text-anchor="middle" font-weight="normal" stroke="#111" stroke-width="0.2" >0.6</text>
<text x="44" y="421.48" font-size="12" text-anchor="end" font-weight="normal" stroke="#111" stroke-width="0.2" >0.6</text>
<text x="154" y="507.5" font-size="12" text-anchor="middle" font-weight="normal" stroke="#111" stroke-width="0.2" >0.4</text>
<text x="44" y="387.52" font-size="12" text-anchor="end" font-weight="normal" stroke="#111" stroke-width="0.2" >0.4</text>
<text x="188.1" y="507.5" font-size="12" text-anchor="middle" font-weight="normal" stroke="#111" stroke-width="0.2" >0.2</text>
<text x="44" y="353.56" font-size="12" text-anchor="end" font-weight="normal" stroke="#111" stroke-width="0.2" >0.2</text>
<text x="222.2" y="507.5" font-size="12" text-anchor="middle" font-weight="normal" stroke="#111" stroke-width="0.2" >0</text>
<text x="44" y="319.6" font-size="12" text-anchor="end" font-weight="normal" stroke="#111" stroke-width="0.2" >0</text>
<text x="255.1" y="507.5" font-size="12" text-anchor="middle" font-weight="normal" stroke="#111" stroke-width="0.2" >-0.2</text>
<text x="44" y="285.64" font-size="12" text-anchor="end" font-weight="normal" stroke="#111" stroke-width="0.2" >-0.2</text>
<text x="289.2" y="507.5" font-size="12" text-anchor="middle" font-weight="normal" stroke="#111" stroke-width="0.2" >-0.4</text>
<text x="44" y="251.68" font-size="12" text-anchor="end" font-weight="normal" stroke="#111" stroke-width="0.2" >-0.4</text>
<text x="178.25" y="532" font-size="12.3" text-anchor="middle" font-weight="normal" stroke="#111" stroke-width="0.2" >Offshore VRO (t=5 min)</text>
<text x="0" y="0" font-size="12.3" text-anchor="middle" font-weight="normal" stroke="#111" stroke-width="0.2" transform="translate(11.2,358.5) rotate(-90)">Offshore VRC (t=5 min)</text>
<text x="11" y="233.2" font-size="16.5" text-anchor="start" font-weight="bold" stroke="#111" stroke-width="0.2" >c</text>
<text x="255.5" y="388.6" font-size="12" text-anchor="start" font-weight="normal" stroke="#111" stroke-width="0.2" >R=0.7</text>
<text x="255" y="457.9" font-size="12" text-anchor="start" font-weight="normal" stroke="#111" stroke-width="0.2" >R=1.0</text>
<text x="396.1" y="507.2" font-size="12" text-anchor="middle" font-weight="normal" stroke="#111" stroke-width="0.2" >0</text>
<text x="361.8" y="462.93" font-size="12" text-anchor="end" font-weight="normal" stroke="#111" stroke-width="0.2" >0</text>
<text x="447.8" y="507.2" font-size="12" text-anchor="middle" font-weight="normal" stroke="#111" stroke-width="0.2" >-2</text>
<text x="361.8" y="409.99" font-size="12" text-anchor="end" font-weight="normal" stroke="#111" stroke-width="0.2" >-2</text>
<text x="500.8" y="507.2" font-size="12" text-anchor="middle" font-weight="normal" stroke="#111" stroke-width="0.2" >-4</text>
<text x="361.8" y="357.05" font-size="12" text-anchor="end" font-weight="normal" stroke="#111" stroke-width="0.2" >-4</text>
<text x="553.8" y="507.2" font-size="12" text-anchor="middle" font-weight="normal" stroke="#111" stroke-width="0.2" >-6</text>
<text x="361.8" y="304.11" font-size="12" text-anchor="end" font-weight="normal" stroke="#111" stroke-width="0.2" >-6</text>
<text x="606.8" y="507.2" font-size="12" text-anchor="middle" font-weight="normal" stroke="#111" stroke-width="0.2" >-8</text>
<text x="361.8" y="251.17" font-size="12" text-anchor="end" font-weight="normal" stroke="#111" stroke-width="0.2" >-8</text>
<text x="500.8" y="531.8" font-size="12.3" text-anchor="middle" font-weight="normal" stroke="#111" stroke-width="0.2" >Offshore VRO (t=5 min)</text>
<text x="0" y="0" font-size="12.3" text-anchor="middle" font-weight="normal" stroke="#111" stroke-width="0.2" transform="translate(340.7,353.5) rotate(-90)">Offshore VRC (t=5 min)</text>
<text x="339.5" y="233.3" font-size="16.5" text-anchor="start" font-weight="bold" stroke="#111" stroke-width="0.2" >d</text>
<text x="602" y="451.3" font-size="12" text-anchor="start" font-weight="normal" stroke="#111" stroke-width="0.2" >R=0.0</text>
</g>
</svg>
</body></html>
